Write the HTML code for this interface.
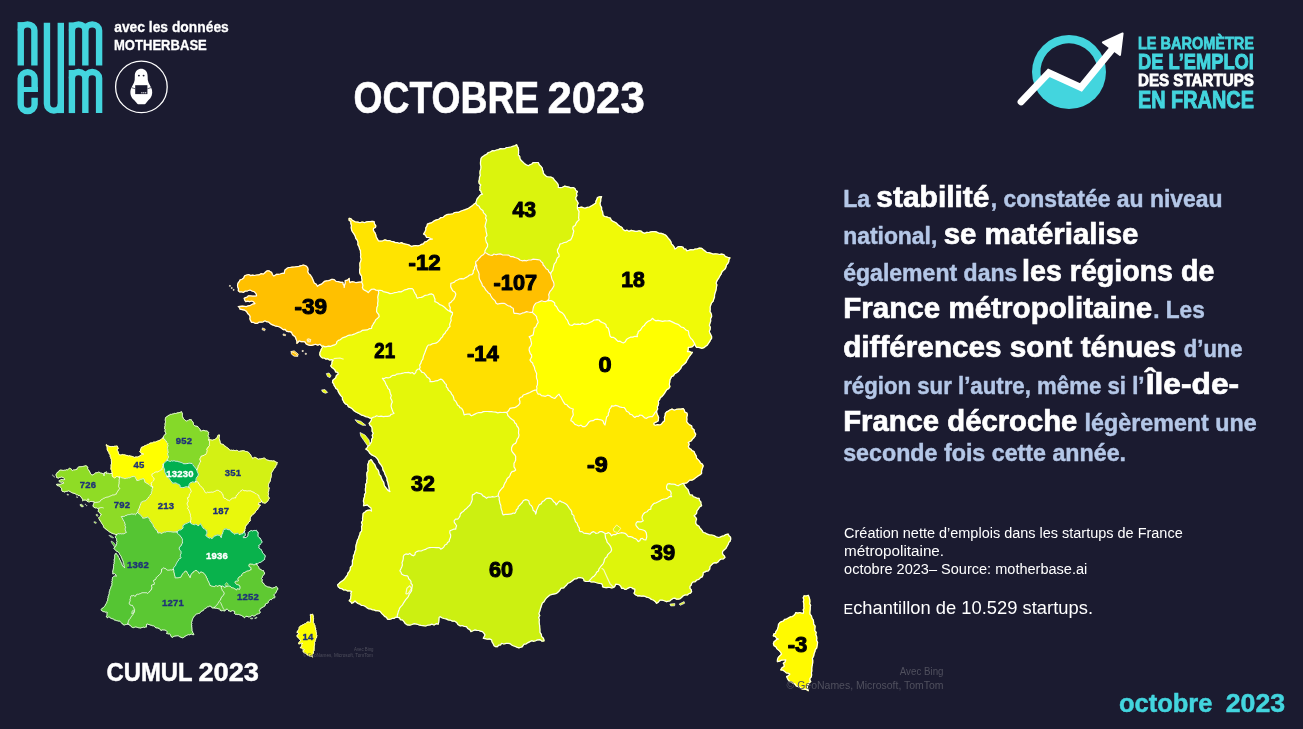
<!DOCTYPE html>
<html lang="fr"><head><meta charset="utf-8"><title>Baromètre de l’emploi des startups - octobre 2023</title>
<style>html,body{margin:0;padding:0;background:#1b1b30;}body{width:1303px;height:729px;overflow:hidden;font-family:"Liberation Sans",sans-serif;}</style></head>
<body>
<svg width="1303" height="729" viewBox="0 0 1303 729" font-family="'Liberation Sans', sans-serif" style="display:block;will-change:transform">
<rect width="1303" height="729" fill="#1b1b30"/>
<g id="bigmap">
<path d="M361.6 282 L359.7 282.2 L357.9 282.4 L356 282.7 L354.1 282 L351.9 281.7 L349.9 282.6 L349.3 280.5 L349.2 278.3 L347.5 280.1 L345.2 280.6 L345.3 283 L344.5 285.2 L344.2 287.5 L344.1 285.7 L343.1 284.1 L342.9 282.3 L340.5 282.4 L338.3 281.6 L336 281.4 L334.2 279.6 L331.9 279.3 L330.2 280.1 L328.5 280.6 L326.6 280.8 L324.6 281.3 L323.1 282.7 L321.6 284.1 L319.3 284.9 L317.4 286.3 L316.3 284.3 L314.2 283 L313.3 280.8 L312.5 278.8 L311.5 276.8 L310.3 275 L308.6 273.6 L307.7 271.7 L308.1 269.6 L307.6 267.6 L306.5 266.3 L304.9 265.5 L303.3 265 L301.1 265.7 L298.9 266.3 L296.6 266.7 L294.6 267 L292.6 267.1 L290.6 267.4 L288.6 267.5 L286.7 268.6 L285 270 L284.5 271.6 L284.3 273.3 L282.2 273.3 L280.3 274 L278.3 274.3 L276.5 274.3 L275.1 275.4 L273.6 276 L272.4 274.5 L271.7 272.6 L270 271.6 L268.8 270.8 L267.3 270.8 L265.9 271.8 L264.6 273 L263.3 274.1 L261 273.7 L258.9 274.9 L256.6 275 L254.6 275.5 L252.6 275.2 L250.7 275.6 L248.7 274.5 L246.7 275 L244.6 275.7 L243.7 278 L242 279.2 L240 280 L239.2 281.7 L238 283.2 L237.5 285 L237.7 286.9 L238.5 288.8 L238.3 290.8 L239.8 291.9 L241.7 291.8 L243.3 292.5 L245.3 291.1 L247.7 290.8 L250 290 L252 291 L254.2 291.7 L255.8 293.3 L256.4 294.5 L256.6 295.8 L254.5 296.2 L252.5 296.1 L250.4 295.9 L248.3 295.8 L247.2 297 L245.6 297.6 L244.2 298.3 L244.7 300.1 L245.8 301.6 L247.7 301.2 L249.6 301.7 L251.4 301 L253.3 301.6 L254.2 302.6 L255 303.6 L252.7 304.1 L250.6 305.3 L248.3 305.8 L246.4 306.6 L244.3 306.4 L242.3 306.2 L240.3 306.3 L238.3 306.6 L239.6 307.6 L240 309.1 L242.4 309.6 L244.7 310.2 L246.7 311.6 L247.7 313.5 L249.2 314.9 L250.2 316.6 L249.9 318.8 L250.6 320.7 L251.7 322.4 L253.7 322.4 L255.5 323.4 L257.5 323.3 L259.2 322.1 L261.3 322.1 L263.2 321.8 L265 320.8 L266.6 321.7 L268.6 322 L270 323.3 L271.5 324.4 L273.3 325.1 L275 325.8 L277.3 326.3 L279.6 327 L281.6 328.3 L283.1 329.6 L285.2 329.4 L286.5 331.1 L288.3 331.6 L290.1 331.6 L291.6 332.4 L292.3 334.1 L293.4 335.6 L295 336.6 L295.8 338.3 L296.4 339.9 L297 341.5 L296.9 343.3 L298.1 342.2 L299.1 340.8 L301 341.6 L303 341.5 L304.9 341.9 L306.2 343.9 L308.3 344.9 L310 345.4 L311.6 345.4 L313.3 344.9 L315.5 344.2 L317.8 345.1 L319.9 344.3 L321.6 345.9 L323.3 346.1 L324.9 346.9 L326.6 346.6 L328.7 346.2 L330.9 346.3 L332.8 345.4 L334.9 344.9 L336.5 343.6 L336.9 341.6 L338.4 340.4 L340.2 339.8 L341.6 338.6 L343.2 337.6 L345.5 336.9 L347.6 335.7 L349.9 335.1 L352.1 334.8 L354.2 334.2 L356.2 333.3 L358.2 332.4 L360.5 331.7 L362.5 330.3 L364.9 330.1 L367.2 329.9 L369.3 328.7 L371.6 328.3 L371.9 326.4 L372.9 324.8 L373.8 323.1 L374.9 321.6 L375.9 319.6 L377.7 318.2 L379.2 316.6 L378.8 314.7 L377.6 313.2 L376.6 311.6 L376.7 309.5 L376.9 307.4 L377.8 305.4 L377.6 303.3 L378 301.2 L378 299.2 L377.7 297.1 L378.2 295 L378.8 292.6 L378.2 290.3 L376 290.1 L373.9 289 L371.6 289.3 L369.8 290.8 L368.2 292.6 L366.7 291.3 L364.9 290.4 L363.2 289.3 L362.4 287.6 L362.9 285.6 L362.5 283.7Z" fill="#ffc000" stroke="#ffc000" stroke-width="1.2" stroke-linejoin="round"/>
<path d="M475.7 203 L473.9 204.2 L472.3 205.8 L470.4 207 L468.6 208.2 L466.6 209.1 L464.6 209.9 L462.6 210.5 L460.6 211.2 L458.8 212.3 L456.6 212.4 L454.5 212.5 L452.8 213.9 L450.8 214.2 L448.7 214.4 L446.7 214.7 L444.9 215.8 L443.1 217.4 L440.7 217.7 L438.8 219.2 L436.6 219.9 L434.7 220.6 L433 221.8 L431.3 222.9 L429.3 223.4 L427.4 224.1 L427 226.1 L425.8 227.8 L425.8 229.9 L424.8 232.1 L423.6 234.1 L425.6 235.3 L426.6 237.4 L428.7 237.5 L430.5 238.5 L432.4 239.1 L430.2 239.3 L428.3 240.1 L426.6 241.6 L424.6 242 L423.5 243.9 L421.6 244.4 L419.9 245.3 L417.9 245.9 L415.7 245.5 L413.6 245.8 L411.6 246.6 L409.7 245.4 L407.7 244.5 L405.5 244.1 L403.3 243.6 L401.4 242.6 L399.2 243.5 L397.3 242.5 L395.2 242.6 L393.3 241.6 L391.2 241.3 L389.2 240.5 L387 240.6 L385 239.9 L382.8 240.8 L380.6 241.1 L378.3 240.8 L377.3 238.9 L376.2 237 L375.8 234.9 L375.2 233.1 L374 231.6 L373.3 229.9 L373.6 228.2 L375.5 227.5 L375.8 225.8 L374.5 223.9 L374.1 221.6 L372.2 221.3 L370.3 221.6 L368.5 221.7 L366.6 221.9 L364.5 222.7 L362.1 222 L360 222.8 L357.8 222.1 L355.4 222 L353.3 220.8 L351.9 219.9 L350.8 218.6 L349.1 218.3 L349.1 220.2 L350.9 221.4 L350.8 223.3 L351.5 225.5 L351.2 227.7 L351.6 229.9 L352.6 232 L354 233.9 L355.2 236 L355.8 238.3 L357.2 240.1 L358 242.2 L357.9 244.7 L359.1 246.6 L359.5 248.7 L360.5 250.6 L360.5 252.8 L360.8 254.9 L360.5 257 L361.2 259 L360.8 261.1 L359.9 263.2 L359.9 265.5 L360.1 267.8 L359.6 270 L359.6 272.2 L360.3 274.2 L361.6 276.1 L361.6 278.3 L362.2 280.1 L361.6 282 L362.5 283.7 L362.9 285.6 L362.4 287.6 L363.2 289.3 L364.9 290.4 L366.7 291.3 L368.2 292.6 L369.8 290.8 L371.6 289.3 L373.9 289 L376 290.1 L378.2 290.3 L380 290.3 L381.7 290.5 L383.2 291.6 L385.5 292.1 L387.8 292.6 L389.9 293.6 L392.1 293.5 L394.3 292.7 L396.5 292.5 L398.7 291.7 L401.1 291.9 L403.2 290.8 L404.9 289.8 L406.9 289.4 L408.7 288.6 L410.7 288.6 L412.2 288.6 L413.2 289.6 L414 291.5 L414.9 293.3 L416.1 294.8 L416.5 296.7 L417.4 298.3 L419.3 297.5 L421.3 297.4 L423.2 296.6 L425.2 295.3 L427.6 295 L429.8 294.1 L431.8 293.9 L433.5 295 L434.2 297.1 L435 299.3 L434.8 301.6 L436.6 302.3 L438.2 303.3 L439.7 304.6 L441.6 305.2 L443.2 306.3 L444.8 307.5 L446.3 309.1 L448.1 310.4 L450 311.6 L451.1 312.3 L452.5 312.4 L450.9 311.5 L450 309.9 L450.3 307.6 L449.2 305.5 L449.1 303.3 L450.9 302.4 L452.1 300.9 L453.6 299.6 L454.5 297.9 L455.4 296 L455.8 294.1 L454.8 292 L452.7 290.7 L451.6 288.6 L450.7 286.9 L450.8 285.1 L450.8 283.3 L452.6 282.8 L454.4 282.1 L455.7 280.7 L457.5 280 L459.4 278.9 L461.6 278.7 L463.9 278.8 L465.8 277.6 L467.8 276.5 L469.6 275 L471.9 274.6 L473.2 273 L473.3 270.7 L474.6 269.1 L474.6 267.2 L475.8 265.4 L475.7 263.5 L475.8 261.6 L477.5 260.5 L478.5 258.9 L479.9 257.5 L481.5 255.7 L483.6 254.5 L484.9 252.5 L485 250.7 L485.8 249.3 L486.6 247.9 L487.5 246.6 L487.6 244.2 L486.3 242.2 L485.8 239.9 L485.4 237.6 L487 235.6 L486.6 233.3 L486 231.1 L485.9 228.7 L485 226.6 L485.4 224.3 L486 222.1 L486.6 219.9 L485.5 218.1 L486.2 215.8 L485 214.1 L483.5 212.9 L483 210.8 L481.4 209.6 L480 208.3 L479.1 206.2 L476.9 205 L475.8 203Z" fill="#ffe400" stroke="#ffe400" stroke-width="1.2" stroke-linejoin="round"/>
<path d="M475.8 203 L476.4 201.1 L477 199.1 L478.3 197.5 L479.4 196 L480.7 194.7 L482.5 194.1 L481.3 192.9 L481 191.1 L479.7 190 L480.1 188.3 L480 186.6 L480.8 185 L479.2 183.3 L478.9 181.3 L479.4 179.3 L479.5 177.3 L480.4 175.3 L480 173.3 L480.1 171.1 L480.8 168.9 L481 166.7 L480.5 164.4 L480.5 162.2 L480.8 160 L481.2 158.1 L482.5 156.7 L484.5 155.4 L486.7 154.3 L488.3 152.5 L490.4 152 L492.3 150.7 L494.6 150.8 L496.6 150 L498.6 149.6 L500.5 148.6 L502.7 148.8 L504.8 148.7 L506.6 147.5 L508.7 147.4 L510.8 147 L512.8 146.4 L514.8 145.8 L516.6 144.7 L517.3 146.5 L518.3 148.1 L518.6 150 L518.5 151.7 L518.6 153.3 L518.3 155 L519.7 156.5 L519.9 158.7 L521 160.3 L522.5 161.7 L524.2 163.4 L526.1 164.8 L528.3 165.8 L530 164.7 L531.9 164 L533.3 162.5 L535 162.7 L536.6 162.5 L538.3 162.5 L539.2 164.7 L541 166.4 L542.4 168.3 L542.5 170 L543.2 171.6 L543.3 173.3 L544.9 175 L546.6 176.6 L548.9 177 L551.2 177.2 L553.3 178.3 L554.4 180.2 L555.9 181.7 L557.4 183.3 L558.3 185.3 L558.3 187.5 L560.4 187.7 L562.5 187.3 L564.5 186.2 L566.6 186.6 L568.8 187.2 L570.9 187.8 L573.2 187.5 L574.9 188.6 L575.8 190.4 L577.4 191.6 L576.4 193.4 L576.9 195.7 L575.7 197.5 L576 199.7 L577.3 201.4 L578.2 203.3 L577.4 204.9 L577.4 206.6 L577.4 208.4 L578.2 210.1 L579.1 211.6 L578.8 213.7 L578.8 215.8 L578.6 217.8 L579.1 219.9 L577.4 221.4 L576.1 223.2 L575.2 225.4 L573.2 226.6 L572.7 228.8 L573.8 231.1 L573.2 233.3 L572.7 235.6 L571.8 237.8 L570.7 239.9 L568.5 240.6 L566.6 242.1 L564.2 242.5 L562.1 243.5 L559.9 244.1 L559.4 246.2 L558.5 248.1 L557.4 249.9 L557.6 252.2 L559 254.3 L559.1 256.6 L557.3 257.9 L556.5 260 L555.9 262.2 L554.3 263.9 L553.7 266.1 L553.2 268.3 L552.8 270.4 L551.3 272.1 L550.7 274.1 L549.9 272.7 L548.7 271.6 L548.2 270 L546.1 268.8 L544.8 266.7 L543.2 265 L542.7 263 L541.1 261.6 L539.9 260 L537.7 259.7 L535.4 259.4 L533.2 259.1 L531.1 260 L528.7 260 L526.6 260.8 L524.4 260.4 L522.1 260.8 L519.9 260 L518.5 258.7 L516.7 258 L514.9 257.5 L512.9 256.6 L510.6 256.6 L508.8 255.1 L506.6 255 L504.5 255 L502.4 254.8 L500.4 253.9 L498.3 254.1 L496.2 254.7 L494 254 L492.1 255.4 L489.9 255 L488.1 254.4 L486.7 253.2 L484.9 252.5 L485 250.7 L485.8 249.3 L486.6 247.9 L487.5 246.6 L487.6 244.2 L486.3 242.2 L485.8 239.9 L485.4 237.6 L487 235.6 L486.6 233.3 L486 231.1 L485.9 228.7 L485 226.6 L485.4 224.3 L486 222.1 L486.6 219.9 L485.5 218.1 L486.2 215.8 L485 214.1 L483.5 212.9 L483 210.8 L481.4 209.6 L480 208.3 L479.1 206.2 L476.9 205Z" fill="#dbf40d" stroke="#dbf40d" stroke-width="1.2" stroke-linejoin="round"/>
<path d="M577.5 207.5 L579.4 207.5 L581.3 207.2 L583.2 207.7 L585 208.3 L587.2 207.4 L589.5 207 L591.6 205.8 L593 204.9 L594.4 204.1 L595.8 203.3 L595.9 201.2 L596.9 199.4 L597.5 197.5 L599.5 196.8 L601.6 196.7 L600.7 198.8 L600.7 201.1 L600 203.3 L600.4 205.6 L601.6 207.6 L601.6 210 L602.6 211.8 L602.8 213.8 L603.3 215.8 L604.9 216.5 L606.6 216.9 L608.3 217.5 L610.3 218.1 L611.3 220.2 L613 221.4 L614.9 222.2 L616.6 223.3 L618.1 225 L619.9 226.3 L622 227.5 L623.1 229.5 L625 230.8 L627.1 230.2 L629.1 231.4 L631.2 230.4 L633.3 230.8 L635.2 231.3 L637.2 231.4 L639.1 230.8 L641.2 231.2 L642.8 232.7 L644.9 233.3 L646.8 232.4 L648.9 232.5 L650.8 231.9 L652.8 231.5 L654.9 231.6 L657 232.2 L659 233.3 L661.2 233.4 L663.3 234.1 L665.4 235 L666.9 236.5 L668.3 238.3 L669.8 240 L670.9 241.9 L671.6 244.1 L673.1 245.5 L674.2 247.2 L674.9 249.1 L676.6 247.9 L678.2 246.6 L679.9 246.5 L681.6 246.7 L683.2 247.4 L683.9 248.9 L685.9 249.2 L686.6 250.8 L688.8 250.4 L690.9 249.6 L693.2 249.9 L695.2 249.1 L697.3 248.8 L699.4 248.2 L701.6 248.3 L703.3 249.7 L705 251 L706.6 252.4 L708.9 252.7 L711.1 253.3 L713.2 254.1 L715.3 253.9 L717.4 254 L719.4 254.5 L721.5 254.1 L723.8 254.5 L725.4 256.6 L727.6 257.3 L729.9 257.9 L728.9 259.6 L728.7 261.7 L727.8 263.4 L726.5 264.9 L726 266.8 L725.4 268.5 L724 269.9 L722.1 271.5 L721.2 273.8 L719.9 275.8 L718.9 277.8 L717.6 279.6 L716.5 281.6 L716.1 283.3 L716.9 284.9 L716.5 286.6 L716.2 288.9 L715.7 291.1 L714.9 293.2 L714.5 295.2 L714.5 297.3 L713.7 299.1 L713.2 301.1 L711.6 302.8 L710.7 305 L710.1 307.2 L710.2 309.4 L709.9 311.6 L710.9 313.1 L711.5 314.8 L711.6 316.6 L710.5 318.7 L710.7 321.1 L709.9 323.3 L709.3 325.3 L710.3 327.3 L710.1 329.3 L709.3 331.3 L709.9 333.3 L710.8 334.9 L711.6 336.5 L711.6 338.3 L710.4 339.9 L709.6 341.7 L708.4 343.3 L707.4 345 L705.6 346.3 L703.8 347.7 L701.6 348.3 L700 347.6 L698.3 347.4 L696.6 347.4 L695.5 345.9 L694.9 344.1 L693.7 342 L692.5 339.9 L690.7 338.3 L689.7 336.5 L688.9 334.7 L688.7 332.7 L688.2 330.8 L686.3 330.2 L684.8 328.9 L683.4 327.5 L681.3 327.2 L679.9 325.8 L678 324.3 L675.8 323.7 L673.7 322.6 L671.6 321.6 L669.4 320.6 L667.1 321 L664.9 320.8 L662.6 321.3 L660.3 320.8 L658.1 320.4 L655.8 320.8 L654 319.7 L652.4 318.3 L650.8 320.2 L648.5 321.1 L646.6 322.5 L645.3 323.9 L644.3 325.6 L642.6 326.7 L641.6 328.3 L640.3 330.3 L638.3 331.6 L638 333.3 L637.1 334.8 L637.4 336.6 L635 336.3 L632.8 337.1 L630.4 337.2 L628.3 338.3 L626.4 339.6 L625.3 341.7 L623.3 343 L621.6 342.3 L620.1 341.2 L618 341.4 L616.6 340 L615.2 338.5 L613.6 337.4 L611.3 337.4 L610 335.8 L609.6 333.9 L609.3 332 L608.8 330.2 L608.3 328.3 L606.4 327 L605.9 324.6 L604.1 323.3 L602.2 322.5 L600.4 321.6 L599.1 320 L597.4 319.7 L595.8 319.9 L594.1 320 L592.3 321.4 L590.2 322.2 L588.3 323.3 L586.3 323.9 L584.3 324.1 L582.2 323.1 L580.3 324.5 L578.3 324.1 L576.2 324.4 L574.1 323.9 L572.1 325.4 L570 325 L568.6 323.6 L568 321.6 L567.1 319.8 L565.8 318.3 L564.8 316.1 L563.5 314.1 L561.7 312.5 L559.8 311.6 L558.4 310.2 L557.4 308.3 L556.5 306.5 L554.8 305.2 L554.7 303 L553.2 301.6 L551.4 300.7 L549.4 300.6 L547.4 300.8 L548.9 299 L549.1 296.6 L548.7 294.8 L549.3 293.2 L549.9 291.6 L551.5 289.8 L552.8 287.9 L554 285.8 L554 283.7 L553.4 281.8 L552.4 280 L551.7 278.1 L551.3 276.1 L550.7 274.1 L551.3 272.1 L552.8 270.4 L553.2 268.3 L553.7 266.1 L554.3 263.9 L555.9 262.2 L556.5 260 L557.3 257.9 L559.1 256.6 L559 254.3 L557.6 252.2 L557.4 249.9 L558.5 248.1 L559.4 246.2 L559.9 244.1 L562.1 243.5 L564.2 242.5 L566.6 242.1 L568.5 240.6 L570.7 239.9 L571.8 237.8 L572.7 235.6 L573.2 233.3 L573.8 231.1 L572.7 228.8 L573.2 226.6 L575.2 225.4 L576.1 223.2 L577.4 221.4 L579.1 219.9 L578.6 217.8 L578.8 215.8 L578.8 213.7 L579.1 211.6 L578.2 210.1 L577.4 208.4 L577.4 206.6Z" fill="#f0fa07" stroke="#f0fa07" stroke-width="1.2" stroke-linejoin="round"/>
<path d="M547.4 300.8 L549.4 300.6 L551.4 300.7 L553.2 301.6 L554.7 303 L554.8 305.2 L556.5 306.5 L557.4 308.3 L558.4 310.2 L559.8 311.6 L561.7 312.5 L563.5 314.1 L564.8 316.1 L565.8 318.3 L567.1 319.8 L568 321.6 L568.6 323.6 L570 325 L572.1 325.4 L574.1 323.9 L576.2 324.4 L578.3 324.1 L580.3 324.5 L582.2 323.1 L584.3 324.1 L586.3 323.9 L588.3 323.3 L590.2 322.2 L592.3 321.4 L594.1 320 L595.8 319.9 L597.4 319.7 L599.1 320 L600.4 321.6 L602.2 322.5 L604.1 323.3 L605.9 324.6 L606.4 327 L608.3 328.3 L608.8 330.2 L609.3 332 L609.6 333.9 L610 335.8 L611.3 337.4 L613.6 337.4 L615.2 338.5 L616.6 340 L618 341.4 L620.1 341.2 L621.6 342.3 L623.3 343 L625.3 341.7 L626.4 339.6 L628.3 338.3 L630.4 337.2 L632.8 337.1 L635 336.3 L637.4 336.6 L637.1 334.8 L638 333.3 L638.3 331.6 L640.3 330.3 L641.6 328.3 L642.6 326.7 L644.3 325.6 L645.3 323.9 L646.6 322.5 L648.5 321.1 L650.8 320.2 L652.4 318.3 L654 319.7 L655.8 320.8 L658.1 320.4 L660.3 320.8 L662.6 321.3 L664.9 320.8 L667.1 321 L669.4 320.6 L671.6 321.6 L673.7 322.6 L675.8 323.7 L678 324.3 L679.9 325.8 L681.3 327.2 L683.4 327.5 L684.8 328.9 L686.3 330.2 L688.2 330.8 L688.7 332.7 L688.9 334.7 L689.7 336.5 L690.7 338.3 L692.5 339.9 L693.7 342 L694.9 344.1 L693.6 345.3 L692.4 346.6 L690.3 347.1 L688.2 347.4 L688.2 349.6 L687.4 351.6 L689.1 351.4 L690.7 352.1 L692.4 352.4 L691.2 353.8 L690.2 355.3 L689 356.7 L688.2 358.3 L687 360 L686.2 362 L684.8 363.5 L683.2 364.9 L681.6 366.3 L680.8 368.3 L679.4 369.9 L678.2 371.6 L676.4 372.7 L674.7 373.8 L673.5 375.7 L671.6 376.6 L670.8 378.3 L669.9 379.9 L669.7 382.1 L669.3 384.4 L669.9 386.6 L668.8 388.5 L666.8 389.6 L665.6 391.3 L664.6 393.2 L663.3 394.9 L662 396.4 L660.3 397.6 L659.6 399.6 L658.3 401.1 L658.6 403.1 L658.3 405 L657.3 406.8 L657.7 409 L656.6 410.8 L655 412.6 L653.8 414.7 L652.4 416.6 L650.3 416.6 L648.4 417.1 L646.6 418.3 L644.7 417.9 L643.3 416.5 L641.8 415.3 L639.9 415 L638.5 416.4 L636.4 416.3 L634.9 417.5 L633.3 416.2 L631.9 414.7 L629.9 414.1 L628.7 412.2 L626.5 411.3 L625.5 409.2 L624.1 407.5 L621.8 407.4 L619.6 406.9 L617.5 405.8 L615.5 405.4 L613.6 406.2 L611.6 405.8 L610.9 407.7 L609.3 409.3 L609.3 411.5 L608.3 413.3 L608.3 415.4 L606.6 417 L606.2 419 L605.8 421 L605.4 423 L605 425 L603.8 423.4 L603.2 421.3 L601.6 420 L599.5 419.7 L597.5 419.1 L595.2 419.3 L593.2 420.7 L590.8 420.8 L589 421.9 L587.8 423.6 L586.6 425.3 L585 426.6 L582.8 426.7 L581 425.1 L578.7 426 L576.7 425 L574.9 424.4 L573.7 422.9 L572.5 421.5 L570.8 420.8 L571.3 418.7 L572.3 416.8 L573.3 415 L573 413 L572.7 411.1 L573.3 409.1 L571.5 408.5 L569.8 407.7 L568.3 406.6 L567 404.8 L564.9 404.1 L563.6 402.2 L562.5 400.3 L561.5 398.3 L560.8 396.8 L559.7 395.6 L559 394.1 L557.5 395.4 L556.2 396.8 L554.9 398.3 L553.1 397.8 L551.3 397.1 L549.9 395.8 L547.7 395.2 L545.4 396.3 L543.2 395.8 L541.4 395.6 L540.1 394.1 L538.2 394.1 L537 392.2 L536.6 390 L537 388.4 L536.6 386.6 L537.4 385 L537.5 382.7 L537.5 380.5 L536.6 378.3 L536.4 376 L536.7 373.7 L535.7 371.6 L534.8 369.4 L534.4 367.1 L533.2 365 L532.6 363 L531 361.7 L529.9 360 L530.8 358.5 L531.7 356.9 L531.6 355 L530.3 353.6 L529.7 351.8 L529.1 350 L529.4 347.6 L531 345.6 L531.6 343.3 L531 341 L530.5 338.7 L529.1 336.7 L531.2 335.9 L533.2 334.9 L533.5 332.7 L534 330.5 L534.1 328.3 L536 326.7 L536.9 324.4 L538.2 322.4 L537.7 320.4 L536.8 318.6 L536.6 316.6 L535.3 315.1 L533.8 313.8 L532.4 312.4 L532.9 310.4 L533.2 308.3 L533.7 306.5 L534.6 304.8 L535.7 303.3 L537.8 302.5 L539.9 301.6 L541.7 300.8 L543.7 301.5 L545.6 301.6Z" fill="#ffff00" stroke="#ffff00" stroke-width="1.2" stroke-linejoin="round"/>
<path d="M475.8 261.6 L475.7 263.5 L475.8 265.4 L474.6 267.2 L474.6 269.1 L473.3 270.7 L473.2 273 L471.9 274.6 L469.6 275 L467.8 276.5 L465.8 277.6 L463.9 278.8 L461.6 278.7 L459.4 278.9 L457.5 280 L455.7 280.7 L454.4 282.1 L452.6 282.8 L450.8 283.3 L450.8 285.1 L450.7 286.9 L451.6 288.6 L452.7 290.7 L454.8 292 L455.8 294.1 L455.4 296 L454.5 297.9 L453.6 299.6 L452.1 300.9 L450.9 302.4 L449.1 303.3 L449.2 305.5 L450.3 307.6 L450 309.9 L450.9 311.5 L452.5 312.4 L452.4 314.5 L451.4 316.3 L450.8 318.3 L451.2 320.4 L450.4 322.4 L449.6 324.5 L450 326.6 L448.3 328 L447.5 329.9 L445.9 331.4 L445 333.3 L443.3 334.7 L442.5 336.9 L440.8 338.3 L439.5 340.3 L437.8 341.9 L435.8 343.2 L433.9 343.5 L432 343.9 L430.3 345 L428.3 345 L427.2 346.5 L426.5 348.3 L425.8 350 L425 352.2 L424.1 354.4 L423.3 356.6 L422.9 359 L421.5 361 L420.8 363.3 L419.6 365.1 L420.2 367.3 L419.2 369.1 L420.6 370.4 L421.7 372.1 L423.7 372.7 L425 374.1 L426.2 375.7 L427.3 377.3 L429.1 378.3 L430.2 379.8 L430 381.6 L432 381.6 L433.9 381.5 L435.8 380.8 L437.6 380.7 L439.2 379.8 L440.8 379.1 L442.6 380.1 L443.8 381.7 L445 383.3 L446.4 384.7 L446.3 386.8 L447.7 388.2 L448.3 390 L449.7 391.1 L450.9 392.4 L451.6 394.1 L453 395.8 L453.7 397.8 L454.1 399.9 L455.7 401.3 L456.7 403 L457.5 404.9 L459 405.9 L459.9 407.6 L461.6 408.3 L462.9 410.3 L463.6 412.6 L464.1 414.9 L466 414.3 L467.9 414 L469.9 414.1 L470.4 415.3 L471.6 415.8 L473.2 414.9 L474.9 414.1 L476.6 413.3 L478.8 412.5 L481.2 412.7 L483.3 411.6 L485.4 411.5 L487.5 411.5 L489.5 411.7 L491.6 411.6 L493.7 412 L495.7 412.2 L497.8 412.8 L499.9 412.4 L502.1 412.5 L504.4 412.3 L506.6 412.4 L508.1 411.3 L509.1 409.9 L509.9 408.3 L512.2 407.9 L514.5 407.7 L516.6 406.6 L518.5 405.2 L519.9 403.3 L519.9 401.1 L519.1 399.1 L520.2 397.5 L522.3 396.8 L523.2 395 L525.5 394.3 L527.7 393.4 L529.9 392.5 L531.5 391.6 L533.2 390.8 L534.8 390.1 L536.6 390 L537 388.4 L536.6 386.6 L537.4 385 L537.5 382.7 L537.5 380.5 L536.6 378.3 L536.4 376 L536.7 373.7 L535.7 371.6 L534.8 369.4 L534.4 367.1 L533.2 365 L532.6 363 L531 361.7 L529.9 360 L530.8 358.5 L531.7 356.9 L531.6 355 L530.3 353.6 L529.7 351.8 L529.1 350 L529.4 347.6 L531 345.6 L531.6 343.3 L531 341 L530.5 338.7 L529.1 336.7 L531.2 335.9 L533.2 334.9 L533.5 332.7 L534 330.5 L534.1 328.3 L536 326.7 L536.9 324.4 L538.2 322.4 L537.7 320.4 L536.8 318.6 L536.6 316.6 L535.3 315.1 L533.8 313.8 L532.4 312.4 L530.4 312.3 L528.5 312 L526.6 311.6 L524.4 312.6 L522.1 313.2 L519.9 314.1 L518 313.6 L516.1 313.4 L514.1 313.3 L513.6 311.7 L513.5 310 L513.2 308.3 L511.5 307.5 L510.2 306.1 L508.3 305.8 L506.9 305 L505.5 304.1 L504.1 303.3 L501.8 303.4 L499.6 303.7 L497.4 304.1 L495.9 303 L495.3 301.2 L494.1 299.9 L492.8 298.7 L491.7 297.3 L490.8 295.8 L490.1 294.1 L488.4 293.1 L487.4 291.6 L485.9 290.3 L485 288.6 L484 287 L482.4 285.8 L481.9 283.7 L480.9 281.9 L479.9 280 L479.2 278.1 L479 276.1 L479.1 274.1 L478.4 271.9 L477.2 269.8 L476.6 267.5 L476.7 265.5 L475.6 263.6Z" fill="#ffe000" stroke="#ffe000" stroke-width="1.2" stroke-linejoin="round"/>
<path d="M321.6 345.9 L323.3 346.1 L324.9 346.9 L326.6 346.6 L328.7 346.2 L330.9 346.3 L332.8 345.4 L334.9 344.9 L336.5 343.6 L336.9 341.6 L338.4 340.4 L340.2 339.8 L341.6 338.6 L343.2 337.6 L345.5 336.9 L347.6 335.7 L349.9 335.1 L352.1 334.8 L354.2 334.2 L356.2 333.3 L358.2 332.4 L360.5 331.7 L362.5 330.3 L364.9 330.1 L367.2 329.9 L369.3 328.7 L371.6 328.3 L371.9 326.4 L372.9 324.8 L373.8 323.1 L374.9 321.6 L375.9 319.6 L377.7 318.2 L379.2 316.6 L378.8 314.7 L377.6 313.2 L376.6 311.6 L376.7 309.5 L376.9 307.4 L377.8 305.4 L377.6 303.3 L378 301.2 L378 299.2 L377.7 297.1 L378.2 295 L378.8 292.6 L378.2 290.3 L380 290.3 L381.7 290.5 L383.2 291.6 L385.5 292.1 L387.8 292.6 L389.9 293.6 L392.1 293.5 L394.3 292.7 L396.5 292.5 L398.7 291.7 L401.1 291.9 L403.2 290.8 L404.9 289.8 L406.9 289.4 L408.7 288.6 L410.7 288.6 L412.2 288.6 L413.2 289.6 L414 291.5 L414.9 293.3 L416.1 294.8 L416.5 296.7 L417.4 298.3 L419.3 297.5 L421.3 297.4 L423.2 296.6 L425.2 295.3 L427.6 295 L429.8 294.1 L431.8 293.9 L433.5 295 L434.2 297.1 L435 299.3 L434.8 301.6 L436.6 302.3 L438.2 303.3 L439.7 304.6 L441.6 305.2 L443.2 306.3 L444.8 307.5 L446.3 309.1 L448.1 310.4 L450 311.6 L451.1 312.3 L452.5 312.4 L452.4 314.5 L451.4 316.3 L450.8 318.3 L451.2 320.4 L450.4 322.4 L449.6 324.5 L450 326.6 L448.3 328 L447.5 329.9 L445.9 331.4 L445 333.3 L443.3 334.7 L442.5 336.9 L440.8 338.3 L439.5 340.3 L437.8 341.9 L435.8 343.2 L433.9 343.5 L432 343.9 L430.3 345 L428.3 345 L427.2 346.5 L426.5 348.3 L425.8 350 L425 352.2 L424.1 354.4 L423.3 356.6 L422.9 359 L421.5 361 L420.8 363.3 L419.6 365.1 L420.2 367.3 L419.2 369.1 L418.2 369.1 L416.3 370.4 L415.7 372.6 L414.1 374.1 L412.4 372.5 L410.5 373.1 L408.6 372.4 L406.8 372.7 L404.9 372.5 L402.9 373.2 L400.8 373.7 L398.7 373.8 L396.6 374.1 L395.1 375.4 L393 375.3 L391.3 376.2 L389.9 377.5 L388 377.8 L386.1 377.5 L384.3 378.5 L382.4 378.3 L383.6 380 L384.9 381.6 L385.6 383.4 L386.3 385.1 L387.4 386.6 L387.9 388.4 L389.5 389.7 L389.9 391.6 L390.4 393.7 L391.3 395.6 L390.5 398 L391.6 399.9 L392.3 402 L391.4 404.1 L391.1 406.2 L391.6 408.3 L392.3 410 L392.9 411.8 L394.1 413.3 L392.6 414 L391 414.4 L389.9 415.8 L387.7 416.4 L385.5 416.3 L383.3 416.6 L381.1 416.1 L378.8 416.5 L376.6 415.8 L375 416.7 L373.2 417.3 L371.6 418.3 L369.6 417.9 L367.8 417 L365.8 416.6 L363.9 415.7 L361.8 415.2 L359.9 414.1 L358 413 L356 412 L354.1 410.8 L352.5 409 L350.5 407.6 L348.3 406.6 L347.4 404.7 L345.4 403.9 L344.1 402.4 L343.3 400.8 L342.4 399.3 L342.5 397.4 L340.8 395.7 L339.5 393.7 L338.3 391.6 L337.7 389.6 L335.9 388.4 L335 386.6 L334.1 385.3 L333.7 383.6 L332.5 382.5 L332.7 380.5 L334.1 379.1 L335.8 377.7 L336.4 375.4 L338.3 374.1 L337.7 372.3 L335.6 371.8 L335 370 L333.6 368.6 L331.9 367.5 L330.8 365.8 L331.9 364 L332 361.8 L333.3 360 L331.4 359.6 L329.5 360 L327.8 358.7 L325.8 359.1 L324.2 358 L322.2 357.9 L320.8 356.6 L319.8 354.7 L320 352.5 L320.8 350.8 L321.4 349 L322.5 347.5Z" fill="#edf908" stroke="#edf908" stroke-width="1.2" stroke-linejoin="round"/>
<path d="M371.6 418.3 L373.2 417.3 L375 416.7 L376.6 415.8 L378.8 416.5 L381.1 416.1 L383.3 416.6 L385.5 416.3 L387.7 416.4 L389.9 415.8 L391 414.4 L392.6 414 L394.1 413.3 L392.9 411.8 L392.3 410 L391.6 408.3 L391.1 406.2 L391.4 404.1 L392.3 402 L391.6 399.9 L390.5 398 L391.3 395.6 L390.4 393.7 L389.9 391.6 L389.5 389.7 L387.9 388.4 L387.4 386.6 L386.3 385.1 L385.6 383.4 L384.9 381.6 L383.6 380 L382.4 378.3 L384.3 378.5 L386.1 377.5 L388 377.8 L389.9 377.5 L391.3 376.2 L393 375.3 L395.1 375.4 L396.6 374.1 L398.7 373.8 L400.8 373.7 L402.9 373.2 L404.9 372.5 L406.8 372.7 L408.6 372.4 L410.5 373.1 L412.4 372.5 L414.1 374.1 L415.7 372.6 L416.3 370.4 L418.2 369.1 L419.2 369.1 L420.6 370.4 L421.7 372.1 L423.7 372.7 L425 374.1 L426.2 375.7 L427.3 377.3 L429.1 378.3 L430.2 379.8 L430 381.6 L432 381.6 L433.9 381.5 L435.8 380.8 L437.6 380.7 L439.2 379.8 L440.8 379.1 L442.6 380.1 L443.8 381.7 L445 383.3 L446.4 384.7 L446.3 386.8 L447.7 388.2 L448.3 390 L449.7 391.1 L450.9 392.4 L451.6 394.1 L453 395.8 L453.7 397.8 L454.1 399.9 L455.7 401.3 L456.7 403 L457.5 404.9 L459 405.9 L459.9 407.6 L461.6 408.3 L462.9 410.3 L463.6 412.6 L464.1 414.9 L466 414.3 L467.9 414 L469.9 414.1 L470.4 415.3 L471.6 415.8 L473.2 414.9 L474.9 414.1 L476.6 413.3 L478.8 412.5 L481.2 412.7 L483.3 411.6 L485.4 411.5 L487.5 411.5 L489.5 411.7 L491.6 411.6 L493.7 412 L495.7 412.2 L497.8 412.8 L499.9 412.4 L502.1 412.5 L504.4 412.3 L506.6 412.4 L506.5 412.5 L507.5 413.8 L507.8 415.5 L509 416.7 L510.5 418.3 L512.2 419.6 L514 420.8 L514.7 422.7 L516.3 424 L516.9 426 L518.2 427.5 L518.8 429.3 L518.6 431.3 L518.5 433.2 L519 435 L518.5 437.3 L517 439.3 L516.5 441.6 L515.5 443.4 L513.6 444.2 L512.4 445.8 L511.6 447.8 L511.5 450 L512.3 451.9 L513.6 453.5 L514.9 455 L515.7 456.6 L515.6 458.3 L515.7 460 L515 461.6 L514 463.2 L514 465 L514 466.9 L515 468.4 L515.7 470 L514.1 471.2 L512 471.6 L510.7 473.3 L510.1 475.2 L509.1 476.9 L507.4 478.2 L506.5 479.9 L505.9 481.7 L504.8 483.2 L504 484.9 L503.5 486.9 L502 488.3 L500.7 489.9 L499.3 491.6 L498.5 493.6 L498.2 495.8 L496.3 496.5 L494.4 497 L492.4 496.6 L490.4 497.2 L488.3 497.1 L486.5 498.3 L484.9 496.9 L482.9 495.9 L481.6 494.1 L480 493.5 L478.2 493.2 L476.6 492.4 L475.2 493.3 L474 494.4 L472.4 494.9 L472.1 497.1 L472.3 499.4 L471.6 501.6 L470.8 503.5 L469.8 505.2 L468.2 506.6 L466.6 508.4 L464.7 509.8 L463.2 511.6 L461.6 512.5 L460.3 514 L460 515.9 L459.1 517.5 L457.8 519.2 L455.5 519.2 L454.1 520.8 L454.4 522.7 L455.6 524.2 L456.6 525.8 L456 527.4 L455.7 529.2 L453.6 529.2 L451.8 530 L449.9 530.8 L449.8 533 L450.7 535 L450.5 537.3 L449.5 539.4 L449.1 541.6 L447.5 542.5 L446.7 544.3 L444.9 545 L443.9 546.8 L442.6 548.2 L440.7 549.1 L439.7 547.9 L438.3 547.5 L436.1 547.6 L433.8 547.5 L431.6 547.5 L429.4 547.6 L427.3 548.3 L425.4 549.4 L423.3 550 L421.2 551 L418.8 550.9 L416.6 551.6 L415.2 552.8 L414.9 554.8 L413.3 555.8 L411.3 554.9 L409.9 553.3 L408.1 554.4 L405.9 553.9 L404.1 555 L403.3 556.5 L403.3 558.3 L402.9 560.5 L402 562.7 L402.4 565 L401.7 567 L400.8 568.9 L399.9 570.8 L401.1 572.3 L401.6 574.1 L403.4 575.1 L405.3 575.7 L407.4 575.8 L408.3 577.1 L408.7 578.8 L409.9 579.9 L411 581.4 L411 583.5 L412.4 584.9 L412.1 586.9 L411.7 588.8 L411.6 590.8 L410.3 592.6 L409.1 594.5 L408.3 596.6 L407.2 598 L405.9 599.3 L404.9 600.8 L403.6 602.8 L402.5 604.9 L400.8 606.6 L399.6 608.1 L399 609.9 L398.3 611.6 L397.9 613.5 L397.2 615.4 L397.4 617.4 L395.7 617.2 L394.2 618.3 L392.5 618.3 L390.9 619 L389.2 619.3 L387.5 619.1 L386.5 617.3 L384.6 616.4 L383.3 614.9 L381.9 613.6 L380.7 612 L379.1 610.8 L377.4 610.6 L375.7 610.6 L374.1 609.9 L372.1 609.6 L370.3 608.8 L368.3 608.6 L366.6 607.4 L365.1 606.2 L363.4 605.5 L361.4 605.4 L360 604.1 L358 603.5 L356.4 602.3 L355 600.8 L353.6 602.4 L351.7 603.3 L350.8 601.7 L349.2 600.8 L350.6 598.9 L350.8 596.6 L351.2 594.9 L350.8 593.2 L351.7 591.6 L349.8 590.8 L347.6 590.9 L345.8 589.9 L343.7 590 L342 588.7 L340 588.3 L338.3 586.9 L337.5 584.9 L338.9 583.8 L340 582.4 L341.8 581.2 L343.6 580 L345 578.3 L346.2 576.7 L347.4 575.1 L347.9 573.1 L349.2 571.6 L350.3 569.6 L350.4 567.3 L352.2 565.6 L352.5 563.3 L352.4 560.8 L353.5 558.6 L353.4 556.1 L354.4 553.9 L355 551.6 L355.9 549.4 L355.8 546.9 L356.2 544.6 L357 542.3 L357.5 540 L358.6 538.4 L359 536.4 L359.9 534.6 L360.2 532.6 L361.6 531.1 L361.8 529 L361.5 526.8 L362.4 524.7 L361.5 522.5 L362.7 520.5 L362.5 518.3 L362.9 516 L363.1 513.6 L364.1 512.6 L365.3 511.9 L366.2 510.8 L367.6 510.4 L369.7 510.1 L371.5 511.1 L371.3 509.5 L371 507.9 L369 506.6 L367.3 504.9 L365.4 505.4 L363.5 505.6 L364 503.4 L363.4 501 L363.8 498.8 L364.6 496.6 L364.5 494.6 L365.7 492.7 L365.4 490.6 L365.4 488.6 L365.8 486.6 L365.5 484.5 L366.9 482.7 L366.6 480.6 L367.2 478.7 L367 476.6 L366.8 474.6 L367 472.6 L368.1 470.7 L367.8 468.6 L368 466.6 L367.8 464.6 L368.6 462.8 L369 461 L370 460.4 L371 459.6 L372.2 461.2 L373.2 462.9 L374.6 464.3 L375.5 466.4 L376.3 468.5 L378.1 470.1 L378.8 472.3 L379.2 474.5 L380.8 476.2 L381.4 478.3 L382.3 480.3 L383.6 482 L384 484.2 L384.6 486.2 L386 487.9 L387.1 489.3 L388.3 490.8 L390 491.6 L389.1 490 L389.2 488.1 L388.7 486.3 L388.3 484.6 L387.9 482.5 L387.1 480.5 L387 478.3 L386 476.3 L385 474.2 L384.3 471.9 L383 469.9 L382.6 467.5 L381.6 465.7 L380.3 464 L379 462.4 L378.4 460.3 L377.3 458.6 L375.6 456.8 L373.5 455.7 L371.4 454.6 L369.6 453 L368.7 451.3 L367.3 450.1 L365.8 449.1 L367.3 447.6 L368.3 445.8 L369.5 444.5 L370.7 443.2 L371.6 441.6 L371.6 439.4 L372.8 437.5 L372.2 435.2 L373.3 433.3 L372.1 431.3 L372.2 428.9 L371.6 426.7 L370 425.2 L369.1 423.3 L370.3 421.8 L371.3 420.3Z" fill="#e4f70a" stroke="#e4f70a" stroke-width="1.2" stroke-linejoin="round"/>
<path d="M536.6 390 L534.8 390.1 L533.2 390.8 L531.5 391.6 L529.9 392.5 L527.7 393.4 L525.5 394.3 L523.2 395 L522.3 396.8 L520.2 397.5 L519.1 399.1 L519.9 401.1 L519.9 403.3 L518.5 405.2 L516.6 406.6 L514.5 407.7 L512.2 407.9 L509.9 408.3 L509.1 409.9 L508.1 411.3 L506.6 412.4 L506.5 412.5 L507.5 413.8 L507.8 415.5 L509 416.7 L510.5 418.3 L512.2 419.6 L514 420.8 L514.7 422.7 L516.3 424 L516.9 426 L518.2 427.5 L518.8 429.3 L518.6 431.3 L518.5 433.2 L519 435 L518.5 437.3 L517 439.3 L516.5 441.6 L515.5 443.4 L513.6 444.2 L512.4 445.8 L511.6 447.8 L511.5 450 L512.3 451.9 L513.6 453.5 L514.9 455 L515.7 456.6 L515.6 458.3 L515.7 460 L515 461.6 L514 463.2 L514 465 L514 466.9 L515 468.4 L515.7 470 L514.1 471.2 L512 471.6 L510.7 473.3 L510.1 475.2 L509.1 476.9 L507.4 478.2 L506.5 479.9 L505.9 481.7 L504.8 483.2 L504 484.9 L503.5 486.9 L502 488.3 L500.7 489.9 L499.3 491.6 L498.5 493.6 L498.2 495.8 L499.3 497.5 L499.1 499.5 L499.6 501.4 L499.9 503.3 L500.8 505.4 L500.9 507.7 L501.5 509.9 L502.2 511.5 L502.3 513.3 L503.2 514.9 L505.4 514.4 L507.7 514.4 L509.9 514.1 L511.6 513.9 L513.1 513 L514.9 513.3 L515.9 511.7 L516.3 509.8 L517.9 508.5 L518.2 506.6 L519.7 505.3 L520.9 503.9 L522.3 502.5 L523.2 500.8 L525.1 499.7 L527.3 499.9 L528.9 501 L529.2 503 L530 504.6 L531.5 505.8 L532.6 507.8 L533.1 510.2 L535.1 511.8 L535.7 514.1 L536.3 512.2 L536.5 510.2 L537.4 508.4 L538.2 506.6 L539.2 504.7 L541.4 503.6 L542.3 501.6 L544.1 500.8 L545.4 499.3 L547 498.3 L549.1 498.2 L551.2 498.7 L552.6 500.2 L553.7 501.8 L555.4 503 L556.2 504.9 L557.4 503.5 L558.5 502 L560 500.8 L561.5 501.9 L563.3 502.5 L565.2 503.6 L567 504.8 L568.3 506.6 L569.3 508.3 L570.7 509.9 L571.7 511.6 L571.9 514 L573.9 515.6 L574.1 517.9 L575 520 L575.5 521.8 L577.1 523.1 L577.5 524.9 L578.3 526.6 L579.4 528.1 L579.2 530 L580 531.6 L582.1 531.6 L583.8 533.1 L585.8 533.3 L587.9 533.7 L590 534.1 L591.4 532.6 L593.3 531.6 L594.7 532.2 L595.8 533.3 L598.1 533 L600 531.6 L601.9 531.6 L603.5 532.4 L605 533.3 L606.8 533.5 L608.3 532.5 L610.3 533.8 L611.6 535.8 L613.3 534.6 L615.4 534.7 L617.1 533.5 L619.1 533.3 L621.1 532.7 L623 532.8 L625 533.3 L626.8 534.8 L628.3 536.6 L630.4 536.7 L632.3 537.2 L634.1 538.3 L635.9 538.9 L637.2 540.1 L638.3 541.6 L639.8 540.7 L640.6 538.9 L642.4 538.3 L643.8 539.7 L645.8 540 L646.4 538.4 L646.8 536.7 L646.6 535 L646.2 532.7 L644.9 530.8 L643 530 L641.1 529.5 L639.1 529.1 L637.9 527.8 L636.7 526.5 L635.8 525 L636.1 523.1 L637.4 521.6 L639.4 521.8 L641.4 521.8 L643.3 520.8 L642.4 519.2 L642 517.6 L642.4 515.8 L643.4 514 L644.9 512.5 L647.1 511.7 L648.6 509.8 L650.8 509.1 L651 506.8 L652.4 505 L654 503.3 L656.3 502.8 L658.3 501.7 L660 500.9 L661.5 499.8 L663.3 499.2 L665.5 498.9 L667.5 498.3 L669.3 496.7 L671.6 496.7 L670.8 495.1 L671.2 493.3 L670.7 491.7 L669.6 490.3 L667.6 489.8 L666.6 488.3 L666.6 486.2 L667.4 484.2 L669.3 483.7 L671.3 484.1 L673.2 484.2 L675 484.4 L676.5 485.2 L678.2 485.8 L679.7 484.7 L681.5 484 L683.2 483.3 L685 483.2 L686.8 482.8 L688.2 481.6 L689.6 480.2 L691.7 480.2 L693.4 479.4 L694.9 478.3 L696.6 477.1 L698.3 475.8 L700.1 474.8 L701.6 473.3 L701.5 471.3 L701.9 469.4 L702.6 467.6 L703.2 465.8 L702.2 464.1 L700.4 462.9 L699.4 461.1 L698.1 459.6 L696.6 458.3 L696.2 455.9 L694.9 453.9 L694.1 451.6 L692.2 450.8 L690.9 449.2 L689.1 448.3 L688.3 446.4 L689.2 444.3 L688.2 442.5 L689.8 441.6 L691.4 440.7 L692.4 439.1 L693.9 437.7 L695.1 436.1 L695.7 434.1 L694.4 432.1 L694.1 429.7 L692 428.2 L691.6 425.8 L689.5 424.9 L688 423.3 L686.6 421.6 L686.9 419.4 L686.7 417.1 L687.4 415 L686.9 413 L684.8 412.1 L684.3 410.1 L683.2 408.6 L681 409.1 L678.8 409 L676.5 409.3 L674.4 410.2 L672 409.1 L669.9 410 L668.3 411.1 L666.6 411.9 L665.3 413.3 L665.3 415.3 L664.4 417.2 L664.6 419.1 L664.4 421.1 L662.8 422.3 L661.6 423.9 L659.9 425 L657.6 424.6 L655.3 425.3 L654 424.7 L653.8 423.3 L655.3 422.4 L656.8 421.7 L658.3 420.8 L658.4 419.1 L658.6 417.4 L657.9 415.8 L657.2 414.2 L656.7 412.6 L656.6 410.8 L655 412.6 L653.8 414.7 L652.4 416.6 L650.3 416.6 L648.4 417.1 L646.6 418.3 L644.7 417.9 L643.3 416.5 L641.8 415.3 L639.9 415 L638.5 416.4 L636.4 416.3 L634.9 417.5 L633.3 416.2 L631.9 414.7 L629.9 414.1 L628.7 412.2 L626.5 411.3 L625.5 409.2 L624.1 407.5 L621.8 407.4 L619.6 406.9 L617.5 405.8 L615.5 405.4 L613.6 406.2 L611.6 405.8 L610.9 407.7 L609.3 409.3 L609.3 411.5 L608.3 413.3 L608.3 415.4 L606.6 417 L606.2 419 L605.8 421 L605.4 423 L605 425 L603.8 423.4 L603.2 421.3 L601.6 420 L599.5 419.7 L597.5 419.1 L595.2 419.3 L593.2 420.7 L590.8 420.8 L589 421.9 L587.8 423.6 L586.6 425.3 L585 426.6 L582.8 426.7 L581 425.1 L578.7 426 L576.7 425 L574.9 424.4 L573.7 422.9 L572.5 421.5 L570.8 420.8 L571.3 418.7 L572.3 416.8 L573.3 415 L573 413 L572.7 411.1 L573.3 409.1 L571.5 408.5 L569.8 407.7 L568.3 406.6 L567 404.8 L564.9 404.1 L563.6 402.2 L562.5 400.3 L561.5 398.3 L560.8 396.8 L559.7 395.6 L559 394.1 L557.5 395.4 L556.2 396.8 L554.9 398.3 L553.1 397.8 L551.3 397.1 L549.9 395.8 L547.7 395.2 L545.4 396.3 L543.2 395.8 L541.4 395.6 L540.1 394.1 L538.2 394.1 L537 392.2Z" fill="#ffe900" stroke="#ffe900" stroke-width="1.2" stroke-linejoin="round"/>
<path d="M397.4 617.4 L397.2 615.4 L397.9 613.5 L398.3 611.6 L399 609.9 L399.6 608.1 L400.8 606.6 L402.5 604.9 L403.6 602.8 L404.9 600.8 L405.9 599.3 L407.2 598 L408.3 596.6 L409.1 594.5 L410.3 592.6 L411.6 590.8 L411.7 588.8 L412.1 586.9 L412.4 584.9 L411 583.5 L411 581.4 L409.9 579.9 L408.7 578.8 L408.3 577.1 L407.4 575.8 L405.3 575.7 L403.4 575.1 L401.6 574.1 L401.1 572.3 L399.9 570.8 L400.8 568.9 L401.7 567 L402.4 565 L402 562.7 L402.9 560.5 L403.3 558.3 L403.3 556.5 L404.1 555 L405.9 553.9 L408.1 554.4 L409.9 553.3 L411.3 554.9 L413.3 555.8 L414.9 554.8 L415.2 552.8 L416.6 551.6 L418.8 550.9 L421.2 551 L423.3 550 L425.4 549.4 L427.3 548.3 L429.4 547.6 L431.6 547.5 L433.8 547.5 L436.1 547.6 L438.3 547.5 L439.7 547.9 L440.7 549.1 L442.6 548.2 L443.9 546.8 L444.9 545 L446.7 544.3 L447.5 542.5 L449.1 541.6 L449.5 539.4 L450.5 537.3 L450.7 535 L449.8 533 L449.9 530.8 L451.8 530 L453.6 529.2 L455.7 529.2 L456 527.4 L456.6 525.8 L455.6 524.2 L454.4 522.7 L454.1 520.8 L455.5 519.2 L457.8 519.2 L459.1 517.5 L460 515.9 L460.3 514 L461.6 512.5 L463.2 511.6 L464.7 509.8 L466.6 508.4 L468.2 506.6 L469.8 505.2 L470.8 503.5 L471.6 501.6 L472.3 499.4 L472.1 497.1 L472.4 494.9 L474 494.4 L475.2 493.3 L476.6 492.4 L478.2 493.2 L480 493.5 L481.6 494.1 L482.9 495.9 L484.9 496.9 L486.5 498.3 L488.3 497.1 L490.4 497.2 L492.4 496.6 L494.4 497 L496.3 496.5 L498.2 495.8 L499.3 497.5 L499.1 499.5 L499.6 501.4 L499.9 503.3 L500.8 505.4 L500.9 507.7 L501.5 509.9 L502.2 511.5 L502.3 513.3 L503.2 514.9 L505.4 514.4 L507.7 514.4 L509.9 514.1 L511.6 513.9 L513.1 513 L514.9 513.3 L515.9 511.7 L516.3 509.8 L517.9 508.5 L518.2 506.6 L519.7 505.3 L520.9 503.9 L522.3 502.5 L523.2 500.8 L525.1 499.7 L527.3 499.9 L528.9 501 L529.2 503 L530 504.6 L531.5 505.8 L532.6 507.8 L533.1 510.2 L535.1 511.8 L535.7 514.1 L536.3 512.2 L536.5 510.2 L537.4 508.4 L538.2 506.6 L539.2 504.7 L541.4 503.6 L542.3 501.6 L544.1 500.8 L545.4 499.3 L547 498.3 L549.1 498.2 L551.2 498.7 L552.6 500.2 L553.7 501.8 L555.4 503 L556.2 504.9 L557.4 503.5 L558.5 502 L560 500.8 L561.5 501.9 L563.3 502.5 L565.2 503.6 L567 504.8 L568.3 506.6 L569.3 508.3 L570.7 509.9 L571.7 511.6 L571.9 514 L573.9 515.6 L574.1 517.9 L575 520 L575.5 521.8 L577.1 523.1 L577.5 524.9 L578.3 526.6 L579.4 528.1 L579.2 530 L580 531.6 L582.1 531.6 L583.8 533.1 L585.8 533.3 L587.9 533.7 L590 534.1 L591.4 532.6 L593.3 531.6 L594.7 532.2 L595.8 533.3 L598.1 533 L600 531.6 L601.9 531.6 L603.5 532.4 L605 533.3 L605.3 535.6 L605.5 537.9 L606.6 540 L607.1 542.2 L608.7 543.9 L610.1 545.7 L611.1 547.7 L611.6 549.9 L610.7 551.9 L609 553.4 L607.5 554.9 L607 556.7 L605.3 558 L604.4 559.6 L604.1 561.6 L603.1 563.8 L601.4 565.6 L600 567.5 L598.9 569.1 L598.4 571.1 L596.6 572.3 L595.8 574.1 L594.3 575.9 L592.3 577.3 L590.7 579.1 L589.1 580.8 L589.1 581.3 L587.4 581.5 L585.7 581.4 L584.1 580.8 L583.7 579.1 L582.4 578 L580.3 577.6 L578.2 577.5 L576.7 578.7 L574.7 578.8 L573.2 580 L571.6 581.3 L569.9 582.5 L567.9 583.2 L566.6 585 L565.1 586.4 L563.6 588 L561.2 588.2 L559.9 590 L558.4 591.8 L556.6 593.3 L554.3 593.8 L552.1 594.4 L549.9 595 L548.1 596.5 L546.3 598.1 L544.9 600 L544 601.8 L542.3 603 L541.6 605 L540.9 607.2 L540.2 609.4 L539.6 611.6 L538.8 613.6 L539.7 615.6 L538.6 617.6 L539.4 619.6 L539.1 621.6 L539.3 623.7 L539.6 625.7 L539.7 627.8 L539.9 629.9 L539.9 632.3 L541.3 634.3 L541.6 636.6 L543 637.7 L543.7 639.1 L544.1 640.8 L541.8 641.1 L539.7 639.6 L537.4 639.9 L535.6 640.7 L533.8 641.3 L531.7 640.7 L529.9 641.6 L528 642.6 L526.2 643.8 L524.1 644.1 L523.1 645.3 L522.4 646.6 L520.8 647.3 L519.2 647.8 L517.4 647.4 L515.4 646.5 L513.3 645.8 L511.7 644.9 L510.2 643.7 L508.3 643.3 L506.1 643.4 L503.8 644 L501.6 643.3 L500.6 644.9 L498.6 645.1 L497.5 646.6 L495.7 646.7 L494.1 645.8 L493.2 643.8 L492.1 642 L491.6 639.9 L489.6 638.9 L487.4 639.2 L485.4 638.6 L483.3 638.3 L484.2 636.6 L485 634.9 L483.9 633.1 L482.5 631.6 L480.6 631.1 L478.8 630.5 L476.8 630.4 L475 629.9 L472.9 630.8 L470.8 631.6 L469.9 629.6 L467.7 628.5 L466.6 626.6 L464.4 626.5 L462.3 625.5 L460 625.8 L457.9 624.5 L456.7 622.4 L454.8 621.2 L452.5 621.1 L450.5 620.2 L448.3 619.9 L446.3 618.9 L444.1 618.5 L441.9 617.8 L440 616.6 L439.1 617.4 L438.9 619.6 L438.7 621.9 L438.3 624.1 L436.1 623.7 L434.1 625 L431.9 624.1 L429.9 624.9 L427.7 625.2 L425.6 626 L423.3 625.7 L421 625.4 L418.8 624.8 L416.6 624.1 L414.2 623.6 L412 624.5 L409.7 625.2 L407.4 624.9 L405.3 623.6 L404 621.6 L402.4 619.9 L400.5 619.6 L399.4 617.6Z" fill="#ccf011" stroke="#ccf011" stroke-width="1.2" stroke-linejoin="round"/>
<path d="M589.1 580.8 L590.7 579.1 L592.3 577.3 L594.3 575.9 L595.8 574.1 L596.6 572.3 L598.4 571.1 L598.9 569.1 L600 567.5 L601.4 565.6 L603.1 563.8 L604.1 561.6 L604.4 559.6 L605.3 558 L607 556.7 L607.5 554.9 L609 553.4 L610.7 551.9 L611.6 549.9 L611.1 547.7 L610.1 545.7 L608.7 543.9 L607.1 542.2 L606.6 540 L605.5 537.9 L605.3 535.6 L605 533.3 L606.8 533.5 L608.3 532.5 L610.3 533.8 L611.6 535.8 L613.3 534.6 L615.4 534.7 L617.1 533.5 L619.1 533.3 L621.1 532.7 L623 532.8 L625 533.3 L626.8 534.8 L628.3 536.6 L630.4 536.7 L632.3 537.2 L634.1 538.3 L635.9 538.9 L637.2 540.1 L638.3 541.6 L639.8 540.7 L640.6 538.9 L642.4 538.3 L643.8 539.7 L645.8 540 L646.4 538.4 L646.8 536.7 L646.6 535 L646.2 532.7 L644.9 530.8 L643 530 L641.1 529.5 L639.1 529.1 L637.9 527.8 L636.7 526.5 L635.8 525 L636.1 523.1 L637.4 521.6 L639.4 521.8 L641.4 521.8 L643.3 520.8 L642.4 519.2 L642 517.6 L642.4 515.8 L643.4 514 L644.9 512.5 L647.1 511.7 L648.6 509.8 L650.8 509.1 L651 506.8 L652.4 505 L654 503.3 L656.3 502.8 L658.3 501.7 L660 500.9 L661.5 499.8 L663.3 499.2 L665.5 498.9 L667.5 498.3 L669.3 496.7 L671.6 496.7 L670.8 495.1 L671.2 493.3 L670.7 491.7 L669.6 490.3 L667.6 489.8 L666.6 488.3 L666.6 486.2 L667.4 484.2 L669.3 483.7 L671.3 484.1 L673.2 484.2 L675 484.4 L676.5 485.2 L678.2 485.8 L679.7 484.7 L681.5 484 L683.2 483.3 L684.3 485 L685.3 486.8 L686.6 488.3 L688 489.7 L688.6 491.5 L689.1 493.3 L690.1 494.9 L692.3 495 L693.2 496.7 L695.1 497.3 L697 498.3 L699.1 498.3 L699.4 500.3 L700.8 501.9 L701 503.9 L701.6 505.8 L699.5 507.1 L698.2 509.1 L696.8 511 L696.6 513.3 L695.4 514.6 L694.1 515.8 L695.6 517.3 L696.6 519.1 L695.8 521.1 L695.7 523.3 L697 525.1 L699 526.2 L699.9 528.3 L701.3 529.5 L702.3 530.9 L703.2 532.5 L705.3 533 L707.3 534.2 L709.4 534.8 L711.6 535 L713.9 535.5 L716 536.7 L718.2 537.5 L720.2 537.1 L722 536.2 L724 535.8 L725.9 534.5 L728.2 534.1 L728.9 535.8 L730.5 537.1 L730.7 539.1 L730.2 541 L728.8 542.4 L728.2 544.2 L727 546.3 L725.9 548.4 L724 550 L722.6 551.4 L722.4 553.3 L723 554.8 L724.4 555.9 L724.9 557.5 L723.4 558.8 L721.2 559 L719.5 560.1 L718.2 561.7 L716.7 562.9 L714.8 562.6 L713.2 563.3 L711.5 564.9 L709.9 566.6 L709.7 569 L708.2 570.8 L706.4 571.1 L704.9 571.9 L703.2 572.5 L703 574.6 L702.4 576.6 L700.4 577.6 L698.8 579.4 L696.6 580 L695.3 581.6 L693 581.8 L691.6 583.3 L691.2 585 L689.9 586.4 L689.9 588.3 L691.2 589.7 L691.6 591.6 L690.5 593.1 L688.7 593.7 L687.4 595 L685.2 594.9 L683.2 595.8 L681.7 597.2 L680.2 598.6 L678.2 599.1 L676.5 599.2 L674.9 598.1 L673.2 598.3 L671.4 599.4 L669.9 600.8 L668.2 601.1 L666.6 601.6 L664.4 600.8 L662.2 600.1 L659.9 600 L658.5 601.9 L656.6 603.3 L655.2 601.4 L653.3 600 L651.5 599.5 L650 598.2 L648.3 597.5 L646.6 597.1 L645 596.3 L643.3 595.8 L641.3 596.1 L639.4 595.6 L637.4 595.8 L635.5 594.8 L634.1 593.3 L634.8 591.3 L634.9 589.1 L633 588.7 L631.6 587.5 L629.7 587.4 L628.1 588.1 L626.6 589.1 L624.8 589.4 L623.3 588.1 L621.6 588.3 L620.8 586.2 L619.1 584.6 L617.5 584.3 L615.8 584.1 L615 586 L613.6 587.5 L611.8 588 L610 587.5 L608.1 587.3 L606.2 587.7 L604.3 587.4 L602.5 586.6 L602.5 585 L601.6 583.6 L599.6 583.4 L597.7 583 L595.8 582.5 L593.6 581.8 L591.2 582Z" fill="#def50b" stroke="#def50b" stroke-width="1.2" stroke-linejoin="round"/>
<path d="M484.9 252.5 L486.7 253.2 L488.1 254.4 L489.9 255 L492.1 255.4 L494 254 L496.2 254.7 L498.3 254.1 L500.4 253.9 L502.4 254.8 L504.5 255 L506.6 255 L508.8 255.1 L510.6 256.6 L512.9 256.6 L514.9 257.5 L516.7 258 L518.5 258.7 L519.9 260 L522.1 260.8 L524.4 260.4 L526.6 260.8 L528.7 260 L531.1 260 L533.2 259.1 L535.4 259.4 L537.7 259.7 L539.9 260 L541.1 261.6 L542.7 263 L543.2 265 L544.8 266.7 L546.1 268.8 L548.2 270 L548.7 271.6 L549.9 272.7 L550.7 274.1 L551.3 276.1 L551.7 278.1 L552.4 280 L553.4 281.8 L554 283.7 L554 285.8 L552.8 287.9 L551.5 289.8 L549.9 291.6 L549.3 293.2 L548.7 294.8 L549.1 296.6 L548.9 299 L547.4 300.8 L545.6 301.6 L543.7 301.5 L541.7 300.8 L539.9 301.6 L537.8 302.5 L535.7 303.3 L534.6 304.8 L533.7 306.5 L533.2 308.3 L532.9 310.4 L532.4 312.4 L530.4 312.3 L528.5 312 L526.6 311.6 L524.4 312.6 L522.1 313.2 L519.9 314.1 L518 313.6 L516.1 313.4 L514.1 313.3 L513.6 311.7 L513.5 310 L513.2 308.3 L511.5 307.5 L510.2 306.1 L508.3 305.8 L506.9 305 L505.5 304.1 L504.1 303.3 L501.8 303.4 L499.6 303.7 L497.4 304.1 L495.9 303 L495.3 301.2 L494.1 299.9 L492.8 298.7 L491.7 297.3 L490.8 295.8 L490.1 294.1 L488.4 293.1 L487.4 291.6 L485.9 290.3 L485 288.6 L484 287 L482.4 285.8 L481.9 283.7 L480.9 281.9 L479.9 280 L479.2 278.1 L479 276.1 L479.1 274.1 L478.4 271.9 L477.2 269.8 L476.6 267.5 L476.7 265.5 L475.6 263.6 L475.8 261.6 L477.5 260.5 L478.5 258.9 L479.9 257.5 L481.5 255.7 L483.6 254.5Z" fill="#ffc000" stroke="#ffc000" stroke-width="1.2" stroke-linejoin="round"/>
<path d="M804.1 595.8 L806.2 596 L808.3 595.3 L809.1 597.4 L809.7 599.5 L809.9 601.7 L809.5 603.6 L810.6 605.4 L810.2 607.2 L810.2 609.1 L810 610.8 L809.8 612.4 L809.9 614.1 L811.4 615.8 L811.9 618.1 L813.2 620 L813.6 622.1 L813.6 624.2 L815.1 626.1 L814.9 628.3 L814.7 630.5 L816.2 632.4 L815.7 634.6 L816.6 636.6 L816.8 638.5 L816.5 640.4 L817.6 642.2 L817.4 644.1 L817 646.1 L816.7 648 L815.2 649.6 L814.9 651.6 L814 653.8 L813.6 656.2 L812.4 658.3 L812.7 660.4 L812.7 662.5 L812.4 664.6 L811.9 666.6 L811.7 668.7 L811.8 670.8 L811.4 672.8 L811.6 674.9 L811.3 676.9 L809.9 678.3 L809.8 680.1 L810.7 681.6 L809 682.9 L808.2 684.7 L807.4 686.6 L807.5 688.7 L808.3 690.7 L806.4 689.4 L804.1 689.1 L801.9 688.8 L800.2 687.5 L798.3 686.6 L796.3 686 L795.2 684.1 L793.3 683.3 L791.7 682.1 L789.7 681.5 L788.3 679.9 L787.4 678.3 L786.6 676.6 L788.5 675.7 L789.9 674.1 L788.3 673.2 L786.3 672.9 L784.9 671.6 L783.1 670.2 L780.8 669.9 L782 667.8 L784.1 666.6 L784.2 664.8 L783.3 663.3 L785.1 662 L785.8 659.9 L783.6 660 L781.5 660.1 L779.5 661.1 L777.4 661.6 L777.5 659.4 L778.3 657.4 L779.9 655.7 L781.6 654.1 L780.8 652.5 L779.7 651.1 L778.3 649.9 L776.8 648.6 L775.9 646.7 L774.1 645.8 L773.4 643.7 L774.1 641.6 L775.5 640.8 L776.6 639.4 L778.3 639.1 L776.5 638.2 L775.3 636.3 L773.3 635.8 L773.7 634.1 L775.6 633.3 L775.8 631.6 L777.1 630.2 L777.7 628.4 L778.3 626.6 L778.5 624.3 L779.9 622.5 L781.6 621.6 L783.4 621 L784.7 619.4 L786.6 619.1 L788.4 618 L790.2 616.9 L792.4 616.6 L793.9 615.5 L795.1 614.2 L795.8 612.5 L797.8 613.1 L799.9 612.5 L801.5 613.2 L803.3 613.3 L803.7 611.7 L803.2 609.9 L804.1 608.3 L803.8 606.1 L803.9 603.9 L803.3 601.7 L803.9 599.8 L803.2 597.7Z" fill="#fffa00" stroke="#fffa00" stroke-width="1.2" stroke-linejoin="round"/>
<path d="M656.6 410.8 L656.7 412.6 L657.2 414.2 L657.9 415.8 L658.6 417.4 L658.4 419.1 L658.3 420.8 L656.8 421.7 L655.3 422.4 L653.8 423.3 L654 424.7 L655.3 425.3 L657.6 424.6 L659.9 425 L661.6 423.9 L662.8 422.3 L664.4 421.1 L664.6 419.1 L664.4 417.2 L665.3 415.3 L665.3 413.3 L666.6 411.9 L668.3 411.1 L669.9 410 L672 409.1 L674.4 410.2 L676.5 409.3 L678.8 409 L681 409.1 L683.2 408.6 L684.3 410.1 L684.8 412.1 L686.9 413 L687.4 415 L686.7 417.1 L686.9 419.4 L686.6 421.6 L688 423.3 L689.5 424.9 L691.6 425.8 L692 428.2 L694.1 429.7 L694.4 432.1 L695.7 434.1 L695.1 436.1 L693.9 437.7 L692.4 439.1 L691.4 440.7 L689.8 441.6 L688.2 442.5 L689.2 444.3 L688.3 446.4 L689.1 448.3 L690.9 449.2 L692.2 450.8 L694.1 451.6 L694.9 453.9 L696.2 455.9 L696.6 458.3 L698.1 459.6 L699.4 461.1 L700.4 462.9 L702.2 464.1 L703.2 465.8 L702.6 467.6 L701.9 469.4 L701.5 471.3 L701.6 473.3 L700.1 474.8 L698.3 475.8 L696.6 477.1 L694.9 478.3 L693.4 479.4 L691.7 480.2 L689.6 480.2 L688.2 481.6 L686.8 482.8 L685 483.2 L683.2 483.3 M536.6 390 L537 392.2 L538.2 394.1 L540.1 394.1 L541.4 395.6 L543.2 395.8 L545.4 396.3 L547.7 395.2 L549.9 395.8 L551.3 397.1 L553.1 397.8 L554.9 398.3 L556.2 396.8 L557.5 395.4 L559 394.1 L559.7 395.6 L560.8 396.8 L561.5 398.3 L562.5 400.3 L563.6 402.2 L564.9 404.1 L567 404.8 L568.3 406.6 L569.8 407.7 L571.5 408.5 L573.3 409.1 L572.7 411.1 L573 413 L573.3 415 L572.3 416.8 L571.3 418.7 L570.8 420.8 L572.5 421.5 L573.7 422.9 L574.9 424.4 L576.7 425 L578.7 426 L581 425.1 L582.8 426.7 L585 426.6 L586.6 425.3 L587.8 423.6 L589 421.9 L590.8 420.8 L593.2 420.7 L595.2 419.3 L597.5 419.1 L599.5 419.7 L601.6 420 L603.2 421.3 L603.8 423.4 L605 425 L605.4 423 L605.8 421 L606.2 419 L606.6 417 L608.3 415.4 L608.3 413.3 L609.3 411.5 L609.3 409.3 L610.9 407.7 L611.6 405.8 L613.6 406.2 L615.5 405.4 L617.5 405.8 L619.6 406.9 L621.8 407.4 L624.1 407.5 L625.5 409.2 L626.5 411.3 L628.7 412.2 L629.9 414.1 L631.9 414.7 L633.3 416.2 L634.9 417.5 L636.4 416.3 L638.5 416.4 L639.9 415 L641.8 415.3 L643.3 416.5 L644.7 417.9 L646.6 418.3 L648.4 417.1 L650.3 416.6 L652.4 416.6 L653.8 414.7 L655 412.6 L656.6 410.8 M694.9 344.1 L693.6 345.3 L692.4 346.6 L690.3 347.1 L688.2 347.4 L688.2 349.6 L687.4 351.6 L689.1 351.4 L690.7 352.1 L692.4 352.4 L691.2 353.8 L690.2 355.3 L689 356.7 L688.2 358.3 L687 360 L686.2 362 L684.8 363.5 L683.2 364.9 L681.6 366.3 L680.8 368.3 L679.4 369.9 L678.2 371.6 L676.4 372.7 L674.7 373.8 L673.5 375.7 L671.6 376.6 L670.8 378.3 L669.9 379.9 L669.7 382.1 L669.3 384.4 L669.9 386.6 L668.8 388.5 L666.8 389.6 L665.6 391.3 L664.6 393.2 L663.3 394.9 L662 396.4 L660.3 397.6 L659.6 399.6 L658.3 401.1 L658.6 403.1 L658.3 405 L657.3 406.8 L657.7 409 L656.6 410.8 M532.4 312.4 L533.8 313.8 L535.3 315.1 L536.6 316.6 L536.8 318.6 L537.7 320.4 L538.2 322.4 L536.9 324.4 L536 326.7 L534.1 328.3 L534 330.5 L533.5 332.7 L533.2 334.9 L531.2 335.9 L529.1 336.7 L530.5 338.7 L531 341 L531.6 343.3 L531 345.6 L529.4 347.6 L529.1 350 L529.7 351.8 L530.3 353.6 L531.6 355 L531.7 356.9 L530.8 358.5 L529.9 360 L531 361.7 L532.6 363 L533.2 365 L534.4 367.1 L534.8 369.4 L535.7 371.6 L536.7 373.7 L536.4 376 L536.6 378.3 L537.5 380.5 L537.5 382.7 L537.4 385 L536.6 386.6 L537 388.4 L536.6 390 M378.2 290.3 L376 290.1 L373.9 289 L371.6 289.3 L369.8 290.8 L368.2 292.6 L366.7 291.3 L364.9 290.4 L363.2 289.3 L362.4 287.6 L362.9 285.6 L362.5 283.7 L361.6 282 M321.6 345.9 L323.3 346.1 L324.9 346.9 L326.6 346.6 L328.7 346.2 L330.9 346.3 L332.8 345.4 L334.9 344.9 L336.5 343.6 L336.9 341.6 L338.4 340.4 L340.2 339.8 L341.6 338.6 L343.2 337.6 L345.5 336.9 L347.6 335.7 L349.9 335.1 L352.1 334.8 L354.2 334.2 L356.2 333.3 L358.2 332.4 L360.5 331.7 L362.5 330.3 L364.9 330.1 L367.2 329.9 L369.3 328.7 L371.6 328.3 L371.9 326.4 L372.9 324.8 L373.8 323.1 L374.9 321.6 L375.9 319.6 L377.7 318.2 L379.2 316.6 L378.8 314.7 L377.6 313.2 L376.6 311.6 L376.7 309.5 L376.9 307.4 L377.8 305.4 L377.6 303.3 L378 301.2 L378 299.2 L377.7 297.1 L378.2 295 L378.8 292.6 L378.2 290.3 M361.6 282 L359.7 282.2 L357.9 282.4 L356 282.7 L354.1 282 L351.9 281.7 L349.9 282.6 L349.3 280.5 L349.2 278.3 L347.5 280.1 L345.2 280.6 L345.3 283 L344.5 285.2 L344.2 287.5 L344.1 285.7 L343.1 284.1 L342.9 282.3 L340.5 282.4 L338.3 281.6 L336 281.4 L334.2 279.6 L331.9 279.3 L330.2 280.1 L328.5 280.6 L326.6 280.8 L324.6 281.3 L323.1 282.7 L321.6 284.1 L319.3 284.9 L317.4 286.3 L316.3 284.3 L314.2 283 L313.3 280.8 L312.5 278.8 L311.5 276.8 L310.3 275 L308.6 273.6 L307.7 271.7 L308.1 269.6 L307.6 267.6 L306.5 266.3 L304.9 265.5 L303.3 265 L301.1 265.7 L298.9 266.3 L296.6 266.7 L294.6 267 L292.6 267.1 L290.6 267.4 L288.6 267.5 L286.7 268.6 L285 270 L284.5 271.6 L284.3 273.3 L282.2 273.3 L280.3 274 L278.3 274.3 L276.5 274.3 L275.1 275.4 L273.6 276 L272.4 274.5 L271.7 272.6 L270 271.6 L268.8 270.8 L267.3 270.8 L265.9 271.8 L264.6 273 L263.3 274.1 L261 273.7 L258.9 274.9 L256.6 275 L254.6 275.5 L252.6 275.2 L250.7 275.6 L248.7 274.5 L246.7 275 L244.6 275.7 L243.7 278 L242 279.2 L240 280 L239.2 281.7 L238 283.2 L237.5 285 L237.7 286.9 L238.5 288.8 L238.3 290.8 L239.8 291.9 L241.7 291.8 L243.3 292.5 L245.3 291.1 L247.7 290.8 L250 290 L252 291 L254.2 291.7 L255.8 293.3 L256.4 294.5 L256.6 295.8 L254.5 296.2 L252.5 296.1 L250.4 295.9 L248.3 295.8 L247.2 297 L245.6 297.6 L244.2 298.3 L244.7 300.1 L245.8 301.6 L247.7 301.2 L249.6 301.7 L251.4 301 L253.3 301.6 L254.2 302.6 L255 303.6 L252.7 304.1 L250.6 305.3 L248.3 305.8 L246.4 306.6 L244.3 306.4 L242.3 306.2 L240.3 306.3 L238.3 306.6 L239.6 307.6 L240 309.1 L242.4 309.6 L244.7 310.2 L246.7 311.6 L247.7 313.5 L249.2 314.9 L250.2 316.6 L249.9 318.8 L250.6 320.7 L251.7 322.4 L253.7 322.4 L255.5 323.4 L257.5 323.3 L259.2 322.1 L261.3 322.1 L263.2 321.8 L265 320.8 L266.6 321.7 L268.6 322 L270 323.3 L271.5 324.4 L273.3 325.1 L275 325.8 L277.3 326.3 L279.6 327 L281.6 328.3 L283.1 329.6 L285.2 329.4 L286.5 331.1 L288.3 331.6 L290.1 331.6 L291.6 332.4 L292.3 334.1 L293.4 335.6 L295 336.6 L295.8 338.3 L296.4 339.9 L297 341.5 L296.9 343.3 L298.1 342.2 L299.1 340.8 L301 341.6 L303 341.5 L304.9 341.9 L306.2 343.9 L308.3 344.9 L310 345.4 L311.6 345.4 L313.3 344.9 L315.5 344.2 L317.8 345.1 L319.9 344.3 L321.6 345.9 M506.6 412.4 L508.1 411.3 L509.1 409.9 L509.9 408.3 L512.2 407.9 L514.5 407.7 L516.6 406.6 L518.5 405.2 L519.9 403.3 L519.9 401.1 L519.1 399.1 L520.2 397.5 L522.3 396.8 L523.2 395 L525.5 394.3 L527.7 393.4 L529.9 392.5 L531.5 391.6 L533.2 390.8 L534.8 390.1 L536.6 390 M419.2 369.1 L420.6 370.4 L421.7 372.1 L423.7 372.7 L425 374.1 L426.2 375.7 L427.3 377.3 L429.1 378.3 L430.2 379.8 L430 381.6 L432 381.6 L433.9 381.5 L435.8 380.8 L437.6 380.7 L439.2 379.8 L440.8 379.1 L442.6 380.1 L443.8 381.7 L445 383.3 L446.4 384.7 L446.3 386.8 L447.7 388.2 L448.3 390 L449.7 391.1 L450.9 392.4 L451.6 394.1 L453 395.8 L453.7 397.8 L454.1 399.9 L455.7 401.3 L456.7 403 L457.5 404.9 L459 405.9 L459.9 407.6 L461.6 408.3 L462.9 410.3 L463.6 412.6 L464.1 414.9 L466 414.3 L467.9 414 L469.9 414.1 L470.4 415.3 L471.6 415.8 L473.2 414.9 L474.9 414.1 L476.6 413.3 L478.8 412.5 L481.2 412.7 L483.3 411.6 L485.4 411.5 L487.5 411.5 L489.5 411.7 L491.6 411.6 L493.7 412 L495.7 412.2 L497.8 412.8 L499.9 412.4 L502.1 412.5 L504.4 412.3 L506.6 412.4 M452.5 312.4 L452.4 314.5 L451.4 316.3 L450.8 318.3 L451.2 320.4 L450.4 322.4 L449.6 324.5 L450 326.6 L448.3 328 L447.5 329.9 L445.9 331.4 L445 333.3 L443.3 334.7 L442.5 336.9 L440.8 338.3 L439.5 340.3 L437.8 341.9 L435.8 343.2 L433.9 343.5 L432 343.9 L430.3 345 L428.3 345 L427.2 346.5 L426.5 348.3 L425.8 350 L425 352.2 L424.1 354.4 L423.3 356.6 L422.9 359 L421.5 361 L420.8 363.3 L419.6 365.1 L420.2 367.3 L419.2 369.1 M694.9 344.1 L693.7 342 L692.5 339.9 L690.7 338.3 L689.7 336.5 L688.9 334.7 L688.7 332.7 L688.2 330.8 L686.3 330.2 L684.8 328.9 L683.4 327.5 L681.3 327.2 L679.9 325.8 L678 324.3 L675.8 323.7 L673.7 322.6 L671.6 321.6 L669.4 320.6 L667.1 321 L664.9 320.8 L662.6 321.3 L660.3 320.8 L658.1 320.4 L655.8 320.8 L654 319.7 L652.4 318.3 L650.8 320.2 L648.5 321.1 L646.6 322.5 L645.3 323.9 L644.3 325.6 L642.6 326.7 L641.6 328.3 L640.3 330.3 L638.3 331.6 L638 333.3 L637.1 334.8 L637.4 336.6 L635 336.3 L632.8 337.1 L630.4 337.2 L628.3 338.3 L626.4 339.6 L625.3 341.7 L623.3 343 L621.6 342.3 L620.1 341.2 L618 341.4 L616.6 340 L615.2 338.5 L613.6 337.4 L611.3 337.4 L610 335.8 L609.6 333.9 L609.3 332 L608.8 330.2 L608.3 328.3 L606.4 327 L605.9 324.6 L604.1 323.3 L602.2 322.5 L600.4 321.6 L599.1 320 L597.4 319.7 L595.8 319.9 L594.1 320 L592.3 321.4 L590.2 322.2 L588.3 323.3 L586.3 323.9 L584.3 324.1 L582.2 323.1 L580.3 324.5 L578.3 324.1 L576.2 324.4 L574.1 323.9 L572.1 325.4 L570 325 L568.6 323.6 L568 321.6 L567.1 319.8 L565.8 318.3 L564.8 316.1 L563.5 314.1 L561.7 312.5 L559.8 311.6 L558.4 310.2 L557.4 308.3 L556.5 306.5 L554.8 305.2 L554.7 303 L553.2 301.6 L551.4 300.7 L549.4 300.6 L547.4 300.8 M577.5 207.5 L579.4 207.5 L581.3 207.2 L583.2 207.7 L585 208.3 L587.2 207.4 L589.5 207 L591.6 205.8 L593 204.9 L594.4 204.1 L595.8 203.3 L595.9 201.2 L596.9 199.4 L597.5 197.5 L599.5 196.8 L601.6 196.7 L600.7 198.8 L600.7 201.1 L600 203.3 L600.4 205.6 L601.6 207.6 L601.6 210 L602.6 211.8 L602.8 213.8 L603.3 215.8 L604.9 216.5 L606.6 216.9 L608.3 217.5 L610.3 218.1 L611.3 220.2 L613 221.4 L614.9 222.2 L616.6 223.3 L618.1 225 L619.9 226.3 L622 227.5 L623.1 229.5 L625 230.8 L627.1 230.2 L629.1 231.4 L631.2 230.4 L633.3 230.8 L635.2 231.3 L637.2 231.4 L639.1 230.8 L641.2 231.2 L642.8 232.7 L644.9 233.3 L646.8 232.4 L648.9 232.5 L650.8 231.9 L652.8 231.5 L654.9 231.6 L657 232.2 L659 233.3 L661.2 233.4 L663.3 234.1 L665.4 235 L666.9 236.5 L668.3 238.3 L669.8 240 L670.9 241.9 L671.6 244.1 L673.1 245.5 L674.2 247.2 L674.9 249.1 L676.6 247.9 L678.2 246.6 L679.9 246.5 L681.6 246.7 L683.2 247.4 L683.9 248.9 L685.9 249.2 L686.6 250.8 L688.8 250.4 L690.9 249.6 L693.2 249.9 L695.2 249.1 L697.3 248.8 L699.4 248.2 L701.6 248.3 L703.3 249.7 L705 251 L706.6 252.4 L708.9 252.7 L711.1 253.3 L713.2 254.1 L715.3 253.9 L717.4 254 L719.4 254.5 L721.5 254.1 L723.8 254.5 L725.4 256.6 L727.6 257.3 L729.9 257.9 L728.9 259.6 L728.7 261.7 L727.8 263.4 L726.5 264.9 L726 266.8 L725.4 268.5 L724 269.9 L722.1 271.5 L721.2 273.8 L719.9 275.8 L718.9 277.8 L717.6 279.6 L716.5 281.6 L716.1 283.3 L716.9 284.9 L716.5 286.6 L716.2 288.9 L715.7 291.1 L714.9 293.2 L714.5 295.2 L714.5 297.3 L713.7 299.1 L713.2 301.1 L711.6 302.8 L710.7 305 L710.1 307.2 L710.2 309.4 L709.9 311.6 L710.9 313.1 L711.5 314.8 L711.6 316.6 L710.5 318.7 L710.7 321.1 L709.9 323.3 L709.3 325.3 L710.3 327.3 L710.1 329.3 L709.3 331.3 L709.9 333.3 L710.8 334.9 L711.6 336.5 L711.6 338.3 L710.4 339.9 L709.6 341.7 L708.4 343.3 L707.4 345 L705.6 346.3 L703.8 347.7 L701.6 348.3 L700 347.6 L698.3 347.4 L696.6 347.4 L695.5 345.9 L694.9 344.1 M475.8 203 L476.4 201.1 L477 199.1 L478.3 197.5 L479.4 196 L480.7 194.7 L482.5 194.1 L481.3 192.9 L481 191.1 L479.7 190 L480.1 188.3 L480 186.6 L480.8 185 L479.2 183.3 L478.9 181.3 L479.4 179.3 L479.5 177.3 L480.4 175.3 L480 173.3 L480.1 171.1 L480.8 168.9 L481 166.7 L480.5 164.4 L480.5 162.2 L480.8 160 L481.2 158.1 L482.5 156.7 L484.5 155.4 L486.7 154.3 L488.3 152.5 L490.4 152 L492.3 150.7 L494.6 150.8 L496.6 150 L498.6 149.6 L500.5 148.6 L502.7 148.8 L504.8 148.7 L506.6 147.5 L508.7 147.4 L510.8 147 L512.8 146.4 L514.8 145.8 L516.6 144.7 L517.3 146.5 L518.3 148.1 L518.6 150 L518.5 151.7 L518.6 153.3 L518.3 155 L519.7 156.5 L519.9 158.7 L521 160.3 L522.5 161.7 L524.2 163.4 L526.1 164.8 L528.3 165.8 L530 164.7 L531.9 164 L533.3 162.5 L535 162.7 L536.6 162.5 L538.3 162.5 L539.2 164.7 L541 166.4 L542.4 168.3 L542.5 170 L543.2 171.6 L543.3 173.3 L544.9 175 L546.6 176.6 L548.9 177 L551.2 177.2 L553.3 178.3 L554.4 180.2 L555.9 181.7 L557.4 183.3 L558.3 185.3 L558.3 187.5 L560.4 187.7 L562.5 187.3 L564.5 186.2 L566.6 186.6 L568.8 187.2 L570.9 187.8 L573.2 187.5 L574.9 188.6 L575.8 190.4 L577.4 191.6 L576.4 193.4 L576.9 195.7 L575.7 197.5 L576 199.7 L577.3 201.4 L578.2 203.3 L577.4 204.9 L577.4 206.6 M577.4 206.6 L577.4 208.4 L578.2 210.1 L579.1 211.6 L578.8 213.7 L578.8 215.8 L578.6 217.8 L579.1 219.9 L577.4 221.4 L576.1 223.2 L575.2 225.4 L573.2 226.6 L572.7 228.8 L573.8 231.1 L573.2 233.3 L572.7 235.6 L571.8 237.8 L570.7 239.9 L568.5 240.6 L566.6 242.1 L564.2 242.5 L562.1 243.5 L559.9 244.1 L559.4 246.2 L558.5 248.1 L557.4 249.9 L557.6 252.2 L559 254.3 L559.1 256.6 L557.3 257.9 L556.5 260 L555.9 262.2 L554.3 263.9 L553.7 266.1 L553.2 268.3 L552.8 270.4 L551.3 272.1 L550.7 274.1 M550.7 274.1 L549.9 272.7 L548.7 271.6 L548.2 270 L546.1 268.8 L544.8 266.7 L543.2 265 L542.7 263 L541.1 261.6 L539.9 260 L537.7 259.7 L535.4 259.4 L533.2 259.1 L531.1 260 L528.7 260 L526.6 260.8 L524.4 260.4 L522.1 260.8 L519.9 260 L518.5 258.7 L516.7 258 L514.9 257.5 L512.9 256.6 L510.6 256.6 L508.8 255.1 L506.6 255 L504.5 255 L502.4 254.8 L500.4 253.9 L498.3 254.1 L496.2 254.7 L494 254 L492.1 255.4 L489.9 255 L488.1 254.4 L486.7 253.2 L484.9 252.5 M547.4 300.8 L545.6 301.6 L543.7 301.5 L541.7 300.8 L539.9 301.6 L537.8 302.5 L535.7 303.3 L534.6 304.8 L533.7 306.5 L533.2 308.3 L532.9 310.4 L532.4 312.4 M532.4 312.4 L530.4 312.3 L528.5 312 L526.6 311.6 L524.4 312.6 L522.1 313.2 L519.9 314.1 L518 313.6 L516.1 313.4 L514.1 313.3 L513.6 311.7 L513.5 310 L513.2 308.3 L511.5 307.5 L510.2 306.1 L508.3 305.8 L506.9 305 L505.5 304.1 L504.1 303.3 L501.8 303.4 L499.6 303.7 L497.4 304.1 L495.9 303 L495.3 301.2 L494.1 299.9 L492.8 298.7 L491.7 297.3 L490.8 295.8 L490.1 294.1 L488.4 293.1 L487.4 291.6 L485.9 290.3 L485 288.6 L484 287 L482.4 285.8 L481.9 283.7 L480.9 281.9 L479.9 280 L479.2 278.1 L479 276.1 L479.1 274.1 L478.4 271.9 L477.2 269.8 L476.6 267.5 L476.7 265.5 L475.6 263.6 L475.8 261.6 M550.7 274.1 L551.3 276.1 L551.7 278.1 L552.4 280 L553.4 281.8 L554 283.7 L554 285.8 L552.8 287.9 L551.5 289.8 L549.9 291.6 L549.3 293.2 L548.7 294.8 L549.1 296.6 L548.9 299 L547.4 300.8 M506.5 412.5 L507.5 413.8 L507.8 415.5 L509 416.7 L510.5 418.3 L512.2 419.6 L514 420.8 L514.7 422.7 L516.3 424 L516.9 426 L518.2 427.5 L518.8 429.3 L518.6 431.3 L518.5 433.2 L519 435 L518.5 437.3 L517 439.3 L516.5 441.6 L515.5 443.4 L513.6 444.2 L512.4 445.8 L511.6 447.8 L511.5 450 L512.3 451.9 L513.6 453.5 L514.9 455 L515.7 456.6 L515.6 458.3 L515.7 460 L515 461.6 L514 463.2 L514 465 L514 466.9 L515 468.4 L515.7 470 L514.1 471.2 L512 471.6 L510.7 473.3 L510.1 475.2 L509.1 476.9 L507.4 478.2 L506.5 479.9 L505.9 481.7 L504.8 483.2 L504 484.9 L503.5 486.9 L502 488.3 L500.7 489.9 L499.3 491.6 L498.5 493.6 L498.2 495.8 M371.6 418.3 L371.3 420.3 L370.3 421.8 L369.1 423.3 L370 425.2 L371.6 426.7 L372.2 428.9 L372.1 431.3 L373.3 433.3 L372.2 435.2 L372.8 437.5 L371.6 439.4 L371.6 441.6 L370.7 443.2 L369.5 444.5 L368.3 445.8 L367.3 447.6 L365.8 449.1 L367.3 450.1 L368.7 451.3 L369.6 453 L371.4 454.6 L373.5 455.7 L375.6 456.8 L377.3 458.6 L378.4 460.3 L379 462.4 L380.3 464 L381.6 465.7 L382.6 467.5 L383 469.9 L384.3 471.9 L385 474.2 L386 476.3 L387 478.3 L387.1 480.5 L387.9 482.5 L388.3 484.6 L388.7 486.3 L389.2 488.1 L389.1 490 L390 491.6 L388.3 490.8 L387.1 489.3 L386 487.9 L384.6 486.2 L384 484.2 L383.6 482 L382.3 480.3 L381.4 478.3 L380.8 476.2 L379.2 474.5 L378.8 472.3 L378.1 470.1 L376.3 468.5 L375.5 466.4 L374.6 464.3 L373.2 462.9 L372.2 461.2 L371 459.6 L370 460.4 L369 461 L368.6 462.8 L367.8 464.6 L368 466.6 L367.8 468.6 L368.1 470.7 L367 472.6 L366.8 474.6 L367 476.6 L367.2 478.7 L366.6 480.6 L366.9 482.7 L365.5 484.5 L365.8 486.6 L365.4 488.6 L365.4 490.6 L365.7 492.7 L364.5 494.6 L364.6 496.6 L363.8 498.8 L363.4 501 L364 503.4 L363.5 505.6 L365.4 505.4 L367.3 504.9 L369 506.6 L371 507.9 L371.3 509.5 L371.5 511.1 L369.7 510.1 L367.6 510.4 L366.2 510.8 L365.3 511.9 L364.1 512.6 L363.1 513.6 L362.9 516 L362.5 518.3 L362.7 520.5 L361.5 522.5 L362.4 524.7 L361.5 526.8 L361.8 529 L361.6 531.1 L360.2 532.6 L359.9 534.6 L359 536.4 L358.6 538.4 L357.5 540 L357 542.3 L356.2 544.6 L355.8 546.9 L355.9 549.4 L355 551.6 L354.4 553.9 L353.4 556.1 L353.5 558.6 L352.4 560.8 L352.5 563.3 L352.2 565.6 L350.4 567.3 L350.3 569.6 L349.2 571.6 L347.9 573.1 L347.4 575.1 L346.2 576.7 L345 578.3 L343.6 580 L341.8 581.2 L340 582.4 L338.9 583.8 L337.5 584.9 L338.3 586.9 L340 588.3 L342 588.7 L343.7 590 L345.8 589.9 L347.6 590.9 L349.8 590.8 L351.7 591.6 L350.8 593.2 L351.2 594.9 L350.8 596.6 L350.6 598.9 L349.2 600.8 L350.8 601.7 L351.7 603.3 L353.6 602.4 L355 600.8 L356.4 602.3 L358 603.5 L360 604.1 L361.4 605.4 L363.4 605.5 L365.1 606.2 L366.6 607.4 L368.3 608.6 L370.3 608.8 L372.1 609.6 L374.1 609.9 L375.7 610.6 L377.4 610.6 L379.1 610.8 L380.7 612 L381.9 613.6 L383.3 614.9 L384.6 616.4 L386.5 617.3 L387.5 619.1 L389.2 619.3 L390.9 619 L392.5 618.3 L394.2 618.3 L395.7 617.2 L397.4 617.4 M397.4 617.4 L397.2 615.4 L397.9 613.5 L398.3 611.6 L399 609.9 L399.6 608.1 L400.8 606.6 L402.5 604.9 L403.6 602.8 L404.9 600.8 L405.9 599.3 L407.2 598 L408.3 596.6 L409.1 594.5 L410.3 592.6 L411.6 590.8 L411.7 588.8 L412.1 586.9 L412.4 584.9 L411 583.5 L411 581.4 L409.9 579.9 L408.7 578.8 L408.3 577.1 L407.4 575.8 L405.3 575.7 L403.4 575.1 L401.6 574.1 L401.1 572.3 L399.9 570.8 L400.8 568.9 L401.7 567 L402.4 565 L402 562.7 L402.9 560.5 L403.3 558.3 L403.3 556.5 L404.1 555 L405.9 553.9 L408.1 554.4 L409.9 553.3 L411.3 554.9 L413.3 555.8 L414.9 554.8 L415.2 552.8 L416.6 551.6 L418.8 550.9 L421.2 551 L423.3 550 L425.4 549.4 L427.3 548.3 L429.4 547.6 L431.6 547.5 L433.8 547.5 L436.1 547.6 L438.3 547.5 L439.7 547.9 L440.7 549.1 L442.6 548.2 L443.9 546.8 L444.9 545 L446.7 544.3 L447.5 542.5 L449.1 541.6 L449.5 539.4 L450.5 537.3 L450.7 535 L449.8 533 L449.9 530.8 L451.8 530 L453.6 529.2 L455.7 529.2 L456 527.4 L456.6 525.8 L455.6 524.2 L454.4 522.7 L454.1 520.8 L455.5 519.2 L457.8 519.2 L459.1 517.5 L460 515.9 L460.3 514 L461.6 512.5 L463.2 511.6 L464.7 509.8 L466.6 508.4 L468.2 506.6 L469.8 505.2 L470.8 503.5 L471.6 501.6 L472.3 499.4 L472.1 497.1 L472.4 494.9 L474 494.4 L475.2 493.3 L476.6 492.4 L478.2 493.2 L480 493.5 L481.6 494.1 L482.9 495.9 L484.9 496.9 L486.5 498.3 L488.3 497.1 L490.4 497.2 L492.4 496.6 L494.4 497 L496.3 496.5 L498.2 495.8 M475.7 203 L473.9 204.2 L472.3 205.8 L470.4 207 L468.6 208.2 L466.6 209.1 L464.6 209.9 L462.6 210.5 L460.6 211.2 L458.8 212.3 L456.6 212.4 L454.5 212.5 L452.8 213.9 L450.8 214.2 L448.7 214.4 L446.7 214.7 L444.9 215.8 L443.1 217.4 L440.7 217.7 L438.8 219.2 L436.6 219.9 L434.7 220.6 L433 221.8 L431.3 222.9 L429.3 223.4 L427.4 224.1 L427 226.1 L425.8 227.8 L425.8 229.9 L424.8 232.1 L423.6 234.1 L425.6 235.3 L426.6 237.4 L428.7 237.5 L430.5 238.5 L432.4 239.1 L430.2 239.3 L428.3 240.1 L426.6 241.6 L424.6 242 L423.5 243.9 L421.6 244.4 L419.9 245.3 L417.9 245.9 L415.7 245.5 L413.6 245.8 L411.6 246.6 L409.7 245.4 L407.7 244.5 L405.5 244.1 L403.3 243.6 L401.4 242.6 L399.2 243.5 L397.3 242.5 L395.2 242.6 L393.3 241.6 L391.2 241.3 L389.2 240.5 L387 240.6 L385 239.9 L382.8 240.8 L380.6 241.1 L378.3 240.8 L377.3 238.9 L376.2 237 L375.8 234.9 L375.2 233.1 L374 231.6 L373.3 229.9 L373.6 228.2 L375.5 227.5 L375.8 225.8 L374.5 223.9 L374.1 221.6 L372.2 221.3 L370.3 221.6 L368.5 221.7 L366.6 221.9 L364.5 222.7 L362.1 222 L360 222.8 L357.8 222.1 L355.4 222 L353.3 220.8 L351.9 219.9 L350.8 218.6 L349.1 218.3 L349.1 220.2 L350.9 221.4 L350.8 223.3 L351.5 225.5 L351.2 227.7 L351.6 229.9 L352.6 232 L354 233.9 L355.2 236 L355.8 238.3 L357.2 240.1 L358 242.2 L357.9 244.7 L359.1 246.6 L359.5 248.7 L360.5 250.6 L360.5 252.8 L360.8 254.9 L360.5 257 L361.2 259 L360.8 261.1 L359.9 263.2 L359.9 265.5 L360.1 267.8 L359.6 270 L359.6 272.2 L360.3 274.2 L361.6 276.1 L361.6 278.3 L362.2 280.1 L361.6 282 M452.5 312.4 L450.9 311.5 L450 309.9 L450.3 307.6 L449.2 305.5 L449.1 303.3 L450.9 302.4 L452.1 300.9 L453.6 299.6 L454.5 297.9 L455.4 296 L455.8 294.1 L454.8 292 L452.7 290.7 L451.6 288.6 L450.7 286.9 L450.8 285.1 L450.8 283.3 L452.6 282.8 L454.4 282.1 L455.7 280.7 L457.5 280 L459.4 278.9 L461.6 278.7 L463.9 278.8 L465.8 277.6 L467.8 276.5 L469.6 275 L471.9 274.6 L473.2 273 L473.3 270.7 L474.6 269.1 L474.6 267.2 L475.8 265.4 L475.7 263.5 L475.8 261.6 M484.9 252.5 L485 250.7 L485.8 249.3 L486.6 247.9 L487.5 246.6 L487.6 244.2 L486.3 242.2 L485.8 239.9 L485.4 237.6 L487 235.6 L486.6 233.3 L486 231.1 L485.9 228.7 L485 226.6 L485.4 224.3 L486 222.1 L486.6 219.9 L485.5 218.1 L486.2 215.8 L485 214.1 L483.5 212.9 L483 210.8 L481.4 209.6 L480 208.3 L479.1 206.2 L476.9 205 L475.8 203 M475.8 261.6 L477.5 260.5 L478.5 258.9 L479.9 257.5 L481.5 255.7 L483.6 254.5 L484.9 252.5 M378.2 290.3 L380 290.3 L381.7 290.5 L383.2 291.6 L385.5 292.1 L387.8 292.6 L389.9 293.6 L392.1 293.5 L394.3 292.7 L396.5 292.5 L398.7 291.7 L401.1 291.9 L403.2 290.8 L404.9 289.8 L406.9 289.4 L408.7 288.6 L410.7 288.6 L412.2 288.6 L413.2 289.6 L414 291.5 L414.9 293.3 L416.1 294.8 L416.5 296.7 L417.4 298.3 L419.3 297.5 L421.3 297.4 L423.2 296.6 L425.2 295.3 L427.6 295 L429.8 294.1 L431.8 293.9 L433.5 295 L434.2 297.1 L435 299.3 L434.8 301.6 L436.6 302.3 L438.2 303.3 L439.7 304.6 L441.6 305.2 L443.2 306.3 L444.8 307.5 L446.3 309.1 L448.1 310.4 L450 311.6 L451.1 312.3 L452.5 312.4 M498.2 495.8 L499.3 497.5 L499.1 499.5 L499.6 501.4 L499.9 503.3 L500.8 505.4 L500.9 507.7 L501.5 509.9 L502.2 511.5 L502.3 513.3 L503.2 514.9 L505.4 514.4 L507.7 514.4 L509.9 514.1 L511.6 513.9 L513.1 513 L514.9 513.3 L515.9 511.7 L516.3 509.8 L517.9 508.5 L518.2 506.6 L519.7 505.3 L520.9 503.9 L522.3 502.5 L523.2 500.8 L525.1 499.7 L527.3 499.9 L528.9 501 L529.2 503 L530 504.6 L531.5 505.8 L532.6 507.8 L533.1 510.2 L535.1 511.8 L535.7 514.1 L536.3 512.2 L536.5 510.2 L537.4 508.4 L538.2 506.6 L539.2 504.7 L541.4 503.6 L542.3 501.6 L544.1 500.8 L545.4 499.3 L547 498.3 L549.1 498.2 L551.2 498.7 L552.6 500.2 L553.7 501.8 L555.4 503 L556.2 504.9 L557.4 503.5 L558.5 502 L560 500.8 L561.5 501.9 L563.3 502.5 L565.2 503.6 L567 504.8 L568.3 506.6 L569.3 508.3 L570.7 509.9 L571.7 511.6 L571.9 514 L573.9 515.6 L574.1 517.9 L575 520 L575.5 521.8 L577.1 523.1 L577.5 524.9 L578.3 526.6 L579.4 528.1 L579.2 530 L580 531.6 L582.1 531.6 L583.8 533.1 L585.8 533.3 L587.9 533.7 L590 534.1 L591.4 532.6 L593.3 531.6 L594.7 532.2 L595.8 533.3 L598.1 533 L600 531.6 L601.9 531.6 L603.5 532.4 L605 533.3 M397.4 617.4 L399.4 617.6 L400.5 619.6 L402.4 619.9 L404 621.6 L405.3 623.6 L407.4 624.9 L409.7 625.2 L412 624.5 L414.2 623.6 L416.6 624.1 L418.8 624.8 L421 625.4 L423.3 625.7 L425.6 626 L427.7 625.2 L429.9 624.9 L431.9 624.1 L434.1 625 L436.1 623.7 L438.3 624.1 L438.7 621.9 L438.9 619.6 L439.1 617.4 L440 616.6 L441.9 617.8 L444.1 618.5 L446.3 618.9 L448.3 619.9 L450.5 620.2 L452.5 621.1 L454.8 621.2 L456.7 622.4 L457.9 624.5 L460 625.8 L462.3 625.5 L464.4 626.5 L466.6 626.6 L467.7 628.5 L469.9 629.6 L470.8 631.6 L472.9 630.8 L475 629.9 L476.8 630.4 L478.8 630.5 L480.6 631.1 L482.5 631.6 L483.9 633.1 L485 634.9 L484.2 636.6 L483.3 638.3 L485.4 638.6 L487.4 639.2 L489.6 638.9 L491.6 639.9 L492.1 642 L493.2 643.8 L494.1 645.8 L495.7 646.7 L497.5 646.6 L498.6 645.1 L500.6 644.9 L501.6 643.3 L503.8 644 L506.1 643.4 L508.3 643.3 L510.2 643.7 L511.7 644.9 L513.3 645.8 L515.4 646.5 L517.4 647.4 L519.2 647.8 L520.8 647.3 L522.4 646.6 L523.1 645.3 L524.1 644.1 L526.2 643.8 L528 642.6 L529.9 641.6 L531.7 640.7 L533.8 641.3 L535.6 640.7 L537.4 639.9 L539.7 639.6 L541.8 641.1 L544.1 640.8 L543.7 639.1 L543 637.7 L541.6 636.6 L541.3 634.3 L539.9 632.3 L539.9 629.9 L539.7 627.8 L539.6 625.7 L539.3 623.7 L539.1 621.6 L539.4 619.6 L538.6 617.6 L539.7 615.6 L538.8 613.6 L539.6 611.6 L540.2 609.4 L540.9 607.2 L541.6 605 L542.3 603 L544 601.8 L544.9 600 L546.3 598.1 L548.1 596.5 L549.9 595 L552.1 594.4 L554.3 593.8 L556.6 593.3 L558.4 591.8 L559.9 590 L561.2 588.2 L563.6 588 L565.1 586.4 L566.6 585 L567.9 583.2 L569.9 582.5 L571.6 581.3 L573.2 580 L574.7 578.8 L576.7 578.7 L578.2 577.5 L580.3 577.6 L582.4 578 L583.7 579.1 L584.1 580.8 L585.7 581.4 L587.4 581.5 L589.1 581.3 M589.1 580.8 L590.7 579.1 L592.3 577.3 L594.3 575.9 L595.8 574.1 L596.6 572.3 L598.4 571.1 L598.9 569.1 L600 567.5 L601.4 565.6 L603.1 563.8 L604.1 561.6 L604.4 559.6 L605.3 558 L607 556.7 L607.5 554.9 L609 553.4 L610.7 551.9 L611.6 549.9 L611.1 547.7 L610.1 545.7 L608.7 543.9 L607.1 542.2 L606.6 540 L605.5 537.9 L605.3 535.6 L605 533.3 M683.2 483.3 L681.5 484 L679.7 484.7 L678.2 485.8 L676.5 485.2 L675 484.4 L673.2 484.2 L671.3 484.1 L669.3 483.7 L667.4 484.2 L666.6 486.2 L666.6 488.3 L667.6 489.8 L669.6 490.3 L670.7 491.7 L671.2 493.3 L670.8 495.1 L671.6 496.7 L669.3 496.7 L667.5 498.3 L665.5 498.9 L663.3 499.2 L661.5 499.8 L660 500.9 L658.3 501.7 L656.3 502.8 L654 503.3 L652.4 505 L651 506.8 L650.8 509.1 L648.6 509.8 L647.1 511.7 L644.9 512.5 L643.4 514 L642.4 515.8 L642 517.6 L642.4 519.2 L643.3 520.8 L641.4 521.8 L639.4 521.8 L637.4 521.6 L636.1 523.1 L635.8 525 L636.7 526.5 L637.9 527.8 L639.1 529.1 L641.1 529.5 L643 530 L644.9 530.8 L646.2 532.7 L646.6 535 L646.8 536.7 L646.4 538.4 L645.8 540 L643.8 539.7 L642.4 538.3 L640.6 538.9 L639.8 540.7 L638.3 541.6 L637.2 540.1 L635.9 538.9 L634.1 538.3 L632.3 537.2 L630.4 536.7 L628.3 536.6 L626.8 534.8 L625 533.3 L623 532.8 L621.1 532.7 L619.1 533.3 L617.1 533.5 L615.4 534.7 L613.3 534.6 L611.6 535.8 L610.3 533.8 L608.3 532.5 L606.8 533.5 L605 533.3 M589.1 580.8 L591.2 582 L593.6 581.8 L595.8 582.5 L597.7 583 L599.6 583.4 L601.6 583.6 L602.5 585 L602.5 586.6 L604.3 587.4 L606.2 587.7 L608.1 587.3 L610 587.5 L611.8 588 L613.6 587.5 L615 586 L615.8 584.1 L617.5 584.3 L619.1 584.6 L620.8 586.2 L621.6 588.3 L623.3 588.1 L624.8 589.4 L626.6 589.1 L628.1 588.1 L629.7 587.4 L631.6 587.5 L633 588.7 L634.9 589.1 L634.8 591.3 L634.1 593.3 L635.5 594.8 L637.4 595.8 L639.4 595.6 L641.3 596.1 L643.3 595.8 L645 596.3 L646.6 597.1 L648.3 597.5 L650 598.2 L651.5 599.5 L653.3 600 L655.2 601.4 L656.6 603.3 L658.5 601.9 L659.9 600 L662.2 600.1 L664.4 600.8 L666.6 601.6 L668.2 601.1 L669.9 600.8 L671.4 599.4 L673.2 598.3 L674.9 598.1 L676.5 599.2 L678.2 599.1 L680.2 598.6 L681.7 597.2 L683.2 595.8 L685.2 594.9 L687.4 595 L688.7 593.7 L690.5 593.1 L691.6 591.6 L691.2 589.7 L689.9 588.3 L689.9 586.4 L691.2 585 L691.6 583.3 L693 581.8 L695.3 581.6 L696.6 580 L698.8 579.4 L700.4 577.6 L702.4 576.6 L703 574.6 L703.2 572.5 L704.9 571.9 L706.4 571.1 L708.2 570.8 L709.7 569 L709.9 566.6 L711.5 564.9 L713.2 563.3 L714.8 562.6 L716.7 562.9 L718.2 561.7 L719.5 560.1 L721.2 559 L723.4 558.8 L724.9 557.5 L724.4 555.9 L723 554.8 L722.4 553.3 L722.6 551.4 L724 550 L725.9 548.4 L727 546.3 L728.2 544.2 L728.8 542.4 L730.2 541 L730.7 539.1 L730.5 537.1 L728.9 535.8 L728.2 534.1 L725.9 534.5 L724 535.8 L722 536.2 L720.2 537.1 L718.2 537.5 L716 536.7 L713.9 535.5 L711.6 535 L709.4 534.8 L707.3 534.2 L705.3 533 L703.2 532.5 L702.3 530.9 L701.3 529.5 L699.9 528.3 L699 526.2 L697 525.1 L695.7 523.3 L695.8 521.1 L696.6 519.1 L695.6 517.3 L694.1 515.8 L695.4 514.6 L696.6 513.3 L696.8 511 L698.2 509.1 L699.5 507.1 L701.6 505.8 L701 503.9 L700.8 501.9 L699.4 500.3 L699.1 498.3 L697 498.3 L695.1 497.3 L693.2 496.7 L692.3 495 L690.1 494.9 L689.1 493.3 L688.6 491.5 L688 489.7 L686.6 488.3 L685.3 486.8 L684.3 485 L683.2 483.3 M322.5 347.5 L321.4 349 L320.8 350.8 L320 352.5 L319.8 354.7 L320.8 356.6 L322.2 357.9 L324.2 358 L325.8 359.1 L327.8 358.7 L329.5 360 L331.4 359.6 L333.3 360 L332 361.8 L331.9 364 L330.8 365.8 L331.9 367.5 L333.6 368.6 L335 370 L335.6 371.8 L337.7 372.3 L338.3 374.1 L336.4 375.4 L335.8 377.7 L334.1 379.1 L332.7 380.5 L332.5 382.5 L333.7 383.6 L334.1 385.3 L335 386.6 L335.9 388.4 L337.7 389.6 L338.3 391.6 L339.5 393.7 L340.8 395.7 L342.5 397.4 L342.4 399.3 L343.3 400.8 L344.1 402.4 L345.4 403.9 L347.4 404.7 L348.3 406.6 L350.5 407.6 L352.5 409 L354.1 410.8 L356 412 L358 413 L359.9 414.1 L361.8 415.2 L363.9 415.7 L365.8 416.6 L367.8 417 L369.6 417.9 L371.6 418.3 M371.6 418.3 L373.2 417.3 L375 416.7 L376.6 415.8 L378.8 416.5 L381.1 416.1 L383.3 416.6 L385.5 416.3 L387.7 416.4 L389.9 415.8 L391 414.4 L392.6 414 L394.1 413.3 L392.9 411.8 L392.3 410 L391.6 408.3 L391.1 406.2 L391.4 404.1 L392.3 402 L391.6 399.9 L390.5 398 L391.3 395.6 L390.4 393.7 L389.9 391.6 L389.5 389.7 L387.9 388.4 L387.4 386.6 L386.3 385.1 L385.6 383.4 L384.9 381.6 L383.6 380 L382.4 378.3 L384.3 378.5 L386.1 377.5 L388 377.8 L389.9 377.5 L391.3 376.2 L393 375.3 L395.1 375.4 L396.6 374.1 L398.7 373.8 L400.8 373.7 L402.9 373.2 L404.9 372.5 L406.8 372.7 L408.6 372.4 L410.5 373.1 L412.4 372.5 L414.1 374.1 L415.7 372.6 L416.3 370.4 L418.2 369.1 M804.1 595.8 L806.2 596 L808.3 595.3 L809.1 597.4 L809.7 599.5 L809.9 601.7 L809.5 603.6 L810.6 605.4 L810.2 607.2 L810.2 609.1 L810 610.8 L809.8 612.4 L809.9 614.1 L811.4 615.8 L811.9 618.1 L813.2 620 L813.6 622.1 L813.6 624.2 L815.1 626.1 L814.9 628.3 L814.7 630.5 L816.2 632.4 L815.7 634.6 L816.6 636.6 L816.8 638.5 L816.5 640.4 L817.6 642.2 L817.4 644.1 L817 646.1 L816.7 648 L815.2 649.6 L814.9 651.6 L814 653.8 L813.6 656.2 L812.4 658.3 L812.7 660.4 L812.7 662.5 L812.4 664.6 L811.9 666.6 L811.7 668.7 L811.8 670.8 L811.4 672.8 L811.6 674.9 L811.3 676.9 L809.9 678.3 L809.8 680.1 L810.7 681.6 L809 682.9 L808.2 684.7 L807.4 686.6 L807.5 688.7 L808.3 690.7 L806.4 689.4 L804.1 689.1 L801.9 688.8 L800.2 687.5 L798.3 686.6 L796.3 686 L795.2 684.1 L793.3 683.3 L791.7 682.1 L789.7 681.5 L788.3 679.9 L787.4 678.3 L786.6 676.6 L788.5 675.7 L789.9 674.1 L788.3 673.2 L786.3 672.9 L784.9 671.6 L783.1 670.2 L780.8 669.9 L782 667.8 L784.1 666.6 L784.2 664.8 L783.3 663.3 L785.1 662 L785.8 659.9 L783.6 660 L781.5 660.1 L779.5 661.1 L777.4 661.6 L777.5 659.4 L778.3 657.4 L779.9 655.7 L781.6 654.1 L780.8 652.5 L779.7 651.1 L778.3 649.9 L776.8 648.6 L775.9 646.7 L774.1 645.8 L773.4 643.7 L774.1 641.6 L775.5 640.8 L776.6 639.4 L778.3 639.1 L776.5 638.2 L775.3 636.3 L773.3 635.8 L773.7 634.1 L775.6 633.3 L775.8 631.6 L777.1 630.2 L777.7 628.4 L778.3 626.6 L778.5 624.3 L779.9 622.5 L781.6 621.6 L783.4 621 L784.7 619.4 L786.6 619.1 L788.4 618 L790.2 616.9 L792.4 616.6 L793.9 615.5 L795.1 614.2 L795.8 612.5 L797.8 613.1 L799.9 612.5 L801.5 613.2 L803.3 613.3 L803.7 611.7 L803.2 609.9 L804.1 608.3 L803.8 606.1 L803.9 603.9 L803.3 601.7 L803.9 599.8 L803.2 597.7Z" fill="none" stroke="#ffffff" stroke-opacity="0.95" stroke-width="1.2" stroke-linejoin="round" stroke-linecap="round"/>
<path d="M290.8 351.6 L294.2 350.8 L298.3 354.1 L297.5 356.3 L293.3 355.3Z" fill="#ffc000" stroke="#ffffff" stroke-opacity="0.7" stroke-width="0.96"/>
<path d="M326.3 373.6 L329.1 373 L331 375.8 L330 377.6 L327.5 376.6Z" fill="#edf908" stroke="#ffffff" stroke-opacity="0.7" stroke-width="0.96"/>
<path d="M321.6 389.9 L325 389.6 L327.6 392.4 L325.3 393.3 L322.5 391.9Z" fill="#edf908" stroke="#ffffff" stroke-opacity="0.7" stroke-width="0.96"/>
<path d="M355 419.7 L360.8 421.3 L365.8 425.3 L362.6 425.3 L357.5 422.7Z" fill="#e4f70a" stroke="#ffffff" stroke-opacity="0.7" stroke-width="0.96"/>
<path d="M360 432.5 L365 435 L369.1 440 L370 445.3 L367.5 445.8 L364.1 440.8 L360.8 436.1Z" fill="#e4f70a" stroke="#ffffff" stroke-opacity="0.7" stroke-width="0.96"/>
<path d="M291.3 351.6 L295.3 353.3 L297.9 356.2 L294.1 356.2 L291.3 354.1Z" fill="#ffc000" stroke="#ffffff" stroke-opacity="0.7" stroke-width="0.96"/>
<path d="M669.9 604.1 L674.9 603.6 L674.6 605.8 L670.7 605.9Z" fill="#def50b" stroke="#ffffff" stroke-opacity="0.7" stroke-width="0.96"/>
<path d="M679.1 604.1 L684.1 601.6 L684.6 603.3 L680.2 605.3Z" fill="#def50b" stroke="#ffffff" stroke-opacity="0.7" stroke-width="0.96"/>
<path d="M262.5 327.9 L265.3 329.1 L264.6 330.8 L262 329.6Z" fill="#ffc000" stroke="#ffffff" stroke-opacity="0.7" stroke-width="0.96"/>
<path d="M283.2 333.9 L285.6 334.6 L285.4 335.8 L283 335.2Z" fill="#ffc000" stroke="#ffffff" stroke-opacity="0.7" stroke-width="0.96"/>
<path d="M302.2 350.4 L303.4 350.6 L303.2 351.6 L302 351.4Z" fill="#ffc000" stroke="#ffffff" stroke-opacity="0.7" stroke-width="0.96"/>
<path d="M305.3 353.2 L306.5 353.4 L306.3 354.4 L305.1 354.2Z" fill="#ffc000" stroke="#ffffff" stroke-opacity="0.7" stroke-width="0.96"/>
<path d="M229.5 285.4 L230.5 285.6 L230.3 286.4 L229.3 286.2Z" fill="#ffc000" stroke="#ffffff" stroke-opacity="0.7" stroke-width="0.96"/>
<path d="M231.4 287.5 L232.3 287.7 L232.1 288.5 L231.2 288.3Z" fill="#ffc000" stroke="#ffffff" stroke-opacity="0.7" stroke-width="0.96"/>
<path d="M233.3 289.4 L234.2 289.6 L234 290.4 L233.1 290.2Z" fill="#ffc000" stroke="#ffffff" stroke-opacity="0.7" stroke-width="0.96"/>
<path d="M613.3 529.1 L616.6 525 L620.8 528.3 L617.5 532.5 L614.1 531.6Z" fill="#def50b" stroke="#ffffff" stroke-opacity="0.7" stroke-width="0.96"/>
<path d="M306.8 339.6 L308.6 338.8 L310.6 339.6 L310.2 341.6 L308 341.8 L307.4 340.6 L309.4 340.4" fill="none" stroke="#ffffff" stroke-opacity="0.75" stroke-width="1.2"/>
<path d="M601.6 568.3 L603.6 569.6 L607.5 578.3 L610 583.6 L613.6 587.5" fill="none" stroke="#ffffff" stroke-opacity="0.75" stroke-width="1.2"/>
<path d="M333.6 358.6 L340 358 L343.6 359.3" fill="none" stroke="#ffffff" stroke-opacity="0.75" stroke-width="1.2"/>
<path d="M405.8 594.1 L406.9 588.3 L409.6 585.8 L411.6 588.3 L408.3 593.3 L405.8 594.1" fill="none" stroke="#ffffff" stroke-opacity="0.75" stroke-width="1.2"/>
<text x="512.50" y="216.9" font-size="21.2" font-weight="bold" fill="#000" stroke="#000" stroke-width="1" stroke-linejoin="round" textLength="23.49" lengthAdjust="spacingAndGlyphs">43</text>
<text x="408.55" y="269.6" font-size="21.2" font-weight="bold" fill="#000" stroke="#000" stroke-width="1" stroke-linejoin="round" textLength="32.12" lengthAdjust="spacingAndGlyphs">-12</text>
<text x="493.61" y="290.2" font-size="21.2" font-weight="bold" fill="#000" stroke="#000" stroke-width="1" stroke-linejoin="round" textLength="43.39" lengthAdjust="spacingAndGlyphs">-107</text>
<text x="621.26" y="287.2" font-size="21.2" font-weight="bold" fill="#000" stroke="#000" stroke-width="1" stroke-linejoin="round" textLength="23.55" lengthAdjust="spacingAndGlyphs">18</text>
<text x="294.41" y="314.2" font-size="21.2" font-weight="bold" fill="#000" stroke="#000" stroke-width="1" stroke-linejoin="round" textLength="32.58" lengthAdjust="spacingAndGlyphs">-39</text>
<text x="374.33" y="357.6" font-size="21.2" font-weight="bold" fill="#000" stroke="#000" stroke-width="1" stroke-linejoin="round" textLength="20.83" lengthAdjust="spacingAndGlyphs">21</text>
<text x="466.91" y="360.7" font-size="21.2" font-weight="bold" fill="#000" stroke="#000" stroke-width="1" stroke-linejoin="round" textLength="31.85" lengthAdjust="spacingAndGlyphs">-14</text>
<text x="598.50" y="372.3" font-size="21.2" font-weight="bold" fill="#000" stroke="#000" stroke-width="1" stroke-linejoin="round" textLength="13.08" lengthAdjust="spacingAndGlyphs">0</text>
<text x="411.05" y="491.3" font-size="21.2" font-weight="bold" fill="#000" stroke="#000" stroke-width="1" stroke-linejoin="round" textLength="23.85" lengthAdjust="spacingAndGlyphs">32</text>
<text x="587.10" y="471.7" font-size="21.2" font-weight="bold" fill="#000" stroke="#000" stroke-width="1" stroke-linejoin="round" textLength="20.78" lengthAdjust="spacingAndGlyphs">-9</text>
<text x="488.92" y="576.5" font-size="21.2" font-weight="bold" fill="#000" stroke="#000" stroke-width="1" stroke-linejoin="round" textLength="24.08" lengthAdjust="spacingAndGlyphs">60</text>
<text x="650.84" y="559.7" font-size="21.2" font-weight="bold" fill="#000" stroke="#000" stroke-width="1" stroke-linejoin="round" textLength="24.34" lengthAdjust="spacingAndGlyphs">39</text>
<text x="787.75" y="652.4" font-size="21.2" font-weight="bold" fill="#000" stroke="#000" stroke-width="1" stroke-linejoin="round" textLength="19.60" lengthAdjust="spacingAndGlyphs">-3</text>
</g>
<g id="smallmap" transform="translate(-50.7 346.6) scale(0.4495)">
<path d="M361.6 282 L359.7 282.2 L357.9 282.4 L356 282.7 L354.1 282 L351.9 281.7 L349.9 282.6 L349.3 280.5 L349.2 278.3 L347.5 280.1 L345.2 280.6 L345.3 283 L344.5 285.2 L344.2 287.5 L344.1 285.7 L343.1 284.1 L342.9 282.3 L340.5 282.4 L338.3 281.6 L336 281.4 L334.2 279.6 L331.9 279.3 L330.2 280.1 L328.5 280.6 L326.6 280.8 L324.6 281.3 L323.1 282.7 L321.6 284.1 L319.3 284.9 L317.4 286.3 L316.3 284.3 L314.2 283 L313.3 280.8 L312.5 278.8 L311.5 276.8 L310.3 275 L308.6 273.6 L307.7 271.7 L308.1 269.6 L307.6 267.6 L306.5 266.3 L304.9 265.5 L303.3 265 L301.1 265.7 L298.9 266.3 L296.6 266.7 L294.6 267 L292.6 267.1 L290.6 267.4 L288.6 267.5 L286.7 268.6 L285 270 L284.5 271.6 L284.3 273.3 L282.2 273.3 L280.3 274 L278.3 274.3 L276.5 274.3 L275.1 275.4 L273.6 276 L272.4 274.5 L271.7 272.6 L270 271.6 L268.8 270.8 L267.3 270.8 L265.9 271.8 L264.6 273 L263.3 274.1 L261 273.7 L258.9 274.9 L256.6 275 L254.6 275.5 L252.6 275.2 L250.7 275.6 L248.7 274.5 L246.7 275 L244.6 275.7 L243.7 278 L242 279.2 L240 280 L239.2 281.7 L238 283.2 L237.5 285 L237.7 286.9 L238.5 288.8 L238.3 290.8 L239.8 291.9 L241.7 291.8 L243.3 292.5 L245.3 291.1 L247.7 290.8 L250 290 L252 291 L254.2 291.7 L255.8 293.3 L256.4 294.5 L256.6 295.8 L254.5 296.2 L252.5 296.1 L250.4 295.9 L248.3 295.8 L247.2 297 L245.6 297.6 L244.2 298.3 L244.7 300.1 L245.8 301.6 L247.7 301.2 L249.6 301.7 L251.4 301 L253.3 301.6 L254.2 302.6 L255 303.6 L252.7 304.1 L250.6 305.3 L248.3 305.8 L246.4 306.6 L244.3 306.4 L242.3 306.2 L240.3 306.3 L238.3 306.6 L239.6 307.6 L240 309.1 L242.4 309.6 L244.7 310.2 L246.7 311.6 L247.7 313.5 L249.2 314.9 L250.2 316.6 L249.9 318.8 L250.6 320.7 L251.7 322.4 L253.7 322.4 L255.5 323.4 L257.5 323.3 L259.2 322.1 L261.3 322.1 L263.2 321.8 L265 320.8 L266.6 321.7 L268.6 322 L270 323.3 L271.5 324.4 L273.3 325.1 L275 325.8 L277.3 326.3 L279.6 327 L281.6 328.3 L283.1 329.6 L285.2 329.4 L286.5 331.1 L288.3 331.6 L290.1 331.6 L291.6 332.4 L292.3 334.1 L293.4 335.6 L295 336.6 L295.8 338.3 L296.4 339.9 L297 341.5 L296.9 343.3 L298.1 342.2 L299.1 340.8 L301 341.6 L303 341.5 L304.9 341.9 L306.2 343.9 L308.3 344.9 L310 345.4 L311.6 345.4 L313.3 344.9 L315.5 344.2 L317.8 345.1 L319.9 344.3 L321.6 345.9 L323.3 346.1 L324.9 346.9 L326.6 346.6 L328.7 346.2 L330.9 346.3 L332.8 345.4 L334.9 344.9 L336.5 343.6 L336.9 341.6 L338.4 340.4 L340.2 339.8 L341.6 338.6 L343.2 337.6 L345.5 336.9 L347.6 335.7 L349.9 335.1 L352.1 334.8 L354.2 334.2 L356.2 333.3 L358.2 332.4 L360.5 331.7 L362.5 330.3 L364.9 330.1 L367.2 329.9 L369.3 328.7 L371.6 328.3 L371.9 326.4 L372.9 324.8 L373.8 323.1 L374.9 321.6 L375.9 319.6 L377.7 318.2 L379.2 316.6 L378.8 314.7 L377.6 313.2 L376.6 311.6 L376.7 309.5 L376.9 307.4 L377.8 305.4 L377.6 303.3 L378 301.2 L378 299.2 L377.7 297.1 L378.2 295 L378.8 292.6 L378.2 290.3 L376 290.1 L373.9 289 L371.6 289.3 L369.8 290.8 L368.2 292.6 L366.7 291.3 L364.9 290.4 L363.2 289.3 L362.4 287.6 L362.9 285.6 L362.5 283.7Z" fill="#8fdc25" stroke="#8fdc25" stroke-width="2" stroke-linejoin="round"/>
<path d="M475.7 203 L473.9 204.2 L472.3 205.8 L470.4 207 L468.6 208.2 L466.6 209.1 L464.6 209.9 L462.6 210.5 L460.6 211.2 L458.8 212.3 L456.6 212.4 L454.5 212.5 L452.8 213.9 L450.8 214.2 L448.7 214.4 L446.7 214.7 L444.9 215.8 L443.1 217.4 L440.7 217.7 L438.8 219.2 L436.6 219.9 L434.7 220.6 L433 221.8 L431.3 222.9 L429.3 223.4 L427.4 224.1 L427 226.1 L425.8 227.8 L425.8 229.9 L424.8 232.1 L423.6 234.1 L425.6 235.3 L426.6 237.4 L428.7 237.5 L430.5 238.5 L432.4 239.1 L430.2 239.3 L428.3 240.1 L426.6 241.6 L424.6 242 L423.5 243.9 L421.6 244.4 L419.9 245.3 L417.9 245.9 L415.7 245.5 L413.6 245.8 L411.6 246.6 L409.7 245.4 L407.7 244.5 L405.5 244.1 L403.3 243.6 L401.4 242.6 L399.2 243.5 L397.3 242.5 L395.2 242.6 L393.3 241.6 L391.2 241.3 L389.2 240.5 L387 240.6 L385 239.9 L382.8 240.8 L380.6 241.1 L378.3 240.8 L377.3 238.9 L376.2 237 L375.8 234.9 L375.2 233.1 L374 231.6 L373.3 229.9 L373.6 228.2 L375.5 227.5 L375.8 225.8 L374.5 223.9 L374.1 221.6 L372.2 221.3 L370.3 221.6 L368.5 221.7 L366.6 221.9 L364.5 222.7 L362.1 222 L360 222.8 L357.8 222.1 L355.4 222 L353.3 220.8 L351.9 219.9 L350.8 218.6 L349.1 218.3 L349.1 220.2 L350.9 221.4 L350.8 223.3 L351.5 225.5 L351.2 227.7 L351.6 229.9 L352.6 232 L354 233.9 L355.2 236 L355.8 238.3 L357.2 240.1 L358 242.2 L357.9 244.7 L359.1 246.6 L359.5 248.7 L360.5 250.6 L360.5 252.8 L360.8 254.9 L360.5 257 L361.2 259 L360.8 261.1 L359.9 263.2 L359.9 265.5 L360.1 267.8 L359.6 270 L359.6 272.2 L360.3 274.2 L361.6 276.1 L361.6 278.3 L362.2 280.1 L361.6 282 L362.5 283.7 L362.9 285.6 L362.4 287.6 L363.2 289.3 L364.9 290.4 L366.7 291.3 L368.2 292.6 L369.8 290.8 L371.6 289.3 L373.9 289 L376 290.1 L378.2 290.3 L380 290.3 L381.7 290.5 L383.2 291.6 L385.5 292.1 L387.8 292.6 L389.9 293.6 L392.1 293.5 L394.3 292.7 L396.5 292.5 L398.7 291.7 L401.1 291.9 L403.2 290.8 L404.9 289.8 L406.9 289.4 L408.7 288.6 L410.7 288.6 L412.2 288.6 L413.2 289.6 L414 291.5 L414.9 293.3 L416.1 294.8 L416.5 296.7 L417.4 298.3 L419.3 297.5 L421.3 297.4 L423.2 296.6 L425.2 295.3 L427.6 295 L429.8 294.1 L431.8 293.9 L433.5 295 L434.2 297.1 L435 299.3 L434.8 301.6 L436.6 302.3 L438.2 303.3 L439.7 304.6 L441.6 305.2 L443.2 306.3 L444.8 307.5 L446.3 309.1 L448.1 310.4 L450 311.6 L451.1 312.3 L452.5 312.4 L450.9 311.5 L450 309.9 L450.3 307.6 L449.2 305.5 L449.1 303.3 L450.9 302.4 L452.1 300.9 L453.6 299.6 L454.5 297.9 L455.4 296 L455.8 294.1 L454.8 292 L452.7 290.7 L451.6 288.6 L450.7 286.9 L450.8 285.1 L450.8 283.3 L452.6 282.8 L454.4 282.1 L455.7 280.7 L457.5 280 L459.4 278.9 L461.6 278.7 L463.9 278.8 L465.8 277.6 L467.8 276.5 L469.6 275 L471.9 274.6 L473.2 273 L473.3 270.7 L474.6 269.1 L474.6 267.2 L475.8 265.4 L475.7 263.5 L475.8 261.6 L477.5 260.5 L478.5 258.9 L479.9 257.5 L481.5 255.7 L483.6 254.5 L484.9 252.5 L485 250.7 L485.8 249.3 L486.6 247.9 L487.5 246.6 L487.6 244.2 L486.3 242.2 L485.8 239.9 L485.4 237.6 L487 235.6 L486.6 233.3 L486 231.1 L485.9 228.7 L485 226.6 L485.4 224.3 L486 222.1 L486.6 219.9 L485.5 218.1 L486.2 215.8 L485 214.1 L483.5 212.9 L483 210.8 L481.4 209.6 L480 208.3 L479.1 206.2 L476.9 205 L475.8 203Z" fill="#ffff00" stroke="#ffff00" stroke-width="2" stroke-linejoin="round"/>
<path d="M475.8 203 L476.4 201.1 L477 199.1 L478.3 197.5 L479.4 196 L480.7 194.7 L482.5 194.1 L481.3 192.9 L481 191.1 L479.7 190 L480.1 188.3 L480 186.6 L480.8 185 L479.2 183.3 L478.9 181.3 L479.4 179.3 L479.5 177.3 L480.4 175.3 L480 173.3 L480.1 171.1 L480.8 168.9 L481 166.7 L480.5 164.4 L480.5 162.2 L480.8 160 L481.2 158.1 L482.5 156.7 L484.5 155.4 L486.7 154.3 L488.3 152.5 L490.4 152 L492.3 150.7 L494.6 150.8 L496.6 150 L498.6 149.6 L500.5 148.6 L502.7 148.8 L504.8 148.7 L506.6 147.5 L508.7 147.4 L510.8 147 L512.8 146.4 L514.8 145.8 L516.6 144.7 L517.3 146.5 L518.3 148.1 L518.6 150 L518.5 151.7 L518.6 153.3 L518.3 155 L519.7 156.5 L519.9 158.7 L521 160.3 L522.5 161.7 L524.2 163.4 L526.1 164.8 L528.3 165.8 L530 164.7 L531.9 164 L533.3 162.5 L535 162.7 L536.6 162.5 L538.3 162.5 L539.2 164.7 L541 166.4 L542.4 168.3 L542.5 170 L543.2 171.6 L543.3 173.3 L544.9 175 L546.6 176.6 L548.9 177 L551.2 177.2 L553.3 178.3 L554.4 180.2 L555.9 181.7 L557.4 183.3 L558.3 185.3 L558.3 187.5 L560.4 187.7 L562.5 187.3 L564.5 186.2 L566.6 186.6 L568.8 187.2 L570.9 187.8 L573.2 187.5 L574.9 188.6 L575.8 190.4 L577.4 191.6 L576.4 193.4 L576.9 195.7 L575.7 197.5 L576 199.7 L577.3 201.4 L578.2 203.3 L577.4 204.9 L577.4 206.6 L577.4 208.4 L578.2 210.1 L579.1 211.6 L578.8 213.7 L578.8 215.8 L578.6 217.8 L579.1 219.9 L577.4 221.4 L576.1 223.2 L575.2 225.4 L573.2 226.6 L572.7 228.8 L573.8 231.1 L573.2 233.3 L572.7 235.6 L571.8 237.8 L570.7 239.9 L568.5 240.6 L566.6 242.1 L564.2 242.5 L562.1 243.5 L559.9 244.1 L559.4 246.2 L558.5 248.1 L557.4 249.9 L557.6 252.2 L559 254.3 L559.1 256.6 L557.3 257.9 L556.5 260 L555.9 262.2 L554.3 263.9 L553.7 266.1 L553.2 268.3 L552.8 270.4 L551.3 272.1 L550.7 274.1 L549.9 272.7 L548.7 271.6 L548.2 270 L546.1 268.8 L544.8 266.7 L543.2 265 L542.7 263 L541.1 261.6 L539.9 260 L537.7 259.7 L535.4 259.4 L533.2 259.1 L531.1 260 L528.7 260 L526.6 260.8 L524.4 260.4 L522.1 260.8 L519.9 260 L518.5 258.7 L516.7 258 L514.9 257.5 L512.9 256.6 L510.6 256.6 L508.8 255.1 L506.6 255 L504.5 255 L502.4 254.8 L500.4 253.9 L498.3 254.1 L496.2 254.7 L494 254 L492.1 255.4 L489.9 255 L488.1 254.4 L486.7 253.2 L484.9 252.5 L485 250.7 L485.8 249.3 L486.6 247.9 L487.5 246.6 L487.6 244.2 L486.3 242.2 L485.8 239.9 L485.4 237.6 L487 235.6 L486.6 233.3 L486 231.1 L485.9 228.7 L485 226.6 L485.4 224.3 L486 222.1 L486.6 219.9 L485.5 218.1 L486.2 215.8 L485 214.1 L483.5 212.9 L483 210.8 L481.4 209.6 L480 208.3 L479.1 206.2 L476.9 205Z" fill="#85d929" stroke="#85d929" stroke-width="2" stroke-linejoin="round"/>
<path d="M577.5 207.5 L579.4 207.5 L581.3 207.2 L583.2 207.7 L585 208.3 L587.2 207.4 L589.5 207 L591.6 205.8 L593 204.9 L594.4 204.1 L595.8 203.3 L595.9 201.2 L596.9 199.4 L597.5 197.5 L599.5 196.8 L601.6 196.7 L600.7 198.8 L600.7 201.1 L600 203.3 L600.4 205.6 L601.6 207.6 L601.6 210 L602.6 211.8 L602.8 213.8 L603.3 215.8 L604.9 216.5 L606.6 216.9 L608.3 217.5 L610.3 218.1 L611.3 220.2 L613 221.4 L614.9 222.2 L616.6 223.3 L618.1 225 L619.9 226.3 L622 227.5 L623.1 229.5 L625 230.8 L627.1 230.2 L629.1 231.4 L631.2 230.4 L633.3 230.8 L635.2 231.3 L637.2 231.4 L639.1 230.8 L641.2 231.2 L642.8 232.7 L644.9 233.3 L646.8 232.4 L648.9 232.5 L650.8 231.9 L652.8 231.5 L654.9 231.6 L657 232.2 L659 233.3 L661.2 233.4 L663.3 234.1 L665.4 235 L666.9 236.5 L668.3 238.3 L669.8 240 L670.9 241.9 L671.6 244.1 L673.1 245.5 L674.2 247.2 L674.9 249.1 L676.6 247.9 L678.2 246.6 L679.9 246.5 L681.6 246.7 L683.2 247.4 L683.9 248.9 L685.9 249.2 L686.6 250.8 L688.8 250.4 L690.9 249.6 L693.2 249.9 L695.2 249.1 L697.3 248.8 L699.4 248.2 L701.6 248.3 L703.3 249.7 L705 251 L706.6 252.4 L708.9 252.7 L711.1 253.3 L713.2 254.1 L715.3 253.9 L717.4 254 L719.4 254.5 L721.5 254.1 L723.8 254.5 L725.4 256.6 L727.6 257.3 L729.9 257.9 L728.9 259.6 L728.7 261.7 L727.8 263.4 L726.5 264.9 L726 266.8 L725.4 268.5 L724 269.9 L722.1 271.5 L721.2 273.8 L719.9 275.8 L718.9 277.8 L717.6 279.6 L716.5 281.6 L716.1 283.3 L716.9 284.9 L716.5 286.6 L716.2 288.9 L715.7 291.1 L714.9 293.2 L714.5 295.2 L714.5 297.3 L713.7 299.1 L713.2 301.1 L711.6 302.8 L710.7 305 L710.1 307.2 L710.2 309.4 L709.9 311.6 L710.9 313.1 L711.5 314.8 L711.6 316.6 L710.5 318.7 L710.7 321.1 L709.9 323.3 L709.3 325.3 L710.3 327.3 L710.1 329.3 L709.3 331.3 L709.9 333.3 L710.8 334.9 L711.6 336.5 L711.6 338.3 L710.4 339.9 L709.6 341.7 L708.4 343.3 L707.4 345 L705.6 346.3 L703.8 347.7 L701.6 348.3 L700 347.6 L698.3 347.4 L696.6 347.4 L695.5 345.9 L694.9 344.1 L693.7 342 L692.5 339.9 L690.7 338.3 L689.7 336.5 L688.9 334.7 L688.7 332.7 L688.2 330.8 L686.3 330.2 L684.8 328.9 L683.4 327.5 L681.3 327.2 L679.9 325.8 L678 324.3 L675.8 323.7 L673.7 322.6 L671.6 321.6 L669.4 320.6 L667.1 321 L664.9 320.8 L662.6 321.3 L660.3 320.8 L658.1 320.4 L655.8 320.8 L654 319.7 L652.4 318.3 L650.8 320.2 L648.5 321.1 L646.6 322.5 L645.3 323.9 L644.3 325.6 L642.6 326.7 L641.6 328.3 L640.3 330.3 L638.3 331.6 L638 333.3 L637.1 334.8 L637.4 336.6 L635 336.3 L632.8 337.1 L630.4 337.2 L628.3 338.3 L626.4 339.6 L625.3 341.7 L623.3 343 L621.6 342.3 L620.1 341.2 L618 341.4 L616.6 340 L615.2 338.5 L613.6 337.4 L611.3 337.4 L610 335.8 L609.6 333.9 L609.3 332 L608.8 330.2 L608.3 328.3 L606.4 327 L605.9 324.6 L604.1 323.3 L602.2 322.5 L600.4 321.6 L599.1 320 L597.4 319.7 L595.8 319.9 L594.1 320 L592.3 321.4 L590.2 322.2 L588.3 323.3 L586.3 323.9 L584.3 324.1 L582.2 323.1 L580.3 324.5 L578.3 324.1 L576.2 324.4 L574.1 323.9 L572.1 325.4 L570 325 L568.6 323.6 L568 321.6 L567.1 319.8 L565.8 318.3 L564.8 316.1 L563.5 314.1 L561.7 312.5 L559.8 311.6 L558.4 310.2 L557.4 308.3 L556.5 306.5 L554.8 305.2 L554.7 303 L553.2 301.6 L551.4 300.7 L549.4 300.6 L547.4 300.8 L548.9 299 L549.1 296.6 L548.7 294.8 L549.3 293.2 L549.9 291.6 L551.5 289.8 L552.8 287.9 L554 285.8 L554 283.7 L553.4 281.8 L552.4 280 L551.7 278.1 L551.3 276.1 L550.7 274.1 L551.3 272.1 L552.8 270.4 L553.2 268.3 L553.7 266.1 L554.3 263.9 L555.9 262.2 L556.5 260 L557.3 257.9 L559.1 256.6 L559 254.3 L557.6 252.2 L557.4 249.9 L558.5 248.1 L559.4 246.2 L559.9 244.1 L562.1 243.5 L564.2 242.5 L566.6 242.1 L568.5 240.6 L570.7 239.9 L571.8 237.8 L572.7 235.6 L573.2 233.3 L573.8 231.1 L572.7 228.8 L573.2 226.6 L575.2 225.4 L576.1 223.2 L577.4 221.4 L579.1 219.9 L578.6 217.8 L578.8 215.8 L578.8 213.7 L579.1 211.6 L578.2 210.1 L577.4 208.4 L577.4 206.6Z" fill="#d3f114" stroke="#d3f114" stroke-width="2" stroke-linejoin="round"/>
<path d="M547.4 300.8 L549.4 300.6 L551.4 300.7 L553.2 301.6 L554.7 303 L554.8 305.2 L556.5 306.5 L557.4 308.3 L558.4 310.2 L559.8 311.6 L561.7 312.5 L563.5 314.1 L564.8 316.1 L565.8 318.3 L567.1 319.8 L568 321.6 L568.6 323.6 L570 325 L572.1 325.4 L574.1 323.9 L576.2 324.4 L578.3 324.1 L580.3 324.5 L582.2 323.1 L584.3 324.1 L586.3 323.9 L588.3 323.3 L590.2 322.2 L592.3 321.4 L594.1 320 L595.8 319.9 L597.4 319.7 L599.1 320 L600.4 321.6 L602.2 322.5 L604.1 323.3 L605.9 324.6 L606.4 327 L608.3 328.3 L608.8 330.2 L609.3 332 L609.6 333.9 L610 335.8 L611.3 337.4 L613.6 337.4 L615.2 338.5 L616.6 340 L618 341.4 L620.1 341.2 L621.6 342.3 L623.3 343 L625.3 341.7 L626.4 339.6 L628.3 338.3 L630.4 337.2 L632.8 337.1 L635 336.3 L637.4 336.6 L637.1 334.8 L638 333.3 L638.3 331.6 L640.3 330.3 L641.6 328.3 L642.6 326.7 L644.3 325.6 L645.3 323.9 L646.6 322.5 L648.5 321.1 L650.8 320.2 L652.4 318.3 L654 319.7 L655.8 320.8 L658.1 320.4 L660.3 320.8 L662.6 321.3 L664.9 320.8 L667.1 321 L669.4 320.6 L671.6 321.6 L673.7 322.6 L675.8 323.7 L678 324.3 L679.9 325.8 L681.3 327.2 L683.4 327.5 L684.8 328.9 L686.3 330.2 L688.2 330.8 L688.7 332.7 L688.9 334.7 L689.7 336.5 L690.7 338.3 L692.5 339.9 L693.7 342 L694.9 344.1 L693.6 345.3 L692.4 346.6 L690.3 347.1 L688.2 347.4 L688.2 349.6 L687.4 351.6 L689.1 351.4 L690.7 352.1 L692.4 352.4 L691.2 353.8 L690.2 355.3 L689 356.7 L688.2 358.3 L687 360 L686.2 362 L684.8 363.5 L683.2 364.9 L681.6 366.3 L680.8 368.3 L679.4 369.9 L678.2 371.6 L676.4 372.7 L674.7 373.8 L673.5 375.7 L671.6 376.6 L670.8 378.3 L669.9 379.9 L669.7 382.1 L669.3 384.4 L669.9 386.6 L668.8 388.5 L666.8 389.6 L665.6 391.3 L664.6 393.2 L663.3 394.9 L662 396.4 L660.3 397.6 L659.6 399.6 L658.3 401.1 L658.6 403.1 L658.3 405 L657.3 406.8 L657.7 409 L656.6 410.8 L655 412.6 L653.8 414.7 L652.4 416.6 L650.3 416.6 L648.4 417.1 L646.6 418.3 L644.7 417.9 L643.3 416.5 L641.8 415.3 L639.9 415 L638.5 416.4 L636.4 416.3 L634.9 417.5 L633.3 416.2 L631.9 414.7 L629.9 414.1 L628.7 412.2 L626.5 411.3 L625.5 409.2 L624.1 407.5 L621.8 407.4 L619.6 406.9 L617.5 405.8 L615.5 405.4 L613.6 406.2 L611.6 405.8 L610.9 407.7 L609.3 409.3 L609.3 411.5 L608.3 413.3 L608.3 415.4 L606.6 417 L606.2 419 L605.8 421 L605.4 423 L605 425 L603.8 423.4 L603.2 421.3 L601.6 420 L599.5 419.7 L597.5 419.1 L595.2 419.3 L593.2 420.7 L590.8 420.8 L589 421.9 L587.8 423.6 L586.6 425.3 L585 426.6 L582.8 426.7 L581 425.1 L578.7 426 L576.7 425 L574.9 424.4 L573.7 422.9 L572.5 421.5 L570.8 420.8 L571.3 418.7 L572.3 416.8 L573.3 415 L573 413 L572.7 411.1 L573.3 409.1 L571.5 408.5 L569.8 407.7 L568.3 406.6 L567 404.8 L564.9 404.1 L563.6 402.2 L562.5 400.3 L561.5 398.3 L560.8 396.8 L559.7 395.6 L559 394.1 L557.5 395.4 L556.2 396.8 L554.9 398.3 L553.1 397.8 L551.3 397.1 L549.9 395.8 L547.7 395.2 L545.4 396.3 L543.2 395.8 L541.4 395.6 L540.1 394.1 L538.2 394.1 L537 392.2 L536.6 390 L537 388.4 L536.6 386.6 L537.4 385 L537.5 382.7 L537.5 380.5 L536.6 378.3 L536.4 376 L536.7 373.7 L535.7 371.6 L534.8 369.4 L534.4 367.1 L533.2 365 L532.6 363 L531 361.7 L529.9 360 L530.8 358.5 L531.7 356.9 L531.6 355 L530.3 353.6 L529.7 351.8 L529.1 350 L529.4 347.6 L531 345.6 L531.6 343.3 L531 341 L530.5 338.7 L529.1 336.7 L531.2 335.9 L533.2 334.9 L533.5 332.7 L534 330.5 L534.1 328.3 L536 326.7 L536.9 324.4 L538.2 322.4 L537.7 320.4 L536.8 318.6 L536.6 316.6 L535.3 315.1 L533.8 313.8 L532.4 312.4 L532.9 310.4 L533.2 308.3 L533.7 306.5 L534.6 304.8 L535.7 303.3 L537.8 302.5 L539.9 301.6 L541.7 300.8 L543.7 301.5 L545.6 301.6Z" fill="#e9f80c" stroke="#e9f80c" stroke-width="2" stroke-linejoin="round"/>
<path d="M475.8 261.6 L475.7 263.5 L475.8 265.4 L474.6 267.2 L474.6 269.1 L473.3 270.7 L473.2 273 L471.9 274.6 L469.6 275 L467.8 276.5 L465.8 277.6 L463.9 278.8 L461.6 278.7 L459.4 278.9 L457.5 280 L455.7 280.7 L454.4 282.1 L452.6 282.8 L450.8 283.3 L450.8 285.1 L450.7 286.9 L451.6 288.6 L452.7 290.7 L454.8 292 L455.8 294.1 L455.4 296 L454.5 297.9 L453.6 299.6 L452.1 300.9 L450.9 302.4 L449.1 303.3 L449.2 305.5 L450.3 307.6 L450 309.9 L450.9 311.5 L452.5 312.4 L452.4 314.5 L451.4 316.3 L450.8 318.3 L451.2 320.4 L450.4 322.4 L449.6 324.5 L450 326.6 L448.3 328 L447.5 329.9 L445.9 331.4 L445 333.3 L443.3 334.7 L442.5 336.9 L440.8 338.3 L439.5 340.3 L437.8 341.9 L435.8 343.2 L433.9 343.5 L432 343.9 L430.3 345 L428.3 345 L427.2 346.5 L426.5 348.3 L425.8 350 L425 352.2 L424.1 354.4 L423.3 356.6 L422.9 359 L421.5 361 L420.8 363.3 L419.6 365.1 L420.2 367.3 L419.2 369.1 L420.6 370.4 L421.7 372.1 L423.7 372.7 L425 374.1 L426.2 375.7 L427.3 377.3 L429.1 378.3 L430.2 379.8 L430 381.6 L432 381.6 L433.9 381.5 L435.8 380.8 L437.6 380.7 L439.2 379.8 L440.8 379.1 L442.6 380.1 L443.8 381.7 L445 383.3 L446.4 384.7 L446.3 386.8 L447.7 388.2 L448.3 390 L449.7 391.1 L450.9 392.4 L451.6 394.1 L453 395.8 L453.7 397.8 L454.1 399.9 L455.7 401.3 L456.7 403 L457.5 404.9 L459 405.9 L459.9 407.6 L461.6 408.3 L462.9 410.3 L463.6 412.6 L464.1 414.9 L466 414.3 L467.9 414 L469.9 414.1 L470.4 415.3 L471.6 415.8 L473.2 414.9 L474.9 414.1 L476.6 413.3 L478.8 412.5 L481.2 412.7 L483.3 411.6 L485.4 411.5 L487.5 411.5 L489.5 411.7 L491.6 411.6 L493.7 412 L495.7 412.2 L497.8 412.8 L499.9 412.4 L502.1 412.5 L504.4 412.3 L506.6 412.4 L508.1 411.3 L509.1 409.9 L509.9 408.3 L512.2 407.9 L514.5 407.7 L516.6 406.6 L518.5 405.2 L519.9 403.3 L519.9 401.1 L519.1 399.1 L520.2 397.5 L522.3 396.8 L523.2 395 L525.5 394.3 L527.7 393.4 L529.9 392.5 L531.5 391.6 L533.2 390.8 L534.8 390.1 L536.6 390 L537 388.4 L536.6 386.6 L537.4 385 L537.5 382.7 L537.5 380.5 L536.6 378.3 L536.4 376 L536.7 373.7 L535.7 371.6 L534.8 369.4 L534.4 367.1 L533.2 365 L532.6 363 L531 361.7 L529.9 360 L530.8 358.5 L531.7 356.9 L531.6 355 L530.3 353.6 L529.7 351.8 L529.1 350 L529.4 347.6 L531 345.6 L531.6 343.3 L531 341 L530.5 338.7 L529.1 336.7 L531.2 335.9 L533.2 334.9 L533.5 332.7 L534 330.5 L534.1 328.3 L536 326.7 L536.9 324.4 L538.2 322.4 L537.7 320.4 L536.8 318.6 L536.6 316.6 L535.3 315.1 L533.8 313.8 L532.4 312.4 L530.4 312.3 L528.5 312 L526.6 311.6 L524.4 312.6 L522.1 313.2 L519.9 314.1 L518 313.6 L516.1 313.4 L514.1 313.3 L513.6 311.7 L513.5 310 L513.2 308.3 L511.5 307.5 L510.2 306.1 L508.3 305.8 L506.9 305 L505.5 304.1 L504.1 303.3 L501.8 303.4 L499.6 303.7 L497.4 304.1 L495.9 303 L495.3 301.2 L494.1 299.9 L492.8 298.7 L491.7 297.3 L490.8 295.8 L490.1 294.1 L488.4 293.1 L487.4 291.6 L485.9 290.3 L485 288.6 L484 287 L482.4 285.8 L481.9 283.7 L480.9 281.9 L479.9 280 L479.2 278.1 L479 276.1 L479.1 274.1 L478.4 271.9 L477.2 269.8 L476.6 267.5 L476.7 265.5 L475.6 263.6Z" fill="#e4f60e" stroke="#e4f60e" stroke-width="2" stroke-linejoin="round"/>
<path d="M321.6 345.9 L323.3 346.1 L324.9 346.9 L326.6 346.6 L328.7 346.2 L330.9 346.3 L332.8 345.4 L334.9 344.9 L336.5 343.6 L336.9 341.6 L338.4 340.4 L340.2 339.8 L341.6 338.6 L343.2 337.6 L345.5 336.9 L347.6 335.7 L349.9 335.1 L352.1 334.8 L354.2 334.2 L356.2 333.3 L358.2 332.4 L360.5 331.7 L362.5 330.3 L364.9 330.1 L367.2 329.9 L369.3 328.7 L371.6 328.3 L371.9 326.4 L372.9 324.8 L373.8 323.1 L374.9 321.6 L375.9 319.6 L377.7 318.2 L379.2 316.6 L378.8 314.7 L377.6 313.2 L376.6 311.6 L376.7 309.5 L376.9 307.4 L377.8 305.4 L377.6 303.3 L378 301.2 L378 299.2 L377.7 297.1 L378.2 295 L378.8 292.6 L378.2 290.3 L380 290.3 L381.7 290.5 L383.2 291.6 L385.5 292.1 L387.8 292.6 L389.9 293.6 L392.1 293.5 L394.3 292.7 L396.5 292.5 L398.7 291.7 L401.1 291.9 L403.2 290.8 L404.9 289.8 L406.9 289.4 L408.7 288.6 L410.7 288.6 L412.2 288.6 L413.2 289.6 L414 291.5 L414.9 293.3 L416.1 294.8 L416.5 296.7 L417.4 298.3 L419.3 297.5 L421.3 297.4 L423.2 296.6 L425.2 295.3 L427.6 295 L429.8 294.1 L431.8 293.9 L433.5 295 L434.2 297.1 L435 299.3 L434.8 301.6 L436.6 302.3 L438.2 303.3 L439.7 304.6 L441.6 305.2 L443.2 306.3 L444.8 307.5 L446.3 309.1 L448.1 310.4 L450 311.6 L451.1 312.3 L452.5 312.4 L452.4 314.5 L451.4 316.3 L450.8 318.3 L451.2 320.4 L450.4 322.4 L449.6 324.5 L450 326.6 L448.3 328 L447.5 329.9 L445.9 331.4 L445 333.3 L443.3 334.7 L442.5 336.9 L440.8 338.3 L439.5 340.3 L437.8 341.9 L435.8 343.2 L433.9 343.5 L432 343.9 L430.3 345 L428.3 345 L427.2 346.5 L426.5 348.3 L425.8 350 L425 352.2 L424.1 354.4 L423.3 356.6 L422.9 359 L421.5 361 L420.8 363.3 L419.6 365.1 L420.2 367.3 L419.2 369.1 L418.2 369.1 L416.3 370.4 L415.7 372.6 L414.1 374.1 L412.4 372.5 L410.5 373.1 L408.6 372.4 L406.8 372.7 L404.9 372.5 L402.9 373.2 L400.8 373.7 L398.7 373.8 L396.6 374.1 L395.1 375.4 L393 375.3 L391.3 376.2 L389.9 377.5 L388 377.8 L386.1 377.5 L384.3 378.5 L382.4 378.3 L383.6 380 L384.9 381.6 L385.6 383.4 L386.3 385.1 L387.4 386.6 L387.9 388.4 L389.5 389.7 L389.9 391.6 L390.4 393.7 L391.3 395.6 L390.5 398 L391.6 399.9 L392.3 402 L391.4 404.1 L391.1 406.2 L391.6 408.3 L392.3 410 L392.9 411.8 L394.1 413.3 L392.6 414 L391 414.4 L389.9 415.8 L387.7 416.4 L385.5 416.3 L383.3 416.6 L381.1 416.1 L378.8 416.5 L376.6 415.8 L375 416.7 L373.2 417.3 L371.6 418.3 L369.6 417.9 L367.8 417 L365.8 416.6 L363.9 415.7 L361.8 415.2 L359.9 414.1 L358 413 L356 412 L354.1 410.8 L352.5 409 L350.5 407.6 L348.3 406.6 L347.4 404.7 L345.4 403.9 L344.1 402.4 L343.3 400.8 L342.4 399.3 L342.5 397.4 L340.8 395.7 L339.5 393.7 L338.3 391.6 L337.7 389.6 L335.9 388.4 L335 386.6 L334.1 385.3 L333.7 383.6 L332.5 382.5 L332.7 380.5 L334.1 379.1 L335.8 377.7 L336.4 375.4 L338.3 374.1 L337.7 372.3 L335.6 371.8 L335 370 L333.6 368.6 L331.9 367.5 L330.8 365.8 L331.9 364 L332 361.8 L333.3 360 L331.4 359.6 L329.5 360 L327.8 358.7 L325.8 359.1 L324.2 358 L322.2 357.9 L320.8 356.6 L319.8 354.7 L320 352.5 L320.8 350.8 L321.4 349 L322.5 347.5Z" fill="#8ddb26" stroke="#8ddb26" stroke-width="2" stroke-linejoin="round"/>
<path d="M371.6 418.3 L373.2 417.3 L375 416.7 L376.6 415.8 L378.8 416.5 L381.1 416.1 L383.3 416.6 L385.5 416.3 L387.7 416.4 L389.9 415.8 L391 414.4 L392.6 414 L394.1 413.3 L392.9 411.8 L392.3 410 L391.6 408.3 L391.1 406.2 L391.4 404.1 L392.3 402 L391.6 399.9 L390.5 398 L391.3 395.6 L390.4 393.7 L389.9 391.6 L389.5 389.7 L387.9 388.4 L387.4 386.6 L386.3 385.1 L385.6 383.4 L384.9 381.6 L383.6 380 L382.4 378.3 L384.3 378.5 L386.1 377.5 L388 377.8 L389.9 377.5 L391.3 376.2 L393 375.3 L395.1 375.4 L396.6 374.1 L398.7 373.8 L400.8 373.7 L402.9 373.2 L404.9 372.5 L406.8 372.7 L408.6 372.4 L410.5 373.1 L412.4 372.5 L414.1 374.1 L415.7 372.6 L416.3 370.4 L418.2 369.1 L419.2 369.1 L420.6 370.4 L421.7 372.1 L423.7 372.7 L425 374.1 L426.2 375.7 L427.3 377.3 L429.1 378.3 L430.2 379.8 L430 381.6 L432 381.6 L433.9 381.5 L435.8 380.8 L437.6 380.7 L439.2 379.8 L440.8 379.1 L442.6 380.1 L443.8 381.7 L445 383.3 L446.4 384.7 L446.3 386.8 L447.7 388.2 L448.3 390 L449.7 391.1 L450.9 392.4 L451.6 394.1 L453 395.8 L453.7 397.8 L454.1 399.9 L455.7 401.3 L456.7 403 L457.5 404.9 L459 405.9 L459.9 407.6 L461.6 408.3 L462.9 410.3 L463.6 412.6 L464.1 414.9 L466 414.3 L467.9 414 L469.9 414.1 L470.4 415.3 L471.6 415.8 L473.2 414.9 L474.9 414.1 L476.6 413.3 L478.8 412.5 L481.2 412.7 L483.3 411.6 L485.4 411.5 L487.5 411.5 L489.5 411.7 L491.6 411.6 L493.7 412 L495.7 412.2 L497.8 412.8 L499.9 412.4 L502.1 412.5 L504.4 412.3 L506.6 412.4 L506.5 412.5 L507.5 413.8 L507.8 415.5 L509 416.7 L510.5 418.3 L512.2 419.6 L514 420.8 L514.7 422.7 L516.3 424 L516.9 426 L518.2 427.5 L518.8 429.3 L518.6 431.3 L518.5 433.2 L519 435 L518.5 437.3 L517 439.3 L516.5 441.6 L515.5 443.4 L513.6 444.2 L512.4 445.8 L511.6 447.8 L511.5 450 L512.3 451.9 L513.6 453.5 L514.9 455 L515.7 456.6 L515.6 458.3 L515.7 460 L515 461.6 L514 463.2 L514 465 L514 466.9 L515 468.4 L515.7 470 L514.1 471.2 L512 471.6 L510.7 473.3 L510.1 475.2 L509.1 476.9 L507.4 478.2 L506.5 479.9 L505.9 481.7 L504.8 483.2 L504 484.9 L503.5 486.9 L502 488.3 L500.7 489.9 L499.3 491.6 L498.5 493.6 L498.2 495.8 L496.3 496.5 L494.4 497 L492.4 496.6 L490.4 497.2 L488.3 497.1 L486.5 498.3 L484.9 496.9 L482.9 495.9 L481.6 494.1 L480 493.5 L478.2 493.2 L476.6 492.4 L475.2 493.3 L474 494.4 L472.4 494.9 L472.1 497.1 L472.3 499.4 L471.6 501.6 L470.8 503.5 L469.8 505.2 L468.2 506.6 L466.6 508.4 L464.7 509.8 L463.2 511.6 L461.6 512.5 L460.3 514 L460 515.9 L459.1 517.5 L457.8 519.2 L455.5 519.2 L454.1 520.8 L454.4 522.7 L455.6 524.2 L456.6 525.8 L456 527.4 L455.7 529.2 L453.6 529.2 L451.8 530 L449.9 530.8 L449.8 533 L450.7 535 L450.5 537.3 L449.5 539.4 L449.1 541.6 L447.5 542.5 L446.7 544.3 L444.9 545 L443.9 546.8 L442.6 548.2 L440.7 549.1 L439.7 547.9 L438.3 547.5 L436.1 547.6 L433.8 547.5 L431.6 547.5 L429.4 547.6 L427.3 548.3 L425.4 549.4 L423.3 550 L421.2 551 L418.8 550.9 L416.6 551.6 L415.2 552.8 L414.9 554.8 L413.3 555.8 L411.3 554.9 L409.9 553.3 L408.1 554.4 L405.9 553.9 L404.1 555 L403.3 556.5 L403.3 558.3 L402.9 560.5 L402 562.7 L402.4 565 L401.7 567 L400.8 568.9 L399.9 570.8 L401.1 572.3 L401.6 574.1 L403.4 575.1 L405.3 575.7 L407.4 575.8 L408.3 577.1 L408.7 578.8 L409.9 579.9 L411 581.4 L411 583.5 L412.4 584.9 L412.1 586.9 L411.7 588.8 L411.6 590.8 L410.3 592.6 L409.1 594.5 L408.3 596.6 L407.2 598 L405.9 599.3 L404.9 600.8 L403.6 602.8 L402.5 604.9 L400.8 606.6 L399.6 608.1 L399 609.9 L398.3 611.6 L397.9 613.5 L397.2 615.4 L397.4 617.4 L395.7 617.2 L394.2 618.3 L392.5 618.3 L390.9 619 L389.2 619.3 L387.5 619.1 L386.5 617.3 L384.6 616.4 L383.3 614.9 L381.9 613.6 L380.7 612 L379.1 610.8 L377.4 610.6 L375.7 610.6 L374.1 609.9 L372.1 609.6 L370.3 608.8 L368.3 608.6 L366.6 607.4 L365.1 606.2 L363.4 605.5 L361.4 605.4 L360 604.1 L358 603.5 L356.4 602.3 L355 600.8 L353.6 602.4 L351.7 603.3 L350.8 601.7 L349.2 600.8 L350.6 598.9 L350.8 596.6 L351.2 594.9 L350.8 593.2 L351.7 591.6 L349.8 590.8 L347.6 590.9 L345.8 589.9 L343.7 590 L342 588.7 L340 588.3 L338.3 586.9 L337.5 584.9 L338.9 583.8 L340 582.4 L341.8 581.2 L343.6 580 L345 578.3 L346.2 576.7 L347.4 575.1 L347.9 573.1 L349.2 571.6 L350.3 569.6 L350.4 567.3 L352.2 565.6 L352.5 563.3 L352.4 560.8 L353.5 558.6 L353.4 556.1 L354.4 553.9 L355 551.6 L355.9 549.4 L355.8 546.9 L356.2 544.6 L357 542.3 L357.5 540 L358.6 538.4 L359 536.4 L359.9 534.6 L360.2 532.6 L361.6 531.1 L361.8 529 L361.5 526.8 L362.4 524.7 L361.5 522.5 L362.7 520.5 L362.5 518.3 L362.9 516 L363.1 513.6 L364.1 512.6 L365.3 511.9 L366.2 510.8 L367.6 510.4 L369.7 510.1 L371.5 511.1 L371.3 509.5 L371 507.9 L369 506.6 L367.3 504.9 L365.4 505.4 L363.5 505.6 L364 503.4 L363.4 501 L363.8 498.8 L364.6 496.6 L364.5 494.6 L365.7 492.7 L365.4 490.6 L365.4 488.6 L365.8 486.6 L365.5 484.5 L366.9 482.7 L366.6 480.6 L367.2 478.7 L367 476.6 L366.8 474.6 L367 472.6 L368.1 470.7 L367.8 468.6 L368 466.6 L367.8 464.6 L368.6 462.8 L369 461 L370 460.4 L371 459.6 L372.2 461.2 L373.2 462.9 L374.6 464.3 L375.5 466.4 L376.3 468.5 L378.1 470.1 L378.8 472.3 L379.2 474.5 L380.8 476.2 L381.4 478.3 L382.3 480.3 L383.6 482 L384 484.2 L384.6 486.2 L386 487.9 L387.1 489.3 L388.3 490.8 L390 491.6 L389.1 490 L389.2 488.1 L388.7 486.3 L388.3 484.6 L387.9 482.5 L387.1 480.5 L387 478.3 L386 476.3 L385 474.2 L384.3 471.9 L383 469.9 L382.6 467.5 L381.6 465.7 L380.3 464 L379 462.4 L378.4 460.3 L377.3 458.6 L375.6 456.8 L373.5 455.7 L371.4 454.6 L369.6 453 L368.7 451.3 L367.3 450.1 L365.8 449.1 L367.3 447.6 L368.3 445.8 L369.5 444.5 L370.7 443.2 L371.6 441.6 L371.6 439.4 L372.8 437.5 L372.2 435.2 L373.3 433.3 L372.1 431.3 L372.2 428.9 L371.6 426.7 L370 425.2 L369.1 423.3 L370.3 421.8 L371.3 420.3Z" fill="#55c533" stroke="#55c533" stroke-width="2" stroke-linejoin="round"/>
<path d="M536.6 390 L534.8 390.1 L533.2 390.8 L531.5 391.6 L529.9 392.5 L527.7 393.4 L525.5 394.3 L523.2 395 L522.3 396.8 L520.2 397.5 L519.1 399.1 L519.9 401.1 L519.9 403.3 L518.5 405.2 L516.6 406.6 L514.5 407.7 L512.2 407.9 L509.9 408.3 L509.1 409.9 L508.1 411.3 L506.6 412.4 L506.5 412.5 L507.5 413.8 L507.8 415.5 L509 416.7 L510.5 418.3 L512.2 419.6 L514 420.8 L514.7 422.7 L516.3 424 L516.9 426 L518.2 427.5 L518.8 429.3 L518.6 431.3 L518.5 433.2 L519 435 L518.5 437.3 L517 439.3 L516.5 441.6 L515.5 443.4 L513.6 444.2 L512.4 445.8 L511.6 447.8 L511.5 450 L512.3 451.9 L513.6 453.5 L514.9 455 L515.7 456.6 L515.6 458.3 L515.7 460 L515 461.6 L514 463.2 L514 465 L514 466.9 L515 468.4 L515.7 470 L514.1 471.2 L512 471.6 L510.7 473.3 L510.1 475.2 L509.1 476.9 L507.4 478.2 L506.5 479.9 L505.9 481.7 L504.8 483.2 L504 484.9 L503.5 486.9 L502 488.3 L500.7 489.9 L499.3 491.6 L498.5 493.6 L498.2 495.8 L499.3 497.5 L499.1 499.5 L499.6 501.4 L499.9 503.3 L500.8 505.4 L500.9 507.7 L501.5 509.9 L502.2 511.5 L502.3 513.3 L503.2 514.9 L505.4 514.4 L507.7 514.4 L509.9 514.1 L511.6 513.9 L513.1 513 L514.9 513.3 L515.9 511.7 L516.3 509.8 L517.9 508.5 L518.2 506.6 L519.7 505.3 L520.9 503.9 L522.3 502.5 L523.2 500.8 L525.1 499.7 L527.3 499.9 L528.9 501 L529.2 503 L530 504.6 L531.5 505.8 L532.6 507.8 L533.1 510.2 L535.1 511.8 L535.7 514.1 L536.3 512.2 L536.5 510.2 L537.4 508.4 L538.2 506.6 L539.2 504.7 L541.4 503.6 L542.3 501.6 L544.1 500.8 L545.4 499.3 L547 498.3 L549.1 498.2 L551.2 498.7 L552.6 500.2 L553.7 501.8 L555.4 503 L556.2 504.9 L557.4 503.5 L558.5 502 L560 500.8 L561.5 501.9 L563.3 502.5 L565.2 503.6 L567 504.8 L568.3 506.6 L569.3 508.3 L570.7 509.9 L571.7 511.6 L571.9 514 L573.9 515.6 L574.1 517.9 L575 520 L575.5 521.8 L577.1 523.1 L577.5 524.9 L578.3 526.6 L579.4 528.1 L579.2 530 L580 531.6 L582.1 531.6 L583.8 533.1 L585.8 533.3 L587.9 533.7 L590 534.1 L591.4 532.6 L593.3 531.6 L594.7 532.2 L595.8 533.3 L598.1 533 L600 531.6 L601.9 531.6 L603.5 532.4 L605 533.3 L606.8 533.5 L608.3 532.5 L610.3 533.8 L611.6 535.8 L613.3 534.6 L615.4 534.7 L617.1 533.5 L619.1 533.3 L621.1 532.7 L623 532.8 L625 533.3 L626.8 534.8 L628.3 536.6 L630.4 536.7 L632.3 537.2 L634.1 538.3 L635.9 538.9 L637.2 540.1 L638.3 541.6 L639.8 540.7 L640.6 538.9 L642.4 538.3 L643.8 539.7 L645.8 540 L646.4 538.4 L646.8 536.7 L646.6 535 L646.2 532.7 L644.9 530.8 L643 530 L641.1 529.5 L639.1 529.1 L637.9 527.8 L636.7 526.5 L635.8 525 L636.1 523.1 L637.4 521.6 L639.4 521.8 L641.4 521.8 L643.3 520.8 L642.4 519.2 L642 517.6 L642.4 515.8 L643.4 514 L644.9 512.5 L647.1 511.7 L648.6 509.8 L650.8 509.1 L651 506.8 L652.4 505 L654 503.3 L656.3 502.8 L658.3 501.7 L660 500.9 L661.5 499.8 L663.3 499.2 L665.5 498.9 L667.5 498.3 L669.3 496.7 L671.6 496.7 L670.8 495.1 L671.2 493.3 L670.7 491.7 L669.6 490.3 L667.6 489.8 L666.6 488.3 L666.6 486.2 L667.4 484.2 L669.3 483.7 L671.3 484.1 L673.2 484.2 L675 484.4 L676.5 485.2 L678.2 485.8 L679.7 484.7 L681.5 484 L683.2 483.3 L685 483.2 L686.8 482.8 L688.2 481.6 L689.6 480.2 L691.7 480.2 L693.4 479.4 L694.9 478.3 L696.6 477.1 L698.3 475.8 L700.1 474.8 L701.6 473.3 L701.5 471.3 L701.9 469.4 L702.6 467.6 L703.2 465.8 L702.2 464.1 L700.4 462.9 L699.4 461.1 L698.1 459.6 L696.6 458.3 L696.2 455.9 L694.9 453.9 L694.1 451.6 L692.2 450.8 L690.9 449.2 L689.1 448.3 L688.3 446.4 L689.2 444.3 L688.2 442.5 L689.8 441.6 L691.4 440.7 L692.4 439.1 L693.9 437.7 L695.1 436.1 L695.7 434.1 L694.4 432.1 L694.1 429.7 L692 428.2 L691.6 425.8 L689.5 424.9 L688 423.3 L686.6 421.6 L686.9 419.4 L686.7 417.1 L687.4 415 L686.9 413 L684.8 412.1 L684.3 410.1 L683.2 408.6 L681 409.1 L678.8 409 L676.5 409.3 L674.4 410.2 L672 409.1 L669.9 410 L668.3 411.1 L666.6 411.9 L665.3 413.3 L665.3 415.3 L664.4 417.2 L664.6 419.1 L664.4 421.1 L662.8 422.3 L661.6 423.9 L659.9 425 L657.6 424.6 L655.3 425.3 L654 424.7 L653.8 423.3 L655.3 422.4 L656.8 421.7 L658.3 420.8 L658.4 419.1 L658.6 417.4 L657.9 415.8 L657.2 414.2 L656.7 412.6 L656.6 410.8 L655 412.6 L653.8 414.7 L652.4 416.6 L650.3 416.6 L648.4 417.1 L646.6 418.3 L644.7 417.9 L643.3 416.5 L641.8 415.3 L639.9 415 L638.5 416.4 L636.4 416.3 L634.9 417.5 L633.3 416.2 L631.9 414.7 L629.9 414.1 L628.7 412.2 L626.5 411.3 L625.5 409.2 L624.1 407.5 L621.8 407.4 L619.6 406.9 L617.5 405.8 L615.5 405.4 L613.6 406.2 L611.6 405.8 L610.9 407.7 L609.3 409.3 L609.3 411.5 L608.3 413.3 L608.3 415.4 L606.6 417 L606.2 419 L605.8 421 L605.4 423 L605 425 L603.8 423.4 L603.2 421.3 L601.6 420 L599.5 419.7 L597.5 419.1 L595.2 419.3 L593.2 420.7 L590.8 420.8 L589 421.9 L587.8 423.6 L586.6 425.3 L585 426.6 L582.8 426.7 L581 425.1 L578.7 426 L576.7 425 L574.9 424.4 L573.7 422.9 L572.5 421.5 L570.8 420.8 L571.3 418.7 L572.3 416.8 L573.3 415 L573 413 L572.7 411.1 L573.3 409.1 L571.5 408.5 L569.8 407.7 L568.3 406.6 L567 404.8 L564.9 404.1 L563.6 402.2 L562.5 400.3 L561.5 398.3 L560.8 396.8 L559.7 395.6 L559 394.1 L557.5 395.4 L556.2 396.8 L554.9 398.3 L553.1 397.8 L551.3 397.1 L549.9 395.8 L547.7 395.2 L545.4 396.3 L543.2 395.8 L541.4 395.6 L540.1 394.1 L538.2 394.1 L537 392.2Z" fill="#09b24c" stroke="#09b24c" stroke-width="2" stroke-linejoin="round"/>
<path d="M397.4 617.4 L397.2 615.4 L397.9 613.5 L398.3 611.6 L399 609.9 L399.6 608.1 L400.8 606.6 L402.5 604.9 L403.6 602.8 L404.9 600.8 L405.9 599.3 L407.2 598 L408.3 596.6 L409.1 594.5 L410.3 592.6 L411.6 590.8 L411.7 588.8 L412.1 586.9 L412.4 584.9 L411 583.5 L411 581.4 L409.9 579.9 L408.7 578.8 L408.3 577.1 L407.4 575.8 L405.3 575.7 L403.4 575.1 L401.6 574.1 L401.1 572.3 L399.9 570.8 L400.8 568.9 L401.7 567 L402.4 565 L402 562.7 L402.9 560.5 L403.3 558.3 L403.3 556.5 L404.1 555 L405.9 553.9 L408.1 554.4 L409.9 553.3 L411.3 554.9 L413.3 555.8 L414.9 554.8 L415.2 552.8 L416.6 551.6 L418.8 550.9 L421.2 551 L423.3 550 L425.4 549.4 L427.3 548.3 L429.4 547.6 L431.6 547.5 L433.8 547.5 L436.1 547.6 L438.3 547.5 L439.7 547.9 L440.7 549.1 L442.6 548.2 L443.9 546.8 L444.9 545 L446.7 544.3 L447.5 542.5 L449.1 541.6 L449.5 539.4 L450.5 537.3 L450.7 535 L449.8 533 L449.9 530.8 L451.8 530 L453.6 529.2 L455.7 529.2 L456 527.4 L456.6 525.8 L455.6 524.2 L454.4 522.7 L454.1 520.8 L455.5 519.2 L457.8 519.2 L459.1 517.5 L460 515.9 L460.3 514 L461.6 512.5 L463.2 511.6 L464.7 509.8 L466.6 508.4 L468.2 506.6 L469.8 505.2 L470.8 503.5 L471.6 501.6 L472.3 499.4 L472.1 497.1 L472.4 494.9 L474 494.4 L475.2 493.3 L476.6 492.4 L478.2 493.2 L480 493.5 L481.6 494.1 L482.9 495.9 L484.9 496.9 L486.5 498.3 L488.3 497.1 L490.4 497.2 L492.4 496.6 L494.4 497 L496.3 496.5 L498.2 495.8 L499.3 497.5 L499.1 499.5 L499.6 501.4 L499.9 503.3 L500.8 505.4 L500.9 507.7 L501.5 509.9 L502.2 511.5 L502.3 513.3 L503.2 514.9 L505.4 514.4 L507.7 514.4 L509.9 514.1 L511.6 513.9 L513.1 513 L514.9 513.3 L515.9 511.7 L516.3 509.8 L517.9 508.5 L518.2 506.6 L519.7 505.3 L520.9 503.9 L522.3 502.5 L523.2 500.8 L525.1 499.7 L527.3 499.9 L528.9 501 L529.2 503 L530 504.6 L531.5 505.8 L532.6 507.8 L533.1 510.2 L535.1 511.8 L535.7 514.1 L536.3 512.2 L536.5 510.2 L537.4 508.4 L538.2 506.6 L539.2 504.7 L541.4 503.6 L542.3 501.6 L544.1 500.8 L545.4 499.3 L547 498.3 L549.1 498.2 L551.2 498.7 L552.6 500.2 L553.7 501.8 L555.4 503 L556.2 504.9 L557.4 503.5 L558.5 502 L560 500.8 L561.5 501.9 L563.3 502.5 L565.2 503.6 L567 504.8 L568.3 506.6 L569.3 508.3 L570.7 509.9 L571.7 511.6 L571.9 514 L573.9 515.6 L574.1 517.9 L575 520 L575.5 521.8 L577.1 523.1 L577.5 524.9 L578.3 526.6 L579.4 528.1 L579.2 530 L580 531.6 L582.1 531.6 L583.8 533.1 L585.8 533.3 L587.9 533.7 L590 534.1 L591.4 532.6 L593.3 531.6 L594.7 532.2 L595.8 533.3 L598.1 533 L600 531.6 L601.9 531.6 L603.5 532.4 L605 533.3 L605.3 535.6 L605.5 537.9 L606.6 540 L607.1 542.2 L608.7 543.9 L610.1 545.7 L611.1 547.7 L611.6 549.9 L610.7 551.9 L609 553.4 L607.5 554.9 L607 556.7 L605.3 558 L604.4 559.6 L604.1 561.6 L603.1 563.8 L601.4 565.6 L600 567.5 L598.9 569.1 L598.4 571.1 L596.6 572.3 L595.8 574.1 L594.3 575.9 L592.3 577.3 L590.7 579.1 L589.1 580.8 L589.1 581.3 L587.4 581.5 L585.7 581.4 L584.1 580.8 L583.7 579.1 L582.4 578 L580.3 577.6 L578.2 577.5 L576.7 578.7 L574.7 578.8 L573.2 580 L571.6 581.3 L569.9 582.5 L567.9 583.2 L566.6 585 L565.1 586.4 L563.6 588 L561.2 588.2 L559.9 590 L558.4 591.8 L556.6 593.3 L554.3 593.8 L552.1 594.4 L549.9 595 L548.1 596.5 L546.3 598.1 L544.9 600 L544 601.8 L542.3 603 L541.6 605 L540.9 607.2 L540.2 609.4 L539.6 611.6 L538.8 613.6 L539.7 615.6 L538.6 617.6 L539.4 619.6 L539.1 621.6 L539.3 623.7 L539.6 625.7 L539.7 627.8 L539.9 629.9 L539.9 632.3 L541.3 634.3 L541.6 636.6 L543 637.7 L543.7 639.1 L544.1 640.8 L541.8 641.1 L539.7 639.6 L537.4 639.9 L535.6 640.7 L533.8 641.3 L531.7 640.7 L529.9 641.6 L528 642.6 L526.2 643.8 L524.1 644.1 L523.1 645.3 L522.4 646.6 L520.8 647.3 L519.2 647.8 L517.4 647.4 L515.4 646.5 L513.3 645.8 L511.7 644.9 L510.2 643.7 L508.3 643.3 L506.1 643.4 L503.8 644 L501.6 643.3 L500.6 644.9 L498.6 645.1 L497.5 646.6 L495.7 646.7 L494.1 645.8 L493.2 643.8 L492.1 642 L491.6 639.9 L489.6 638.9 L487.4 639.2 L485.4 638.6 L483.3 638.3 L484.2 636.6 L485 634.9 L483.9 633.1 L482.5 631.6 L480.6 631.1 L478.8 630.5 L476.8 630.4 L475 629.9 L472.9 630.8 L470.8 631.6 L469.9 629.6 L467.7 628.5 L466.6 626.6 L464.4 626.5 L462.3 625.5 L460 625.8 L457.9 624.5 L456.7 622.4 L454.8 621.2 L452.5 621.1 L450.5 620.2 L448.3 619.9 L446.3 618.9 L444.1 618.5 L441.9 617.8 L440 616.6 L439.1 617.4 L438.9 619.6 L438.7 621.9 L438.3 624.1 L436.1 623.7 L434.1 625 L431.9 624.1 L429.9 624.9 L427.7 625.2 L425.6 626 L423.3 625.7 L421 625.4 L418.8 624.8 L416.6 624.1 L414.2 623.6 L412 624.5 L409.7 625.2 L407.4 624.9 L405.3 623.6 L404 621.6 L402.4 619.9 L400.5 619.6 L399.4 617.6Z" fill="#5bc833" stroke="#5bc833" stroke-width="2" stroke-linejoin="round"/>
<path d="M589.1 580.8 L590.7 579.1 L592.3 577.3 L594.3 575.9 L595.8 574.1 L596.6 572.3 L598.4 571.1 L598.9 569.1 L600 567.5 L601.4 565.6 L603.1 563.8 L604.1 561.6 L604.4 559.6 L605.3 558 L607 556.7 L607.5 554.9 L609 553.4 L610.7 551.9 L611.6 549.9 L611.1 547.7 L610.1 545.7 L608.7 543.9 L607.1 542.2 L606.6 540 L605.5 537.9 L605.3 535.6 L605 533.3 L606.8 533.5 L608.3 532.5 L610.3 533.8 L611.6 535.8 L613.3 534.6 L615.4 534.7 L617.1 533.5 L619.1 533.3 L621.1 532.7 L623 532.8 L625 533.3 L626.8 534.8 L628.3 536.6 L630.4 536.7 L632.3 537.2 L634.1 538.3 L635.9 538.9 L637.2 540.1 L638.3 541.6 L639.8 540.7 L640.6 538.9 L642.4 538.3 L643.8 539.7 L645.8 540 L646.4 538.4 L646.8 536.7 L646.6 535 L646.2 532.7 L644.9 530.8 L643 530 L641.1 529.5 L639.1 529.1 L637.9 527.8 L636.7 526.5 L635.8 525 L636.1 523.1 L637.4 521.6 L639.4 521.8 L641.4 521.8 L643.3 520.8 L642.4 519.2 L642 517.6 L642.4 515.8 L643.4 514 L644.9 512.5 L647.1 511.7 L648.6 509.8 L650.8 509.1 L651 506.8 L652.4 505 L654 503.3 L656.3 502.8 L658.3 501.7 L660 500.9 L661.5 499.8 L663.3 499.2 L665.5 498.9 L667.5 498.3 L669.3 496.7 L671.6 496.7 L670.8 495.1 L671.2 493.3 L670.7 491.7 L669.6 490.3 L667.6 489.8 L666.6 488.3 L666.6 486.2 L667.4 484.2 L669.3 483.7 L671.3 484.1 L673.2 484.2 L675 484.4 L676.5 485.2 L678.2 485.8 L679.7 484.7 L681.5 484 L683.2 483.3 L684.3 485 L685.3 486.8 L686.6 488.3 L688 489.7 L688.6 491.5 L689.1 493.3 L690.1 494.9 L692.3 495 L693.2 496.7 L695.1 497.3 L697 498.3 L699.1 498.3 L699.4 500.3 L700.8 501.9 L701 503.9 L701.6 505.8 L699.5 507.1 L698.2 509.1 L696.8 511 L696.6 513.3 L695.4 514.6 L694.1 515.8 L695.6 517.3 L696.6 519.1 L695.8 521.1 L695.7 523.3 L697 525.1 L699 526.2 L699.9 528.3 L701.3 529.5 L702.3 530.9 L703.2 532.5 L705.3 533 L707.3 534.2 L709.4 534.8 L711.6 535 L713.9 535.5 L716 536.7 L718.2 537.5 L720.2 537.1 L722 536.2 L724 535.8 L725.9 534.5 L728.2 534.1 L728.9 535.8 L730.5 537.1 L730.7 539.1 L730.2 541 L728.8 542.4 L728.2 544.2 L727 546.3 L725.9 548.4 L724 550 L722.6 551.4 L722.4 553.3 L723 554.8 L724.4 555.9 L724.9 557.5 L723.4 558.8 L721.2 559 L719.5 560.1 L718.2 561.7 L716.7 562.9 L714.8 562.6 L713.2 563.3 L711.5 564.9 L709.9 566.6 L709.7 569 L708.2 570.8 L706.4 571.1 L704.9 571.9 L703.2 572.5 L703 574.6 L702.4 576.6 L700.4 577.6 L698.8 579.4 L696.6 580 L695.3 581.6 L693 581.8 L691.6 583.3 L691.2 585 L689.9 586.4 L689.9 588.3 L691.2 589.7 L691.6 591.6 L690.5 593.1 L688.7 593.7 L687.4 595 L685.2 594.9 L683.2 595.8 L681.7 597.2 L680.2 598.6 L678.2 599.1 L676.5 599.2 L674.9 598.1 L673.2 598.3 L671.4 599.4 L669.9 600.8 L668.2 601.1 L666.6 601.6 L664.4 600.8 L662.2 600.1 L659.9 600 L658.5 601.9 L656.6 603.3 L655.2 601.4 L653.3 600 L651.5 599.5 L650 598.2 L648.3 597.5 L646.6 597.1 L645 596.3 L643.3 595.8 L641.3 596.1 L639.4 595.6 L637.4 595.8 L635.5 594.8 L634.1 593.3 L634.8 591.3 L634.9 589.1 L633 588.7 L631.6 587.5 L629.7 587.4 L628.1 588.1 L626.6 589.1 L624.8 589.4 L623.3 588.1 L621.6 588.3 L620.8 586.2 L619.1 584.6 L617.5 584.3 L615.8 584.1 L615 586 L613.6 587.5 L611.8 588 L610 587.5 L608.1 587.3 L606.2 587.7 L604.3 587.4 L602.5 586.6 L602.5 585 L601.6 583.6 L599.6 583.4 L597.7 583 L595.8 582.5 L593.6 581.8 L591.2 582Z" fill="#5fc932" stroke="#5fc932" stroke-width="2" stroke-linejoin="round"/>
<path d="M484.9 252.5 L486.7 253.2 L488.1 254.4 L489.9 255 L492.1 255.4 L494 254 L496.2 254.7 L498.3 254.1 L500.4 253.9 L502.4 254.8 L504.5 255 L506.6 255 L508.8 255.1 L510.6 256.6 L512.9 256.6 L514.9 257.5 L516.7 258 L518.5 258.7 L519.9 260 L522.1 260.8 L524.4 260.4 L526.6 260.8 L528.7 260 L531.1 260 L533.2 259.1 L535.4 259.4 L537.7 259.7 L539.9 260 L541.1 261.6 L542.7 263 L543.2 265 L544.8 266.7 L546.1 268.8 L548.2 270 L548.7 271.6 L549.9 272.7 L550.7 274.1 L551.3 276.1 L551.7 278.1 L552.4 280 L553.4 281.8 L554 283.7 L554 285.8 L552.8 287.9 L551.5 289.8 L549.9 291.6 L549.3 293.2 L548.7 294.8 L549.1 296.6 L548.9 299 L547.4 300.8 L545.6 301.6 L543.7 301.5 L541.7 300.8 L539.9 301.6 L537.8 302.5 L535.7 303.3 L534.6 304.8 L533.7 306.5 L533.2 308.3 L532.9 310.4 L532.4 312.4 L530.4 312.3 L528.5 312 L526.6 311.6 L524.4 312.6 L522.1 313.2 L519.9 314.1 L518 313.6 L516.1 313.4 L514.1 313.3 L513.6 311.7 L513.5 310 L513.2 308.3 L511.5 307.5 L510.2 306.1 L508.3 305.8 L506.9 305 L505.5 304.1 L504.1 303.3 L501.8 303.4 L499.6 303.7 L497.4 304.1 L495.9 303 L495.3 301.2 L494.1 299.9 L492.8 298.7 L491.7 297.3 L490.8 295.8 L490.1 294.1 L488.4 293.1 L487.4 291.6 L485.9 290.3 L485 288.6 L484 287 L482.4 285.8 L481.9 283.7 L480.9 281.9 L479.9 280 L479.2 278.1 L479 276.1 L479.1 274.1 L478.4 271.9 L477.2 269.8 L476.6 267.5 L476.7 265.5 L475.6 263.6 L475.8 261.6 L477.5 260.5 L478.5 258.9 L479.9 257.5 L481.5 255.7 L483.6 254.5Z" fill="#00b050" stroke="#00b050" stroke-width="2" stroke-linejoin="round"/>
<path d="M804.1 595.8 L806.2 596 L808.3 595.3 L809.1 597.4 L809.7 599.5 L809.9 601.7 L809.5 603.6 L810.6 605.4 L810.2 607.2 L810.2 609.1 L810 610.8 L809.8 612.4 L809.9 614.1 L811.4 615.8 L811.9 618.1 L813.2 620 L813.6 622.1 L813.6 624.2 L815.1 626.1 L814.9 628.3 L814.7 630.5 L816.2 632.4 L815.7 634.6 L816.6 636.6 L816.8 638.5 L816.5 640.4 L817.6 642.2 L817.4 644.1 L817 646.1 L816.7 648 L815.2 649.6 L814.9 651.6 L814 653.8 L813.6 656.2 L812.4 658.3 L812.7 660.4 L812.7 662.5 L812.4 664.6 L811.9 666.6 L811.7 668.7 L811.8 670.8 L811.4 672.8 L811.6 674.9 L811.3 676.9 L809.9 678.3 L809.8 680.1 L810.7 681.6 L809 682.9 L808.2 684.7 L807.4 686.6 L807.5 688.7 L808.3 690.7 L806.4 689.4 L804.1 689.1 L801.9 688.8 L800.2 687.5 L798.3 686.6 L796.3 686 L795.2 684.1 L793.3 683.3 L791.7 682.1 L789.7 681.5 L788.3 679.9 L787.4 678.3 L786.6 676.6 L788.5 675.7 L789.9 674.1 L788.3 673.2 L786.3 672.9 L784.9 671.6 L783.1 670.2 L780.8 669.9 L782 667.8 L784.1 666.6 L784.2 664.8 L783.3 663.3 L785.1 662 L785.8 659.9 L783.6 660 L781.5 660.1 L779.5 661.1 L777.4 661.6 L777.5 659.4 L778.3 657.4 L779.9 655.7 L781.6 654.1 L780.8 652.5 L779.7 651.1 L778.3 649.9 L776.8 648.6 L775.9 646.7 L774.1 645.8 L773.4 643.7 L774.1 641.6 L775.5 640.8 L776.6 639.4 L778.3 639.1 L776.5 638.2 L775.3 636.3 L773.3 635.8 L773.7 634.1 L775.6 633.3 L775.8 631.6 L777.1 630.2 L777.7 628.4 L778.3 626.6 L778.5 624.3 L779.9 622.5 L781.6 621.6 L783.4 621 L784.7 619.4 L786.6 619.1 L788.4 618 L790.2 616.9 L792.4 616.6 L793.9 615.5 L795.1 614.2 L795.8 612.5 L797.8 613.1 L799.9 612.5 L801.5 613.2 L803.3 613.3 L803.7 611.7 L803.2 609.9 L804.1 608.3 L803.8 606.1 L803.9 603.9 L803.3 601.7 L803.9 599.8 L803.2 597.7Z" fill="#fdfe01" stroke="#fdfe01" stroke-width="2" stroke-linejoin="round"/>
<path d="M656.6 410.8 L656.7 412.6 L657.2 414.2 L657.9 415.8 L658.6 417.4 L658.4 419.1 L658.3 420.8 L656.8 421.7 L655.3 422.4 L653.8 423.3 L654 424.7 L655.3 425.3 L657.6 424.6 L659.9 425 L661.6 423.9 L662.8 422.3 L664.4 421.1 L664.6 419.1 L664.4 417.2 L665.3 415.3 L665.3 413.3 L666.6 411.9 L668.3 411.1 L669.9 410 L672 409.1 L674.4 410.2 L676.5 409.3 L678.8 409 L681 409.1 L683.2 408.6 L684.3 410.1 L684.8 412.1 L686.9 413 L687.4 415 L686.7 417.1 L686.9 419.4 L686.6 421.6 L688 423.3 L689.5 424.9 L691.6 425.8 L692 428.2 L694.1 429.7 L694.4 432.1 L695.7 434.1 L695.1 436.1 L693.9 437.7 L692.4 439.1 L691.4 440.7 L689.8 441.6 L688.2 442.5 L689.2 444.3 L688.3 446.4 L689.1 448.3 L690.9 449.2 L692.2 450.8 L694.1 451.6 L694.9 453.9 L696.2 455.9 L696.6 458.3 L698.1 459.6 L699.4 461.1 L700.4 462.9 L702.2 464.1 L703.2 465.8 L702.6 467.6 L701.9 469.4 L701.5 471.3 L701.6 473.3 L700.1 474.8 L698.3 475.8 L696.6 477.1 L694.9 478.3 L693.4 479.4 L691.7 480.2 L689.6 480.2 L688.2 481.6 L686.8 482.8 L685 483.2 L683.2 483.3 M536.6 390 L537 392.2 L538.2 394.1 L540.1 394.1 L541.4 395.6 L543.2 395.8 L545.4 396.3 L547.7 395.2 L549.9 395.8 L551.3 397.1 L553.1 397.8 L554.9 398.3 L556.2 396.8 L557.5 395.4 L559 394.1 L559.7 395.6 L560.8 396.8 L561.5 398.3 L562.5 400.3 L563.6 402.2 L564.9 404.1 L567 404.8 L568.3 406.6 L569.8 407.7 L571.5 408.5 L573.3 409.1 L572.7 411.1 L573 413 L573.3 415 L572.3 416.8 L571.3 418.7 L570.8 420.8 L572.5 421.5 L573.7 422.9 L574.9 424.4 L576.7 425 L578.7 426 L581 425.1 L582.8 426.7 L585 426.6 L586.6 425.3 L587.8 423.6 L589 421.9 L590.8 420.8 L593.2 420.7 L595.2 419.3 L597.5 419.1 L599.5 419.7 L601.6 420 L603.2 421.3 L603.8 423.4 L605 425 L605.4 423 L605.8 421 L606.2 419 L606.6 417 L608.3 415.4 L608.3 413.3 L609.3 411.5 L609.3 409.3 L610.9 407.7 L611.6 405.8 L613.6 406.2 L615.5 405.4 L617.5 405.8 L619.6 406.9 L621.8 407.4 L624.1 407.5 L625.5 409.2 L626.5 411.3 L628.7 412.2 L629.9 414.1 L631.9 414.7 L633.3 416.2 L634.9 417.5 L636.4 416.3 L638.5 416.4 L639.9 415 L641.8 415.3 L643.3 416.5 L644.7 417.9 L646.6 418.3 L648.4 417.1 L650.3 416.6 L652.4 416.6 L653.8 414.7 L655 412.6 L656.6 410.8 M694.9 344.1 L693.6 345.3 L692.4 346.6 L690.3 347.1 L688.2 347.4 L688.2 349.6 L687.4 351.6 L689.1 351.4 L690.7 352.1 L692.4 352.4 L691.2 353.8 L690.2 355.3 L689 356.7 L688.2 358.3 L687 360 L686.2 362 L684.8 363.5 L683.2 364.9 L681.6 366.3 L680.8 368.3 L679.4 369.9 L678.2 371.6 L676.4 372.7 L674.7 373.8 L673.5 375.7 L671.6 376.6 L670.8 378.3 L669.9 379.9 L669.7 382.1 L669.3 384.4 L669.9 386.6 L668.8 388.5 L666.8 389.6 L665.6 391.3 L664.6 393.2 L663.3 394.9 L662 396.4 L660.3 397.6 L659.6 399.6 L658.3 401.1 L658.6 403.1 L658.3 405 L657.3 406.8 L657.7 409 L656.6 410.8 M532.4 312.4 L533.8 313.8 L535.3 315.1 L536.6 316.6 L536.8 318.6 L537.7 320.4 L538.2 322.4 L536.9 324.4 L536 326.7 L534.1 328.3 L534 330.5 L533.5 332.7 L533.2 334.9 L531.2 335.9 L529.1 336.7 L530.5 338.7 L531 341 L531.6 343.3 L531 345.6 L529.4 347.6 L529.1 350 L529.7 351.8 L530.3 353.6 L531.6 355 L531.7 356.9 L530.8 358.5 L529.9 360 L531 361.7 L532.6 363 L533.2 365 L534.4 367.1 L534.8 369.4 L535.7 371.6 L536.7 373.7 L536.4 376 L536.6 378.3 L537.5 380.5 L537.5 382.7 L537.4 385 L536.6 386.6 L537 388.4 L536.6 390 M378.2 290.3 L376 290.1 L373.9 289 L371.6 289.3 L369.8 290.8 L368.2 292.6 L366.7 291.3 L364.9 290.4 L363.2 289.3 L362.4 287.6 L362.9 285.6 L362.5 283.7 L361.6 282 M321.6 345.9 L323.3 346.1 L324.9 346.9 L326.6 346.6 L328.7 346.2 L330.9 346.3 L332.8 345.4 L334.9 344.9 L336.5 343.6 L336.9 341.6 L338.4 340.4 L340.2 339.8 L341.6 338.6 L343.2 337.6 L345.5 336.9 L347.6 335.7 L349.9 335.1 L352.1 334.8 L354.2 334.2 L356.2 333.3 L358.2 332.4 L360.5 331.7 L362.5 330.3 L364.9 330.1 L367.2 329.9 L369.3 328.7 L371.6 328.3 L371.9 326.4 L372.9 324.8 L373.8 323.1 L374.9 321.6 L375.9 319.6 L377.7 318.2 L379.2 316.6 L378.8 314.7 L377.6 313.2 L376.6 311.6 L376.7 309.5 L376.9 307.4 L377.8 305.4 L377.6 303.3 L378 301.2 L378 299.2 L377.7 297.1 L378.2 295 L378.8 292.6 L378.2 290.3 M361.6 282 L359.7 282.2 L357.9 282.4 L356 282.7 L354.1 282 L351.9 281.7 L349.9 282.6 L349.3 280.5 L349.2 278.3 L347.5 280.1 L345.2 280.6 L345.3 283 L344.5 285.2 L344.2 287.5 L344.1 285.7 L343.1 284.1 L342.9 282.3 L340.5 282.4 L338.3 281.6 L336 281.4 L334.2 279.6 L331.9 279.3 L330.2 280.1 L328.5 280.6 L326.6 280.8 L324.6 281.3 L323.1 282.7 L321.6 284.1 L319.3 284.9 L317.4 286.3 L316.3 284.3 L314.2 283 L313.3 280.8 L312.5 278.8 L311.5 276.8 L310.3 275 L308.6 273.6 L307.7 271.7 L308.1 269.6 L307.6 267.6 L306.5 266.3 L304.9 265.5 L303.3 265 L301.1 265.7 L298.9 266.3 L296.6 266.7 L294.6 267 L292.6 267.1 L290.6 267.4 L288.6 267.5 L286.7 268.6 L285 270 L284.5 271.6 L284.3 273.3 L282.2 273.3 L280.3 274 L278.3 274.3 L276.5 274.3 L275.1 275.4 L273.6 276 L272.4 274.5 L271.7 272.6 L270 271.6 L268.8 270.8 L267.3 270.8 L265.9 271.8 L264.6 273 L263.3 274.1 L261 273.7 L258.9 274.9 L256.6 275 L254.6 275.5 L252.6 275.2 L250.7 275.6 L248.7 274.5 L246.7 275 L244.6 275.7 L243.7 278 L242 279.2 L240 280 L239.2 281.7 L238 283.2 L237.5 285 L237.7 286.9 L238.5 288.8 L238.3 290.8 L239.8 291.9 L241.7 291.8 L243.3 292.5 L245.3 291.1 L247.7 290.8 L250 290 L252 291 L254.2 291.7 L255.8 293.3 L256.4 294.5 L256.6 295.8 L254.5 296.2 L252.5 296.1 L250.4 295.9 L248.3 295.8 L247.2 297 L245.6 297.6 L244.2 298.3 L244.7 300.1 L245.8 301.6 L247.7 301.2 L249.6 301.7 L251.4 301 L253.3 301.6 L254.2 302.6 L255 303.6 L252.7 304.1 L250.6 305.3 L248.3 305.8 L246.4 306.6 L244.3 306.4 L242.3 306.2 L240.3 306.3 L238.3 306.6 L239.6 307.6 L240 309.1 L242.4 309.6 L244.7 310.2 L246.7 311.6 L247.7 313.5 L249.2 314.9 L250.2 316.6 L249.9 318.8 L250.6 320.7 L251.7 322.4 L253.7 322.4 L255.5 323.4 L257.5 323.3 L259.2 322.1 L261.3 322.1 L263.2 321.8 L265 320.8 L266.6 321.7 L268.6 322 L270 323.3 L271.5 324.4 L273.3 325.1 L275 325.8 L277.3 326.3 L279.6 327 L281.6 328.3 L283.1 329.6 L285.2 329.4 L286.5 331.1 L288.3 331.6 L290.1 331.6 L291.6 332.4 L292.3 334.1 L293.4 335.6 L295 336.6 L295.8 338.3 L296.4 339.9 L297 341.5 L296.9 343.3 L298.1 342.2 L299.1 340.8 L301 341.6 L303 341.5 L304.9 341.9 L306.2 343.9 L308.3 344.9 L310 345.4 L311.6 345.4 L313.3 344.9 L315.5 344.2 L317.8 345.1 L319.9 344.3 L321.6 345.9 M506.6 412.4 L508.1 411.3 L509.1 409.9 L509.9 408.3 L512.2 407.9 L514.5 407.7 L516.6 406.6 L518.5 405.2 L519.9 403.3 L519.9 401.1 L519.1 399.1 L520.2 397.5 L522.3 396.8 L523.2 395 L525.5 394.3 L527.7 393.4 L529.9 392.5 L531.5 391.6 L533.2 390.8 L534.8 390.1 L536.6 390 M419.2 369.1 L420.6 370.4 L421.7 372.1 L423.7 372.7 L425 374.1 L426.2 375.7 L427.3 377.3 L429.1 378.3 L430.2 379.8 L430 381.6 L432 381.6 L433.9 381.5 L435.8 380.8 L437.6 380.7 L439.2 379.8 L440.8 379.1 L442.6 380.1 L443.8 381.7 L445 383.3 L446.4 384.7 L446.3 386.8 L447.7 388.2 L448.3 390 L449.7 391.1 L450.9 392.4 L451.6 394.1 L453 395.8 L453.7 397.8 L454.1 399.9 L455.7 401.3 L456.7 403 L457.5 404.9 L459 405.9 L459.9 407.6 L461.6 408.3 L462.9 410.3 L463.6 412.6 L464.1 414.9 L466 414.3 L467.9 414 L469.9 414.1 L470.4 415.3 L471.6 415.8 L473.2 414.9 L474.9 414.1 L476.6 413.3 L478.8 412.5 L481.2 412.7 L483.3 411.6 L485.4 411.5 L487.5 411.5 L489.5 411.7 L491.6 411.6 L493.7 412 L495.7 412.2 L497.8 412.8 L499.9 412.4 L502.1 412.5 L504.4 412.3 L506.6 412.4 M452.5 312.4 L452.4 314.5 L451.4 316.3 L450.8 318.3 L451.2 320.4 L450.4 322.4 L449.6 324.5 L450 326.6 L448.3 328 L447.5 329.9 L445.9 331.4 L445 333.3 L443.3 334.7 L442.5 336.9 L440.8 338.3 L439.5 340.3 L437.8 341.9 L435.8 343.2 L433.9 343.5 L432 343.9 L430.3 345 L428.3 345 L427.2 346.5 L426.5 348.3 L425.8 350 L425 352.2 L424.1 354.4 L423.3 356.6 L422.9 359 L421.5 361 L420.8 363.3 L419.6 365.1 L420.2 367.3 L419.2 369.1 M694.9 344.1 L693.7 342 L692.5 339.9 L690.7 338.3 L689.7 336.5 L688.9 334.7 L688.7 332.7 L688.2 330.8 L686.3 330.2 L684.8 328.9 L683.4 327.5 L681.3 327.2 L679.9 325.8 L678 324.3 L675.8 323.7 L673.7 322.6 L671.6 321.6 L669.4 320.6 L667.1 321 L664.9 320.8 L662.6 321.3 L660.3 320.8 L658.1 320.4 L655.8 320.8 L654 319.7 L652.4 318.3 L650.8 320.2 L648.5 321.1 L646.6 322.5 L645.3 323.9 L644.3 325.6 L642.6 326.7 L641.6 328.3 L640.3 330.3 L638.3 331.6 L638 333.3 L637.1 334.8 L637.4 336.6 L635 336.3 L632.8 337.1 L630.4 337.2 L628.3 338.3 L626.4 339.6 L625.3 341.7 L623.3 343 L621.6 342.3 L620.1 341.2 L618 341.4 L616.6 340 L615.2 338.5 L613.6 337.4 L611.3 337.4 L610 335.8 L609.6 333.9 L609.3 332 L608.8 330.2 L608.3 328.3 L606.4 327 L605.9 324.6 L604.1 323.3 L602.2 322.5 L600.4 321.6 L599.1 320 L597.4 319.7 L595.8 319.9 L594.1 320 L592.3 321.4 L590.2 322.2 L588.3 323.3 L586.3 323.9 L584.3 324.1 L582.2 323.1 L580.3 324.5 L578.3 324.1 L576.2 324.4 L574.1 323.9 L572.1 325.4 L570 325 L568.6 323.6 L568 321.6 L567.1 319.8 L565.8 318.3 L564.8 316.1 L563.5 314.1 L561.7 312.5 L559.8 311.6 L558.4 310.2 L557.4 308.3 L556.5 306.5 L554.8 305.2 L554.7 303 L553.2 301.6 L551.4 300.7 L549.4 300.6 L547.4 300.8 M577.5 207.5 L579.4 207.5 L581.3 207.2 L583.2 207.7 L585 208.3 L587.2 207.4 L589.5 207 L591.6 205.8 L593 204.9 L594.4 204.1 L595.8 203.3 L595.9 201.2 L596.9 199.4 L597.5 197.5 L599.5 196.8 L601.6 196.7 L600.7 198.8 L600.7 201.1 L600 203.3 L600.4 205.6 L601.6 207.6 L601.6 210 L602.6 211.8 L602.8 213.8 L603.3 215.8 L604.9 216.5 L606.6 216.9 L608.3 217.5 L610.3 218.1 L611.3 220.2 L613 221.4 L614.9 222.2 L616.6 223.3 L618.1 225 L619.9 226.3 L622 227.5 L623.1 229.5 L625 230.8 L627.1 230.2 L629.1 231.4 L631.2 230.4 L633.3 230.8 L635.2 231.3 L637.2 231.4 L639.1 230.8 L641.2 231.2 L642.8 232.7 L644.9 233.3 L646.8 232.4 L648.9 232.5 L650.8 231.9 L652.8 231.5 L654.9 231.6 L657 232.2 L659 233.3 L661.2 233.4 L663.3 234.1 L665.4 235 L666.9 236.5 L668.3 238.3 L669.8 240 L670.9 241.9 L671.6 244.1 L673.1 245.5 L674.2 247.2 L674.9 249.1 L676.6 247.9 L678.2 246.6 L679.9 246.5 L681.6 246.7 L683.2 247.4 L683.9 248.9 L685.9 249.2 L686.6 250.8 L688.8 250.4 L690.9 249.6 L693.2 249.9 L695.2 249.1 L697.3 248.8 L699.4 248.2 L701.6 248.3 L703.3 249.7 L705 251 L706.6 252.4 L708.9 252.7 L711.1 253.3 L713.2 254.1 L715.3 253.9 L717.4 254 L719.4 254.5 L721.5 254.1 L723.8 254.5 L725.4 256.6 L727.6 257.3 L729.9 257.9 L728.9 259.6 L728.7 261.7 L727.8 263.4 L726.5 264.9 L726 266.8 L725.4 268.5 L724 269.9 L722.1 271.5 L721.2 273.8 L719.9 275.8 L718.9 277.8 L717.6 279.6 L716.5 281.6 L716.1 283.3 L716.9 284.9 L716.5 286.6 L716.2 288.9 L715.7 291.1 L714.9 293.2 L714.5 295.2 L714.5 297.3 L713.7 299.1 L713.2 301.1 L711.6 302.8 L710.7 305 L710.1 307.2 L710.2 309.4 L709.9 311.6 L710.9 313.1 L711.5 314.8 L711.6 316.6 L710.5 318.7 L710.7 321.1 L709.9 323.3 L709.3 325.3 L710.3 327.3 L710.1 329.3 L709.3 331.3 L709.9 333.3 L710.8 334.9 L711.6 336.5 L711.6 338.3 L710.4 339.9 L709.6 341.7 L708.4 343.3 L707.4 345 L705.6 346.3 L703.8 347.7 L701.6 348.3 L700 347.6 L698.3 347.4 L696.6 347.4 L695.5 345.9 L694.9 344.1 M475.8 203 L476.4 201.1 L477 199.1 L478.3 197.5 L479.4 196 L480.7 194.7 L482.5 194.1 L481.3 192.9 L481 191.1 L479.7 190 L480.1 188.3 L480 186.6 L480.8 185 L479.2 183.3 L478.9 181.3 L479.4 179.3 L479.5 177.3 L480.4 175.3 L480 173.3 L480.1 171.1 L480.8 168.9 L481 166.7 L480.5 164.4 L480.5 162.2 L480.8 160 L481.2 158.1 L482.5 156.7 L484.5 155.4 L486.7 154.3 L488.3 152.5 L490.4 152 L492.3 150.7 L494.6 150.8 L496.6 150 L498.6 149.6 L500.5 148.6 L502.7 148.8 L504.8 148.7 L506.6 147.5 L508.7 147.4 L510.8 147 L512.8 146.4 L514.8 145.8 L516.6 144.7 L517.3 146.5 L518.3 148.1 L518.6 150 L518.5 151.7 L518.6 153.3 L518.3 155 L519.7 156.5 L519.9 158.7 L521 160.3 L522.5 161.7 L524.2 163.4 L526.1 164.8 L528.3 165.8 L530 164.7 L531.9 164 L533.3 162.5 L535 162.7 L536.6 162.5 L538.3 162.5 L539.2 164.7 L541 166.4 L542.4 168.3 L542.5 170 L543.2 171.6 L543.3 173.3 L544.9 175 L546.6 176.6 L548.9 177 L551.2 177.2 L553.3 178.3 L554.4 180.2 L555.9 181.7 L557.4 183.3 L558.3 185.3 L558.3 187.5 L560.4 187.7 L562.5 187.3 L564.5 186.2 L566.6 186.6 L568.8 187.2 L570.9 187.8 L573.2 187.5 L574.9 188.6 L575.8 190.4 L577.4 191.6 L576.4 193.4 L576.9 195.7 L575.7 197.5 L576 199.7 L577.3 201.4 L578.2 203.3 L577.4 204.9 L577.4 206.6 M577.4 206.6 L577.4 208.4 L578.2 210.1 L579.1 211.6 L578.8 213.7 L578.8 215.8 L578.6 217.8 L579.1 219.9 L577.4 221.4 L576.1 223.2 L575.2 225.4 L573.2 226.6 L572.7 228.8 L573.8 231.1 L573.2 233.3 L572.7 235.6 L571.8 237.8 L570.7 239.9 L568.5 240.6 L566.6 242.1 L564.2 242.5 L562.1 243.5 L559.9 244.1 L559.4 246.2 L558.5 248.1 L557.4 249.9 L557.6 252.2 L559 254.3 L559.1 256.6 L557.3 257.9 L556.5 260 L555.9 262.2 L554.3 263.9 L553.7 266.1 L553.2 268.3 L552.8 270.4 L551.3 272.1 L550.7 274.1 M550.7 274.1 L549.9 272.7 L548.7 271.6 L548.2 270 L546.1 268.8 L544.8 266.7 L543.2 265 L542.7 263 L541.1 261.6 L539.9 260 L537.7 259.7 L535.4 259.4 L533.2 259.1 L531.1 260 L528.7 260 L526.6 260.8 L524.4 260.4 L522.1 260.8 L519.9 260 L518.5 258.7 L516.7 258 L514.9 257.5 L512.9 256.6 L510.6 256.6 L508.8 255.1 L506.6 255 L504.5 255 L502.4 254.8 L500.4 253.9 L498.3 254.1 L496.2 254.7 L494 254 L492.1 255.4 L489.9 255 L488.1 254.4 L486.7 253.2 L484.9 252.5 M547.4 300.8 L545.6 301.6 L543.7 301.5 L541.7 300.8 L539.9 301.6 L537.8 302.5 L535.7 303.3 L534.6 304.8 L533.7 306.5 L533.2 308.3 L532.9 310.4 L532.4 312.4 M532.4 312.4 L530.4 312.3 L528.5 312 L526.6 311.6 L524.4 312.6 L522.1 313.2 L519.9 314.1 L518 313.6 L516.1 313.4 L514.1 313.3 L513.6 311.7 L513.5 310 L513.2 308.3 L511.5 307.5 L510.2 306.1 L508.3 305.8 L506.9 305 L505.5 304.1 L504.1 303.3 L501.8 303.4 L499.6 303.7 L497.4 304.1 L495.9 303 L495.3 301.2 L494.1 299.9 L492.8 298.7 L491.7 297.3 L490.8 295.8 L490.1 294.1 L488.4 293.1 L487.4 291.6 L485.9 290.3 L485 288.6 L484 287 L482.4 285.8 L481.9 283.7 L480.9 281.9 L479.9 280 L479.2 278.1 L479 276.1 L479.1 274.1 L478.4 271.9 L477.2 269.8 L476.6 267.5 L476.7 265.5 L475.6 263.6 L475.8 261.6 M550.7 274.1 L551.3 276.1 L551.7 278.1 L552.4 280 L553.4 281.8 L554 283.7 L554 285.8 L552.8 287.9 L551.5 289.8 L549.9 291.6 L549.3 293.2 L548.7 294.8 L549.1 296.6 L548.9 299 L547.4 300.8 M506.5 412.5 L507.5 413.8 L507.8 415.5 L509 416.7 L510.5 418.3 L512.2 419.6 L514 420.8 L514.7 422.7 L516.3 424 L516.9 426 L518.2 427.5 L518.8 429.3 L518.6 431.3 L518.5 433.2 L519 435 L518.5 437.3 L517 439.3 L516.5 441.6 L515.5 443.4 L513.6 444.2 L512.4 445.8 L511.6 447.8 L511.5 450 L512.3 451.9 L513.6 453.5 L514.9 455 L515.7 456.6 L515.6 458.3 L515.7 460 L515 461.6 L514 463.2 L514 465 L514 466.9 L515 468.4 L515.7 470 L514.1 471.2 L512 471.6 L510.7 473.3 L510.1 475.2 L509.1 476.9 L507.4 478.2 L506.5 479.9 L505.9 481.7 L504.8 483.2 L504 484.9 L503.5 486.9 L502 488.3 L500.7 489.9 L499.3 491.6 L498.5 493.6 L498.2 495.8 M371.6 418.3 L371.3 420.3 L370.3 421.8 L369.1 423.3 L370 425.2 L371.6 426.7 L372.2 428.9 L372.1 431.3 L373.3 433.3 L372.2 435.2 L372.8 437.5 L371.6 439.4 L371.6 441.6 L370.7 443.2 L369.5 444.5 L368.3 445.8 L367.3 447.6 L365.8 449.1 L367.3 450.1 L368.7 451.3 L369.6 453 L371.4 454.6 L373.5 455.7 L375.6 456.8 L377.3 458.6 L378.4 460.3 L379 462.4 L380.3 464 L381.6 465.7 L382.6 467.5 L383 469.9 L384.3 471.9 L385 474.2 L386 476.3 L387 478.3 L387.1 480.5 L387.9 482.5 L388.3 484.6 L388.7 486.3 L389.2 488.1 L389.1 490 L390 491.6 L388.3 490.8 L387.1 489.3 L386 487.9 L384.6 486.2 L384 484.2 L383.6 482 L382.3 480.3 L381.4 478.3 L380.8 476.2 L379.2 474.5 L378.8 472.3 L378.1 470.1 L376.3 468.5 L375.5 466.4 L374.6 464.3 L373.2 462.9 L372.2 461.2 L371 459.6 L370 460.4 L369 461 L368.6 462.8 L367.8 464.6 L368 466.6 L367.8 468.6 L368.1 470.7 L367 472.6 L366.8 474.6 L367 476.6 L367.2 478.7 L366.6 480.6 L366.9 482.7 L365.5 484.5 L365.8 486.6 L365.4 488.6 L365.4 490.6 L365.7 492.7 L364.5 494.6 L364.6 496.6 L363.8 498.8 L363.4 501 L364 503.4 L363.5 505.6 L365.4 505.4 L367.3 504.9 L369 506.6 L371 507.9 L371.3 509.5 L371.5 511.1 L369.7 510.1 L367.6 510.4 L366.2 510.8 L365.3 511.9 L364.1 512.6 L363.1 513.6 L362.9 516 L362.5 518.3 L362.7 520.5 L361.5 522.5 L362.4 524.7 L361.5 526.8 L361.8 529 L361.6 531.1 L360.2 532.6 L359.9 534.6 L359 536.4 L358.6 538.4 L357.5 540 L357 542.3 L356.2 544.6 L355.8 546.9 L355.9 549.4 L355 551.6 L354.4 553.9 L353.4 556.1 L353.5 558.6 L352.4 560.8 L352.5 563.3 L352.2 565.6 L350.4 567.3 L350.3 569.6 L349.2 571.6 L347.9 573.1 L347.4 575.1 L346.2 576.7 L345 578.3 L343.6 580 L341.8 581.2 L340 582.4 L338.9 583.8 L337.5 584.9 L338.3 586.9 L340 588.3 L342 588.7 L343.7 590 L345.8 589.9 L347.6 590.9 L349.8 590.8 L351.7 591.6 L350.8 593.2 L351.2 594.9 L350.8 596.6 L350.6 598.9 L349.2 600.8 L350.8 601.7 L351.7 603.3 L353.6 602.4 L355 600.8 L356.4 602.3 L358 603.5 L360 604.1 L361.4 605.4 L363.4 605.5 L365.1 606.2 L366.6 607.4 L368.3 608.6 L370.3 608.8 L372.1 609.6 L374.1 609.9 L375.7 610.6 L377.4 610.6 L379.1 610.8 L380.7 612 L381.9 613.6 L383.3 614.9 L384.6 616.4 L386.5 617.3 L387.5 619.1 L389.2 619.3 L390.9 619 L392.5 618.3 L394.2 618.3 L395.7 617.2 L397.4 617.4 M397.4 617.4 L397.2 615.4 L397.9 613.5 L398.3 611.6 L399 609.9 L399.6 608.1 L400.8 606.6 L402.5 604.9 L403.6 602.8 L404.9 600.8 L405.9 599.3 L407.2 598 L408.3 596.6 L409.1 594.5 L410.3 592.6 L411.6 590.8 L411.7 588.8 L412.1 586.9 L412.4 584.9 L411 583.5 L411 581.4 L409.9 579.9 L408.7 578.8 L408.3 577.1 L407.4 575.8 L405.3 575.7 L403.4 575.1 L401.6 574.1 L401.1 572.3 L399.9 570.8 L400.8 568.9 L401.7 567 L402.4 565 L402 562.7 L402.9 560.5 L403.3 558.3 L403.3 556.5 L404.1 555 L405.9 553.9 L408.1 554.4 L409.9 553.3 L411.3 554.9 L413.3 555.8 L414.9 554.8 L415.2 552.8 L416.6 551.6 L418.8 550.9 L421.2 551 L423.3 550 L425.4 549.4 L427.3 548.3 L429.4 547.6 L431.6 547.5 L433.8 547.5 L436.1 547.6 L438.3 547.5 L439.7 547.9 L440.7 549.1 L442.6 548.2 L443.9 546.8 L444.9 545 L446.7 544.3 L447.5 542.5 L449.1 541.6 L449.5 539.4 L450.5 537.3 L450.7 535 L449.8 533 L449.9 530.8 L451.8 530 L453.6 529.2 L455.7 529.2 L456 527.4 L456.6 525.8 L455.6 524.2 L454.4 522.7 L454.1 520.8 L455.5 519.2 L457.8 519.2 L459.1 517.5 L460 515.9 L460.3 514 L461.6 512.5 L463.2 511.6 L464.7 509.8 L466.6 508.4 L468.2 506.6 L469.8 505.2 L470.8 503.5 L471.6 501.6 L472.3 499.4 L472.1 497.1 L472.4 494.9 L474 494.4 L475.2 493.3 L476.6 492.4 L478.2 493.2 L480 493.5 L481.6 494.1 L482.9 495.9 L484.9 496.9 L486.5 498.3 L488.3 497.1 L490.4 497.2 L492.4 496.6 L494.4 497 L496.3 496.5 L498.2 495.8 M475.7 203 L473.9 204.2 L472.3 205.8 L470.4 207 L468.6 208.2 L466.6 209.1 L464.6 209.9 L462.6 210.5 L460.6 211.2 L458.8 212.3 L456.6 212.4 L454.5 212.5 L452.8 213.9 L450.8 214.2 L448.7 214.4 L446.7 214.7 L444.9 215.8 L443.1 217.4 L440.7 217.7 L438.8 219.2 L436.6 219.9 L434.7 220.6 L433 221.8 L431.3 222.9 L429.3 223.4 L427.4 224.1 L427 226.1 L425.8 227.8 L425.8 229.9 L424.8 232.1 L423.6 234.1 L425.6 235.3 L426.6 237.4 L428.7 237.5 L430.5 238.5 L432.4 239.1 L430.2 239.3 L428.3 240.1 L426.6 241.6 L424.6 242 L423.5 243.9 L421.6 244.4 L419.9 245.3 L417.9 245.9 L415.7 245.5 L413.6 245.8 L411.6 246.6 L409.7 245.4 L407.7 244.5 L405.5 244.1 L403.3 243.6 L401.4 242.6 L399.2 243.5 L397.3 242.5 L395.2 242.6 L393.3 241.6 L391.2 241.3 L389.2 240.5 L387 240.6 L385 239.9 L382.8 240.8 L380.6 241.1 L378.3 240.8 L377.3 238.9 L376.2 237 L375.8 234.9 L375.2 233.1 L374 231.6 L373.3 229.9 L373.6 228.2 L375.5 227.5 L375.8 225.8 L374.5 223.9 L374.1 221.6 L372.2 221.3 L370.3 221.6 L368.5 221.7 L366.6 221.9 L364.5 222.7 L362.1 222 L360 222.8 L357.8 222.1 L355.4 222 L353.3 220.8 L351.9 219.9 L350.8 218.6 L349.1 218.3 L349.1 220.2 L350.9 221.4 L350.8 223.3 L351.5 225.5 L351.2 227.7 L351.6 229.9 L352.6 232 L354 233.9 L355.2 236 L355.8 238.3 L357.2 240.1 L358 242.2 L357.9 244.7 L359.1 246.6 L359.5 248.7 L360.5 250.6 L360.5 252.8 L360.8 254.9 L360.5 257 L361.2 259 L360.8 261.1 L359.9 263.2 L359.9 265.5 L360.1 267.8 L359.6 270 L359.6 272.2 L360.3 274.2 L361.6 276.1 L361.6 278.3 L362.2 280.1 L361.6 282 M452.5 312.4 L450.9 311.5 L450 309.9 L450.3 307.6 L449.2 305.5 L449.1 303.3 L450.9 302.4 L452.1 300.9 L453.6 299.6 L454.5 297.9 L455.4 296 L455.8 294.1 L454.8 292 L452.7 290.7 L451.6 288.6 L450.7 286.9 L450.8 285.1 L450.8 283.3 L452.6 282.8 L454.4 282.1 L455.7 280.7 L457.5 280 L459.4 278.9 L461.6 278.7 L463.9 278.8 L465.8 277.6 L467.8 276.5 L469.6 275 L471.9 274.6 L473.2 273 L473.3 270.7 L474.6 269.1 L474.6 267.2 L475.8 265.4 L475.7 263.5 L475.8 261.6 M484.9 252.5 L485 250.7 L485.8 249.3 L486.6 247.9 L487.5 246.6 L487.6 244.2 L486.3 242.2 L485.8 239.9 L485.4 237.6 L487 235.6 L486.6 233.3 L486 231.1 L485.9 228.7 L485 226.6 L485.4 224.3 L486 222.1 L486.6 219.9 L485.5 218.1 L486.2 215.8 L485 214.1 L483.5 212.9 L483 210.8 L481.4 209.6 L480 208.3 L479.1 206.2 L476.9 205 L475.8 203 M475.8 261.6 L477.5 260.5 L478.5 258.9 L479.9 257.5 L481.5 255.7 L483.6 254.5 L484.9 252.5 M378.2 290.3 L380 290.3 L381.7 290.5 L383.2 291.6 L385.5 292.1 L387.8 292.6 L389.9 293.6 L392.1 293.5 L394.3 292.7 L396.5 292.5 L398.7 291.7 L401.1 291.9 L403.2 290.8 L404.9 289.8 L406.9 289.4 L408.7 288.6 L410.7 288.6 L412.2 288.6 L413.2 289.6 L414 291.5 L414.9 293.3 L416.1 294.8 L416.5 296.7 L417.4 298.3 L419.3 297.5 L421.3 297.4 L423.2 296.6 L425.2 295.3 L427.6 295 L429.8 294.1 L431.8 293.9 L433.5 295 L434.2 297.1 L435 299.3 L434.8 301.6 L436.6 302.3 L438.2 303.3 L439.7 304.6 L441.6 305.2 L443.2 306.3 L444.8 307.5 L446.3 309.1 L448.1 310.4 L450 311.6 L451.1 312.3 L452.5 312.4 M498.2 495.8 L499.3 497.5 L499.1 499.5 L499.6 501.4 L499.9 503.3 L500.8 505.4 L500.9 507.7 L501.5 509.9 L502.2 511.5 L502.3 513.3 L503.2 514.9 L505.4 514.4 L507.7 514.4 L509.9 514.1 L511.6 513.9 L513.1 513 L514.9 513.3 L515.9 511.7 L516.3 509.8 L517.9 508.5 L518.2 506.6 L519.7 505.3 L520.9 503.9 L522.3 502.5 L523.2 500.8 L525.1 499.7 L527.3 499.9 L528.9 501 L529.2 503 L530 504.6 L531.5 505.8 L532.6 507.8 L533.1 510.2 L535.1 511.8 L535.7 514.1 L536.3 512.2 L536.5 510.2 L537.4 508.4 L538.2 506.6 L539.2 504.7 L541.4 503.6 L542.3 501.6 L544.1 500.8 L545.4 499.3 L547 498.3 L549.1 498.2 L551.2 498.7 L552.6 500.2 L553.7 501.8 L555.4 503 L556.2 504.9 L557.4 503.5 L558.5 502 L560 500.8 L561.5 501.9 L563.3 502.5 L565.2 503.6 L567 504.8 L568.3 506.6 L569.3 508.3 L570.7 509.9 L571.7 511.6 L571.9 514 L573.9 515.6 L574.1 517.9 L575 520 L575.5 521.8 L577.1 523.1 L577.5 524.9 L578.3 526.6 L579.4 528.1 L579.2 530 L580 531.6 L582.1 531.6 L583.8 533.1 L585.8 533.3 L587.9 533.7 L590 534.1 L591.4 532.6 L593.3 531.6 L594.7 532.2 L595.8 533.3 L598.1 533 L600 531.6 L601.9 531.6 L603.5 532.4 L605 533.3 M397.4 617.4 L399.4 617.6 L400.5 619.6 L402.4 619.9 L404 621.6 L405.3 623.6 L407.4 624.9 L409.7 625.2 L412 624.5 L414.2 623.6 L416.6 624.1 L418.8 624.8 L421 625.4 L423.3 625.7 L425.6 626 L427.7 625.2 L429.9 624.9 L431.9 624.1 L434.1 625 L436.1 623.7 L438.3 624.1 L438.7 621.9 L438.9 619.6 L439.1 617.4 L440 616.6 L441.9 617.8 L444.1 618.5 L446.3 618.9 L448.3 619.9 L450.5 620.2 L452.5 621.1 L454.8 621.2 L456.7 622.4 L457.9 624.5 L460 625.8 L462.3 625.5 L464.4 626.5 L466.6 626.6 L467.7 628.5 L469.9 629.6 L470.8 631.6 L472.9 630.8 L475 629.9 L476.8 630.4 L478.8 630.5 L480.6 631.1 L482.5 631.6 L483.9 633.1 L485 634.9 L484.2 636.6 L483.3 638.3 L485.4 638.6 L487.4 639.2 L489.6 638.9 L491.6 639.9 L492.1 642 L493.2 643.8 L494.1 645.8 L495.7 646.7 L497.5 646.6 L498.6 645.1 L500.6 644.9 L501.6 643.3 L503.8 644 L506.1 643.4 L508.3 643.3 L510.2 643.7 L511.7 644.9 L513.3 645.8 L515.4 646.5 L517.4 647.4 L519.2 647.8 L520.8 647.3 L522.4 646.6 L523.1 645.3 L524.1 644.1 L526.2 643.8 L528 642.6 L529.9 641.6 L531.7 640.7 L533.8 641.3 L535.6 640.7 L537.4 639.9 L539.7 639.6 L541.8 641.1 L544.1 640.8 L543.7 639.1 L543 637.7 L541.6 636.6 L541.3 634.3 L539.9 632.3 L539.9 629.9 L539.7 627.8 L539.6 625.7 L539.3 623.7 L539.1 621.6 L539.4 619.6 L538.6 617.6 L539.7 615.6 L538.8 613.6 L539.6 611.6 L540.2 609.4 L540.9 607.2 L541.6 605 L542.3 603 L544 601.8 L544.9 600 L546.3 598.1 L548.1 596.5 L549.9 595 L552.1 594.4 L554.3 593.8 L556.6 593.3 L558.4 591.8 L559.9 590 L561.2 588.2 L563.6 588 L565.1 586.4 L566.6 585 L567.9 583.2 L569.9 582.5 L571.6 581.3 L573.2 580 L574.7 578.8 L576.7 578.7 L578.2 577.5 L580.3 577.6 L582.4 578 L583.7 579.1 L584.1 580.8 L585.7 581.4 L587.4 581.5 L589.1 581.3 M589.1 580.8 L590.7 579.1 L592.3 577.3 L594.3 575.9 L595.8 574.1 L596.6 572.3 L598.4 571.1 L598.9 569.1 L600 567.5 L601.4 565.6 L603.1 563.8 L604.1 561.6 L604.4 559.6 L605.3 558 L607 556.7 L607.5 554.9 L609 553.4 L610.7 551.9 L611.6 549.9 L611.1 547.7 L610.1 545.7 L608.7 543.9 L607.1 542.2 L606.6 540 L605.5 537.9 L605.3 535.6 L605 533.3 M683.2 483.3 L681.5 484 L679.7 484.7 L678.2 485.8 L676.5 485.2 L675 484.4 L673.2 484.2 L671.3 484.1 L669.3 483.7 L667.4 484.2 L666.6 486.2 L666.6 488.3 L667.6 489.8 L669.6 490.3 L670.7 491.7 L671.2 493.3 L670.8 495.1 L671.6 496.7 L669.3 496.7 L667.5 498.3 L665.5 498.9 L663.3 499.2 L661.5 499.8 L660 500.9 L658.3 501.7 L656.3 502.8 L654 503.3 L652.4 505 L651 506.8 L650.8 509.1 L648.6 509.8 L647.1 511.7 L644.9 512.5 L643.4 514 L642.4 515.8 L642 517.6 L642.4 519.2 L643.3 520.8 L641.4 521.8 L639.4 521.8 L637.4 521.6 L636.1 523.1 L635.8 525 L636.7 526.5 L637.9 527.8 L639.1 529.1 L641.1 529.5 L643 530 L644.9 530.8 L646.2 532.7 L646.6 535 L646.8 536.7 L646.4 538.4 L645.8 540 L643.8 539.7 L642.4 538.3 L640.6 538.9 L639.8 540.7 L638.3 541.6 L637.2 540.1 L635.9 538.9 L634.1 538.3 L632.3 537.2 L630.4 536.7 L628.3 536.6 L626.8 534.8 L625 533.3 L623 532.8 L621.1 532.7 L619.1 533.3 L617.1 533.5 L615.4 534.7 L613.3 534.6 L611.6 535.8 L610.3 533.8 L608.3 532.5 L606.8 533.5 L605 533.3 M589.1 580.8 L591.2 582 L593.6 581.8 L595.8 582.5 L597.7 583 L599.6 583.4 L601.6 583.6 L602.5 585 L602.5 586.6 L604.3 587.4 L606.2 587.7 L608.1 587.3 L610 587.5 L611.8 588 L613.6 587.5 L615 586 L615.8 584.1 L617.5 584.3 L619.1 584.6 L620.8 586.2 L621.6 588.3 L623.3 588.1 L624.8 589.4 L626.6 589.1 L628.1 588.1 L629.7 587.4 L631.6 587.5 L633 588.7 L634.9 589.1 L634.8 591.3 L634.1 593.3 L635.5 594.8 L637.4 595.8 L639.4 595.6 L641.3 596.1 L643.3 595.8 L645 596.3 L646.6 597.1 L648.3 597.5 L650 598.2 L651.5 599.5 L653.3 600 L655.2 601.4 L656.6 603.3 L658.5 601.9 L659.9 600 L662.2 600.1 L664.4 600.8 L666.6 601.6 L668.2 601.1 L669.9 600.8 L671.4 599.4 L673.2 598.3 L674.9 598.1 L676.5 599.2 L678.2 599.1 L680.2 598.6 L681.7 597.2 L683.2 595.8 L685.2 594.9 L687.4 595 L688.7 593.7 L690.5 593.1 L691.6 591.6 L691.2 589.7 L689.9 588.3 L689.9 586.4 L691.2 585 L691.6 583.3 L693 581.8 L695.3 581.6 L696.6 580 L698.8 579.4 L700.4 577.6 L702.4 576.6 L703 574.6 L703.2 572.5 L704.9 571.9 L706.4 571.1 L708.2 570.8 L709.7 569 L709.9 566.6 L711.5 564.9 L713.2 563.3 L714.8 562.6 L716.7 562.9 L718.2 561.7 L719.5 560.1 L721.2 559 L723.4 558.8 L724.9 557.5 L724.4 555.9 L723 554.8 L722.4 553.3 L722.6 551.4 L724 550 L725.9 548.4 L727 546.3 L728.2 544.2 L728.8 542.4 L730.2 541 L730.7 539.1 L730.5 537.1 L728.9 535.8 L728.2 534.1 L725.9 534.5 L724 535.8 L722 536.2 L720.2 537.1 L718.2 537.5 L716 536.7 L713.9 535.5 L711.6 535 L709.4 534.8 L707.3 534.2 L705.3 533 L703.2 532.5 L702.3 530.9 L701.3 529.5 L699.9 528.3 L699 526.2 L697 525.1 L695.7 523.3 L695.8 521.1 L696.6 519.1 L695.6 517.3 L694.1 515.8 L695.4 514.6 L696.6 513.3 L696.8 511 L698.2 509.1 L699.5 507.1 L701.6 505.8 L701 503.9 L700.8 501.9 L699.4 500.3 L699.1 498.3 L697 498.3 L695.1 497.3 L693.2 496.7 L692.3 495 L690.1 494.9 L689.1 493.3 L688.6 491.5 L688 489.7 L686.6 488.3 L685.3 486.8 L684.3 485 L683.2 483.3 M322.5 347.5 L321.4 349 L320.8 350.8 L320 352.5 L319.8 354.7 L320.8 356.6 L322.2 357.9 L324.2 358 L325.8 359.1 L327.8 358.7 L329.5 360 L331.4 359.6 L333.3 360 L332 361.8 L331.9 364 L330.8 365.8 L331.9 367.5 L333.6 368.6 L335 370 L335.6 371.8 L337.7 372.3 L338.3 374.1 L336.4 375.4 L335.8 377.7 L334.1 379.1 L332.7 380.5 L332.5 382.5 L333.7 383.6 L334.1 385.3 L335 386.6 L335.9 388.4 L337.7 389.6 L338.3 391.6 L339.5 393.7 L340.8 395.7 L342.5 397.4 L342.4 399.3 L343.3 400.8 L344.1 402.4 L345.4 403.9 L347.4 404.7 L348.3 406.6 L350.5 407.6 L352.5 409 L354.1 410.8 L356 412 L358 413 L359.9 414.1 L361.8 415.2 L363.9 415.7 L365.8 416.6 L367.8 417 L369.6 417.9 L371.6 418.3 M371.6 418.3 L373.2 417.3 L375 416.7 L376.6 415.8 L378.8 416.5 L381.1 416.1 L383.3 416.6 L385.5 416.3 L387.7 416.4 L389.9 415.8 L391 414.4 L392.6 414 L394.1 413.3 L392.9 411.8 L392.3 410 L391.6 408.3 L391.1 406.2 L391.4 404.1 L392.3 402 L391.6 399.9 L390.5 398 L391.3 395.6 L390.4 393.7 L389.9 391.6 L389.5 389.7 L387.9 388.4 L387.4 386.6 L386.3 385.1 L385.6 383.4 L384.9 381.6 L383.6 380 L382.4 378.3 L384.3 378.5 L386.1 377.5 L388 377.8 L389.9 377.5 L391.3 376.2 L393 375.3 L395.1 375.4 L396.6 374.1 L398.7 373.8 L400.8 373.7 L402.9 373.2 L404.9 372.5 L406.8 372.7 L408.6 372.4 L410.5 373.1 L412.4 372.5 L414.1 374.1 L415.7 372.6 L416.3 370.4 L418.2 369.1 M804.1 595.8 L806.2 596 L808.3 595.3 L809.1 597.4 L809.7 599.5 L809.9 601.7 L809.5 603.6 L810.6 605.4 L810.2 607.2 L810.2 609.1 L810 610.8 L809.8 612.4 L809.9 614.1 L811.4 615.8 L811.9 618.1 L813.2 620 L813.6 622.1 L813.6 624.2 L815.1 626.1 L814.9 628.3 L814.7 630.5 L816.2 632.4 L815.7 634.6 L816.6 636.6 L816.8 638.5 L816.5 640.4 L817.6 642.2 L817.4 644.1 L817 646.1 L816.7 648 L815.2 649.6 L814.9 651.6 L814 653.8 L813.6 656.2 L812.4 658.3 L812.7 660.4 L812.7 662.5 L812.4 664.6 L811.9 666.6 L811.7 668.7 L811.8 670.8 L811.4 672.8 L811.6 674.9 L811.3 676.9 L809.9 678.3 L809.8 680.1 L810.7 681.6 L809 682.9 L808.2 684.7 L807.4 686.6 L807.5 688.7 L808.3 690.7 L806.4 689.4 L804.1 689.1 L801.9 688.8 L800.2 687.5 L798.3 686.6 L796.3 686 L795.2 684.1 L793.3 683.3 L791.7 682.1 L789.7 681.5 L788.3 679.9 L787.4 678.3 L786.6 676.6 L788.5 675.7 L789.9 674.1 L788.3 673.2 L786.3 672.9 L784.9 671.6 L783.1 670.2 L780.8 669.9 L782 667.8 L784.1 666.6 L784.2 664.8 L783.3 663.3 L785.1 662 L785.8 659.9 L783.6 660 L781.5 660.1 L779.5 661.1 L777.4 661.6 L777.5 659.4 L778.3 657.4 L779.9 655.7 L781.6 654.1 L780.8 652.5 L779.7 651.1 L778.3 649.9 L776.8 648.6 L775.9 646.7 L774.1 645.8 L773.4 643.7 L774.1 641.6 L775.5 640.8 L776.6 639.4 L778.3 639.1 L776.5 638.2 L775.3 636.3 L773.3 635.8 L773.7 634.1 L775.6 633.3 L775.8 631.6 L777.1 630.2 L777.7 628.4 L778.3 626.6 L778.5 624.3 L779.9 622.5 L781.6 621.6 L783.4 621 L784.7 619.4 L786.6 619.1 L788.4 618 L790.2 616.9 L792.4 616.6 L793.9 615.5 L795.1 614.2 L795.8 612.5 L797.8 613.1 L799.9 612.5 L801.5 613.2 L803.3 613.3 L803.7 611.7 L803.2 609.9 L804.1 608.3 L803.8 606.1 L803.9 603.9 L803.3 601.7 L803.9 599.8 L803.2 597.7Z" fill="none" stroke="#ffffff" stroke-opacity="0.95" stroke-width="2" stroke-linejoin="round" stroke-linecap="round"/>
<path d="M290.8 351.6 L294.2 350.8 L298.3 354.1 L297.5 356.3 L293.3 355.3Z" fill="#8fdc25" stroke="#ffffff" stroke-opacity="0.7" stroke-width="1.6"/>
<path d="M326.3 373.6 L329.1 373 L331 375.8 L330 377.6 L327.5 376.6Z" fill="#8ddb26" stroke="#ffffff" stroke-opacity="0.7" stroke-width="1.6"/>
<path d="M321.6 389.9 L325 389.6 L327.6 392.4 L325.3 393.3 L322.5 391.9Z" fill="#8ddb26" stroke="#ffffff" stroke-opacity="0.7" stroke-width="1.6"/>
<path d="M355 419.7 L360.8 421.3 L365.8 425.3 L362.6 425.3 L357.5 422.7Z" fill="#55c533" stroke="#ffffff" stroke-opacity="0.7" stroke-width="1.6"/>
<path d="M360 432.5 L365 435 L369.1 440 L370 445.3 L367.5 445.8 L364.1 440.8 L360.8 436.1Z" fill="#55c533" stroke="#ffffff" stroke-opacity="0.7" stroke-width="1.6"/>
<path d="M291.3 351.6 L295.3 353.3 L297.9 356.2 L294.1 356.2 L291.3 354.1Z" fill="#8fdc25" stroke="#ffffff" stroke-opacity="0.7" stroke-width="1.6"/>
<path d="M669.9 604.1 L674.9 603.6 L674.6 605.8 L670.7 605.9Z" fill="#5fc932" stroke="#ffffff" stroke-opacity="0.7" stroke-width="1.6"/>
<path d="M679.1 604.1 L684.1 601.6 L684.6 603.3 L680.2 605.3Z" fill="#5fc932" stroke="#ffffff" stroke-opacity="0.7" stroke-width="1.6"/>
<path d="M262.5 327.9 L265.3 329.1 L264.6 330.8 L262 329.6Z" fill="#8fdc25" stroke="#ffffff" stroke-opacity="0.7" stroke-width="1.6"/>
<path d="M283.2 333.9 L285.6 334.6 L285.4 335.8 L283 335.2Z" fill="#8fdc25" stroke="#ffffff" stroke-opacity="0.7" stroke-width="1.6"/>
<path d="M302.2 350.4 L303.4 350.6 L303.2 351.6 L302 351.4Z" fill="#8fdc25" stroke="#ffffff" stroke-opacity="0.7" stroke-width="1.6"/>
<path d="M305.3 353.2 L306.5 353.4 L306.3 354.4 L305.1 354.2Z" fill="#8fdc25" stroke="#ffffff" stroke-opacity="0.7" stroke-width="1.6"/>
<path d="M229.5 285.4 L230.5 285.6 L230.3 286.4 L229.3 286.2Z" fill="#8fdc25" stroke="#ffffff" stroke-opacity="0.7" stroke-width="1.6"/>
<path d="M231.4 287.5 L232.3 287.7 L232.1 288.5 L231.2 288.3Z" fill="#8fdc25" stroke="#ffffff" stroke-opacity="0.7" stroke-width="1.6"/>
<path d="M233.3 289.4 L234.2 289.6 L234 290.4 L233.1 290.2Z" fill="#8fdc25" stroke="#ffffff" stroke-opacity="0.7" stroke-width="1.6"/>
<path d="M613.3 529.1 L616.6 525 L620.8 528.3 L617.5 532.5 L614.1 531.6Z" fill="#5fc932" stroke="#ffffff" stroke-opacity="0.7" stroke-width="1.6"/>
<path d="M306.8 339.6 L308.6 338.8 L310.6 339.6 L310.2 341.6 L308 341.8 L307.4 340.6 L309.4 340.4" fill="none" stroke="#ffffff" stroke-opacity="0.75" stroke-width="2"/>
<path d="M601.6 568.3 L603.6 569.6 L607.5 578.3 L610 583.6 L613.6 587.5" fill="none" stroke="#ffffff" stroke-opacity="0.75" stroke-width="2"/>
<path d="M333.6 358.6 L340 358 L343.6 359.3" fill="none" stroke="#ffffff" stroke-opacity="0.75" stroke-width="2"/>
<path d="M405.8 594.1 L406.9 588.3 L409.6 585.8 L411.6 588.3 L408.3 593.3 L405.8 594.1" fill="none" stroke="#ffffff" stroke-opacity="0.75" stroke-width="2"/>
</g>
<text x="184" y="444" font-size="9.5" font-weight="bold" fill="#1f3278" stroke="#1f3278" stroke-width="0.35" letter-spacing="0.25" text-anchor="middle">952</text>
<text x="139" y="468" font-size="9.5" font-weight="bold" fill="#1f3278" stroke="#1f3278" stroke-width="0.35" letter-spacing="0.25" text-anchor="middle">45</text>
<text x="180" y="477" font-size="9.5" font-weight="bold" fill="#ffffff" stroke="#ffffff" stroke-width="0.35" letter-spacing="0.25" text-anchor="middle">13230</text>
<text x="233" y="476" font-size="9.5" font-weight="bold" fill="#1f3278" stroke="#1f3278" stroke-width="0.35" letter-spacing="0.25" text-anchor="middle">351</text>
<text x="88" y="488" font-size="9.5" font-weight="bold" fill="#1f3278" stroke="#1f3278" stroke-width="0.35" letter-spacing="0.25" text-anchor="middle">726</text>
<text x="122" y="508" font-size="9.5" font-weight="bold" fill="#1f3278" stroke="#1f3278" stroke-width="0.35" letter-spacing="0.25" text-anchor="middle">792</text>
<text x="166" y="509" font-size="9.5" font-weight="bold" fill="#1f3278" stroke="#1f3278" stroke-width="0.35" letter-spacing="0.25" text-anchor="middle">213</text>
<text x="221" y="514" font-size="9.5" font-weight="bold" fill="#1f3278" stroke="#1f3278" stroke-width="0.35" letter-spacing="0.25" text-anchor="middle">187</text>
<text x="138" y="568" font-size="9.5" font-weight="bold" fill="#1f3278" stroke="#1f3278" stroke-width="0.35" letter-spacing="0.25" text-anchor="middle">1362</text>
<text x="217" y="559" font-size="9.5" font-weight="bold" fill="#ffffff" stroke="#ffffff" stroke-width="0.35" letter-spacing="0.25" text-anchor="middle">1936</text>
<text x="173" y="606" font-size="9.5" font-weight="bold" fill="#1f3278" stroke="#1f3278" stroke-width="0.35" letter-spacing="0.25" text-anchor="middle">1271</text>
<text x="248" y="600" font-size="9.5" font-weight="bold" fill="#1f3278" stroke="#1f3278" stroke-width="0.35" letter-spacing="0.25" text-anchor="middle">1252</text>
<text x="308" y="640" font-size="9.5" font-weight="bold" fill="#1f3278" stroke="#1f3278" stroke-width="0.35" letter-spacing="0.25" text-anchor="middle">14</text>
<g id="numeum" fill="none" stroke="#43d5de" stroke-width="6.4">
<path d="M71.9 65.5 V22.4"/>
<path d="M71.9 30.6 A6.72 6.2 0 0 1 85.35 30.6 V65.5"/>
<path d="M85.35 30.6 A6.87 6.2 0 0 1 99.1 30.6 V65.5"/>
<path d="M71.9 113.1 V70"/>
<path d="M71.9 78.2 A6.72 6.2 0 0 1 85.35 78.2 V113.1"/>
<path d="M85.35 78.2 A6.87 6.2 0 0 1 99.1 78.2 V113.1"/>
<path d="M20.75 65.5 V22.1"/>
<path d="M20.75 30.6 A6.82 6.2 0 0 1 34.4 30.6 V65.5"/>
<path d="M46.95 22.8 V103.7 A6.92 6.9 0 0 0 60.8 103.7"/>
<path d="M60.8 22.8 V113.1"/>
<path d="M34.6 97.7 V104.5 A6.95 6.5 0 0 1 20.7 104.5 V78.6 A6.95 6.5 0 0 1 34.6 78.6 V92"/>
<path d="M20.7 89.5 H37.8" stroke-width="5"/>
</g>
<text x="114.2" y="31.7" font-size="15" font-weight="bold" fill="#fff" textLength="114.6" lengthAdjust="spacingAndGlyphs" stroke="#fff" stroke-width="0.3">avec les données</text>
<text x="114" y="49.9" font-size="15" font-weight="bold" fill="#fff" textLength="92.8" lengthAdjust="spacingAndGlyphs" stroke="#fff" stroke-width="0.3">MOTHERBASE</text>
<circle cx="141.4" cy="86.9" r="25.8" fill="none" stroke="#fff" stroke-width="1.3"/>
<path id="robot" fill="#fff" d="M134.8 76 C134.8 66.3 147.6 66.3 147.6 76 L147.8 80 C148.2 83.5 151.3 86.5 152 90 C152.8 94.5 151.5 97.5 148.3 100.3 L146.3 102.8 C145.6 104 144.8 104.3 143.8 104.3 L139 104.3 C138 104.3 137.2 104 136.5 102.8 L134.3 100.3 C131.2 97.5 129.8 94.5 130.6 90 C131.3 86.5 134.4 83.5 134.7 80 Z"/>
<rect x="135.2" y="85.2" width="12.2" height="8.9" fill="#1b1b30"/>
<path d="M131.6 87.6 L135.2 88.8 M147.4 88.8 L151 87.6" stroke="#1b1b30" stroke-width="0.7" fill="none"/>
<rect x="141.2" y="92.3" width="1.3" height="1" fill="#fff"/><rect x="143.1" y="92.3" width="1.3" height="1" fill="#fff"/><rect x="145" y="92.3" width="1.3" height="1" fill="#fff"/>
<circle cx="138.9" cy="75.6" r="0.95" fill="#1b1b30"/><circle cx="143.6" cy="75.6" r="0.95" fill="#1b1b30"/>
<text x="353.6" y="113.1" font-size="44" font-weight="bold" fill="#fff" textLength="185.6" lengthAdjust="spacingAndGlyphs" stroke="#fff" stroke-width="0.6">OCTOBRE</text>
<text x="547.4" y="113.1" font-size="44" font-weight="bold" fill="#fff" textLength="97.4" lengthAdjust="spacingAndGlyphs" stroke="#fff" stroke-width="0.6">2023</text>
<g id="baro">
<circle cx="1069" cy="72.05" r="37" fill="#43d5de"/>
<path d="M1041.7 80.2 L1048.8 72.8 L1080.9 87.5 L1097.1 67.5 A28.5 28.5 0 1 0 1041.7 80.2 Z" fill="#1b1b30"/>
<path d="M1021.1 101.8 L1048.8 72.8 L1080.9 87.5 L1112 49.5" fill="none" stroke="#fff" stroke-width="7" stroke-linecap="round" stroke-linejoin="miter" stroke-miterlimit="6"/>
<path d="M1122.6 33.4 L1102.9 42.4 L1120 55 Z" fill="#fff" stroke="#fff" stroke-width="2" stroke-linejoin="round"/>
<text x="1138" y="49.2" font-size="17" font-weight="bold" fill="#43d5de" textLength="115.9" lengthAdjust="spacingAndGlyphs" stroke="#43d5de" stroke-width="0.8">LE BAROMÈTRE</text>
<text x="1138" y="69.3" font-size="21.8" font-weight="bold" fill="#43d5de" textLength="115.9" lengthAdjust="spacingAndGlyphs" stroke="#43d5de" stroke-width="0.9">DE L’EMPLOI</text>
<text x="1138" y="86.4" font-size="17" font-weight="bold" fill="#fff" textLength="115.9" lengthAdjust="spacingAndGlyphs" stroke="#fff" stroke-width="0.8">DES STARTUPS</text>
<text x="1138" y="108.2" font-size="24.3" font-weight="bold" fill="#43d5de" textLength="115.9" lengthAdjust="spacingAndGlyphs" stroke="#43d5de" stroke-width="1">EN FRANCE</text>
</g>
<text x="843.2" y="206.5" font-size="24" font-weight="bold" fill="#b4c7e7" textLength="27" lengthAdjust="spacingAndGlyphs" stroke="#b4c7e7" stroke-width="0.45">La</text>
<text x="876.3" y="206.5" font-size="29.5" font-weight="bold" fill="#fff" textLength="113.2" lengthAdjust="spacingAndGlyphs" stroke="#fff" stroke-width="0.7">stabilité</text>
<text x="990.7" y="206.5" font-size="24" font-weight="bold" fill="#b4c7e7" textLength="231.8" lengthAdjust="spacingAndGlyphs" stroke="#b4c7e7" stroke-width="0.45">, constatée au niveau</text>
<text x="843.2" y="244.1" font-size="24" font-weight="bold" fill="#b4c7e7" textLength="94.1" lengthAdjust="spacingAndGlyphs" stroke="#b4c7e7" stroke-width="0.45">national,</text>
<text x="943.7" y="244.1" font-size="29.5" font-weight="bold" fill="#fff" textLength="194.7" lengthAdjust="spacingAndGlyphs" stroke="#fff" stroke-width="0.7">se matérialise</text>
<text x="843.2" y="280.7" font-size="24" font-weight="bold" fill="#b4c7e7" textLength="174.2" lengthAdjust="spacingAndGlyphs" stroke="#b4c7e7" stroke-width="0.45">également dans</text>
<text x="1022.1" y="280.7" font-size="29.5" font-weight="bold" fill="#fff" textLength="192.2" lengthAdjust="spacingAndGlyphs" stroke="#fff" stroke-width="0.7">les régions de</text>
<text x="843.2" y="318.2" font-size="29.5" font-weight="bold" fill="#fff" textLength="309.1" lengthAdjust="spacingAndGlyphs" stroke="#fff" stroke-width="0.7">France métropolitaine</text>
<text x="1153.2" y="318.2" font-size="24" font-weight="bold" fill="#b4c7e7" textLength="51.6" lengthAdjust="spacingAndGlyphs" stroke="#b4c7e7" stroke-width="0.45">. Les</text>
<text x="843.2" y="356.6" font-size="29.5" font-weight="bold" fill="#fff" textLength="333.1" lengthAdjust="spacingAndGlyphs" stroke="#fff" stroke-width="0.7">différences sont ténues</text>
<text x="1183.8" y="356.6" font-size="24" font-weight="bold" fill="#b4c7e7" textLength="58.8" lengthAdjust="spacingAndGlyphs" stroke="#b4c7e7" stroke-width="0.45">d’une</text>
<text x="843.2" y="394" font-size="24" font-weight="bold" fill="#b4c7e7" textLength="301.3" lengthAdjust="spacingAndGlyphs" stroke="#b4c7e7" stroke-width="0.45">région sur l’autre, même si l’</text>
<text x="1145.7" y="394" font-size="29.5" font-weight="bold" fill="#fff" textLength="93.4" lengthAdjust="spacingAndGlyphs" stroke="#fff" stroke-width="0.7">Île-de-</text>
<text x="843.2" y="431.1" font-size="29.5" font-weight="bold" fill="#fff" textLength="234.2" lengthAdjust="spacingAndGlyphs" stroke="#fff" stroke-width="0.7">France décroche</text>
<text x="1084.6" y="431.1" font-size="24" font-weight="bold" fill="#b4c7e7" textLength="172.1" lengthAdjust="spacingAndGlyphs" stroke="#b4c7e7" stroke-width="0.45">légèrement une</text>
<text x="843.2" y="461.1" font-size="24" font-weight="bold" fill="#b4c7e7" textLength="282.9" lengthAdjust="spacingAndGlyphs" stroke="#b4c7e7" stroke-width="0.45">seconde fois cette année.</text>
<text x="844.1" y="537.9" font-size="15.3" font-weight="normal" fill="#fff" textLength="338.6" lengthAdjust="spacingAndGlyphs" >Création nette d’emplois dans les startups de France</text>
<text x="844.1" y="555.9" font-size="15.3" font-weight="normal" fill="#fff" textLength="100" lengthAdjust="spacingAndGlyphs" >métropolitaine.</text>
<text x="844.1" y="573.9" font-size="15.3" font-weight="normal" fill="#fff" textLength="243.2" lengthAdjust="spacingAndGlyphs" >octobre 2023– Source: motherbase.ai</text>
<text x="843.5" y="613.8" font-size="14.5" font-weight="normal" fill="#fff" textLength="9.6" lengthAdjust="spacingAndGlyphs" >E</text>
<text x="853.2" y="613.8" font-size="19" font-weight="normal" fill="#fff" textLength="239.8" lengthAdjust="spacingAndGlyphs" >chantillon de 10.529 startups.</text>
<text x="899.8" y="675.2" font-size="10.5" font-weight="normal" fill="#50505e" textLength="43.7" lengthAdjust="spacingAndGlyphs" >Avec Bing</text>
<text x="786.6" y="688.5" font-size="10.5" font-weight="normal" fill="#50505e" textLength="157" lengthAdjust="spacingAndGlyphs" >© GeoNames, Microsoft, TomTom</text>
<text x="354.1" y="650.7" font-size="4.7" font-weight="normal" fill="#50505e" textLength="19.4" lengthAdjust="spacingAndGlyphs" >Avec Bing</text>
<text x="303" y="656.7" font-size="4.7" font-weight="normal" fill="#50505e" textLength="70" lengthAdjust="spacingAndGlyphs" >© GeoNames, Microsoft, TomTom</text>
<text x="106.6" y="680.5" font-size="26.6" font-weight="bold" fill="#fff" textLength="86" lengthAdjust="spacingAndGlyphs" stroke="#fff" stroke-width="0.5">CUMUL</text>
<text x="198.4" y="680.5" font-size="26.6" font-weight="bold" fill="#fff" textLength="60.6" lengthAdjust="spacingAndGlyphs" stroke="#fff" stroke-width="0.5">2023</text>
<text x="1118.9" y="711.7" font-size="25.2" font-weight="bold" fill="#43d5de" textLength="93.6" lengthAdjust="spacingAndGlyphs" stroke="#43d5de" stroke-width="0.5">octobre</text>
<text x="1225.7" y="711.7" font-size="25.2" font-weight="bold" fill="#43d5de" textLength="59.4" lengthAdjust="spacingAndGlyphs" stroke="#43d5de" stroke-width="0.5">2023</text>
</svg>
</body></html>
